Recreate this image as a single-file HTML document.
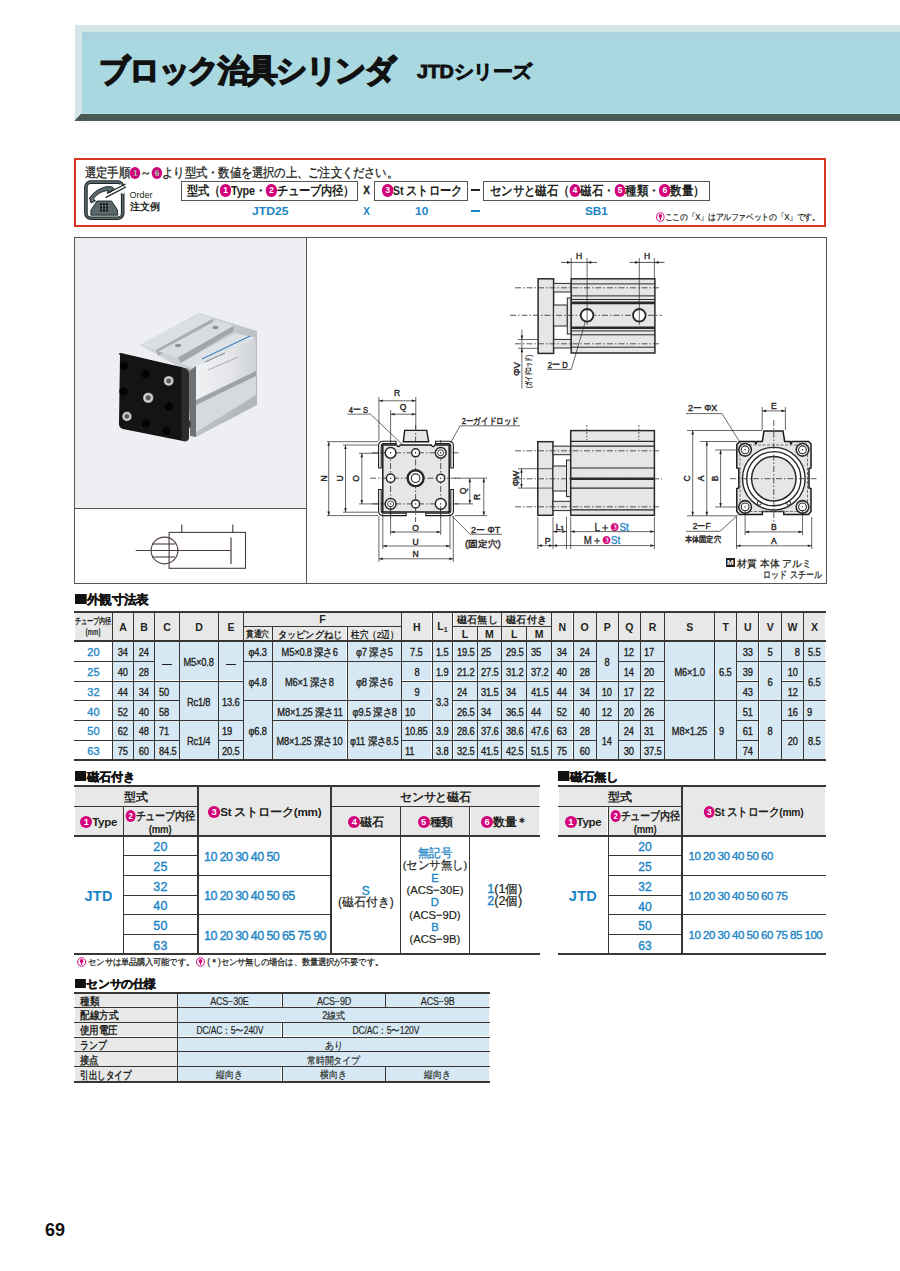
<!DOCTYPE html><html><head><meta charset="utf-8"><style>
*{margin:0;padding:0;box-sizing:border-box}
html,body{width:900px;height:1271px;overflow:hidden;background:#fff}
body{position:relative;font-family:"Liberation Sans",sans-serif;color:#231f20}
.t{position:absolute;white-space:nowrap}
.r{position:absolute}
.cn{display:inline-block;border-radius:50%;background:#d2007a;color:#fff;text-align:center;font-weight:bold;vertical-align:middle;position:relative;top:-1px}
svg{position:absolute;left:0;top:0}
</style></head><body>
<div class="r" style="left:74.5px;top:25.0px;width:825.5px;height:96.0px;background:#485a55;"></div>
<div class="r" style="left:74.5px;top:25.0px;width:825.5px;height:88.5px;background:#d3e6e8;"></div>
<div class="r" style="left:81.5px;top:32.0px;width:818.5px;height:81.5px;background:#a9d8e0;"></div>
<div class="r" style="left:81.5px;top:32.0px;width:818.5px;height:7.5px;background:#a8d3df;"></div>
<div class="r" style="left:81.5px;top:112.5px;width:818.5px;height:1.0px;background:#b4dde8;"></div>
<svg width="900" height="130" style="left:0;top:0"><polygon points="74.5,113.5 81.5,113.5 74.5,121" fill="#d3e6e8"/><polygon points="74.5,121 81.5,113.5 81.5,121" fill="#46574f"/></svg>
<div class="t" style="left:99.0px;top:54.7px;font-size:30.5px;line-height:30.5px;font-weight:bold;color:#111;letter-spacing:-1.9px;-webkit-text-stroke:1.7px #111;transform:scaleX(0.9900);transform-origin:0 0;">ブロック治具シリンダ</div>
<div class="t" style="left:417.0px;top:61.9px;font-size:19px;line-height:19px;font-weight:bold;color:#111;letter-spacing:-0.3px;-webkit-text-stroke:0.8px #111;transform:scaleX(1.0455);transform-origin:0 0;">JTDシリーズ</div>
<div class="r" style="left:74px;top:157.8px;width:751.5px;height:69.2px;border:2px solid #d9361f"></div>
<div class="t" style="left:85.0px;top:166.9px;font-size:12.5px;line-height:12.5px;letter-spacing:-0.2px;-webkit-text-stroke:0.3px #231f20;transform:scaleX(0.8768);transform-origin:0 0;">選定手順<span class="cn" style="width:12px;height:12px;font-size:9.4px;line-height:12px">1</span>～<span class="cn" style="width:12px;height:12px;font-size:9.4px;line-height:12px">6</span>より型式・数値を選択の上、ご注文ください。</div>
<svg width="50" height="48" style="left:80px;top:176px" viewBox="0 0 50 48">
<rect x="5.9" y="6.1" width="36.8" height="36.1" rx="5" ry="5" fill="#fff" stroke="#1c2426" stroke-width="3.6"/>
<rect x="5.9" y="6.1" width="36.8" height="36.1" rx="5" ry="5" fill="none" stroke="#5a686c" stroke-width="1.6"/>
<path d="M40 8 L46 12 L44 18 L38 16 Z" fill="#fff"/>
<path d="M9.5 22 C14 15 22 11 28.5 10.5 C31 10.3 33 11 34 12.5 L31 16 L27.5 16.5 L28 14.5 C22 15 16 18.5 13.5 23 L15.5 25 L11 27 Z" fill="#5a686c" stroke="#1c2426" stroke-width="0.9"/>
<path d="M25.5 21.7 L46 11 M27 17.5 L45.5 8" stroke="#1c2426" stroke-width="1.3"/>
<path d="M10.8 39.2 L37.8 39.2 L37.5 34 L31.5 25 L17 25 L11 34 Z" fill="#5a686c" stroke="#1c2426" stroke-width="0.9"/>
<path d="M20 27.2 h2 v2 h-2z M23 27.2 h2 v2 h-2z M26 27.2 h2 v2 h-2z M20 30.4 h2 v2 h-2z M23 30.4 h2 v2 h-2z M26 30.4 h2 v2 h-2z M20 33.6 h2 v2 h-2z M23 33.6 h2 v2 h-2z M26 33.6 h2 v2 h-2z" fill="#111"/>
</svg>
<div class="t" style="left:129.5px;top:190.7px;font-size:9px;line-height:9px;">Order</div>
<div class="t" style="left:129.5px;top:201.5px;font-size:10px;line-height:10px;font-weight:bold;">注文例</div>
<div class="r" style="left:180.7px;top:180.7px;width:177.6px;height:20px;border:1.5px solid #555"></div>
<div class="r" style="left:373.8px;top:180.7px;width:94.4px;height:20px;border:1.5px solid #555"></div>
<div class="r" style="left:482.9px;top:180.7px;width:227.3px;height:20px;border:1.5px solid #555"></div>
<div class="t" style="left:186.5px;top:184.9px;font-size:12.5px;line-height:12.5px;font-weight:bold;letter-spacing:-0.2px;transform:scaleX(0.8653);transform-origin:0 0;">型式（<span class="cn" style="width:12.5px;height:12.5px;font-size:9.8px;line-height:12.5px">1</span>Type・<span class="cn" style="width:12.5px;height:12.5px;font-size:9.8px;line-height:12.5px">2</span>チューブ内径）</div>
<div class="t" style="left:363.3px;top:186.1px;font-size:10px;line-height:10px;font-weight:bold;-webkit-text-stroke:0.3px #231f20;">X</div>
<div class="t" style="left:381.5px;top:184.9px;font-size:12.5px;line-height:12.5px;font-weight:bold;letter-spacing:-0.2px;transform:scaleX(0.8696);transform-origin:0 0;"><span class="cn" style="width:12.5px;height:12.5px;font-size:9.8px;line-height:12.5px">3</span>St ストローク</div>
<div class="r" style="left:471.0px;top:189.2px;width:9.0px;height:2.0px;background:#231f20;"></div>
<div class="t" style="left:489.5px;top:184.9px;font-size:12.5px;line-height:12.5px;font-weight:bold;letter-spacing:-0.2px;transform:scaleX(0.8843);transform-origin:0 0;">センサと磁石（<span class="cn" style="width:12.5px;height:12.5px;font-size:9.8px;line-height:12.5px">4</span>磁石・<span class="cn" style="width:12.5px;height:12.5px;font-size:9.8px;line-height:12.5px">5</span>種類・<span class="cn" style="width:12.5px;height:12.5px;font-size:9.8px;line-height:12.5px">6</span>数量）</div>
<div class="t" style="left:251.7px;top:205.5px;font-size:11.5px;line-height:11.5px;font-weight:bold;color:#1a84c6;transform:scaleX(1.0571);transform-origin:0 0;">JTD25</div>
<div class="t" style="left:363.3px;top:207.0px;font-size:10px;line-height:10px;font-weight:bold;color:#1a84c6;">X</div>
<div class="t" style="left:415.0px;top:206.2px;font-size:11px;line-height:11px;font-weight:bold;color:#1a84c6;transform:scaleX(1.0833);transform-origin:0 0;">10</div>
<div class="r" style="left:471.0px;top:210.2px;width:9.0px;height:1.8px;background:#1a84c6;"></div>
<div class="t" style="left:585.4px;top:206.2px;font-size:11px;line-height:11px;font-weight:bold;color:#1a84c6;transform:scaleX(1.0714);transform-origin:0 0;">SB1</div>
<div class="t" style="left:656.0px;top:212.9px;font-size:9px;line-height:9px;letter-spacing:-0.3px;-webkit-text-stroke:0.2px #231f20;transform:scaleX(0.8770);transform-origin:0 0;"><svg width="10" height="10" viewBox="0 0 10 10" style="position:relative;display:inline-block;vertical-align:middle;top:-1px;left:0"><circle cx="5" cy="5" r="4.3" fill="#fff" stroke="#d2007a" stroke-width="1"/><circle cx="5" cy="4" r="2" fill="#d2007a"/><rect x="4.4" y="5" width="1.2" height="3" fill="#d2007a"/></svg>ここの「X」はアルファベットの「X」です。</div>
<div class="r" style="left:74px;top:237px;width:752.5px;height:346.5px;border:1px solid #555"></div>
<div class="r" style="left:75.0px;top:238.0px;width:231.2px;height:270.5px;background:#eeeff3;"></div>
<div class="r" style="left:306.0px;top:237.0px;width:1.0px;height:347.0px;background:#555;"></div>
<div class="r" style="left:74.0px;top:508.0px;width:233.0px;height:1.0px;background:#555;"></div>
<svg width="900" height="600" style="font-family:&quot;Liberation Sans&quot;,sans-serif"><circle cx="164.5" cy="550.5" r="13.4" fill="none" stroke="#4a3f3c" stroke-width="1.1"/><rect x="169.1" y="532.4" width="76.4" height="35.89999999999998" fill="none" stroke="#4a3f3c" stroke-width="1.1" rx="0"/><line x1="135.7" y1="550.5" x2="231" y2="550.5" stroke="#4a3f3c" stroke-width="1.1"/><line x1="231" y1="537.5" x2="231" y2="564" stroke="#4a3f3c" stroke-width="1.2"/><line x1="181.8" y1="524.4" x2="181.8" y2="532.4" stroke="#4a3f3c" stroke-width="1.1"/><line x1="232.8" y1="524.4" x2="232.8" y2="532.4" stroke="#4a3f3c" stroke-width="1.1"/><line x1="152" y1="544" x2="175" y2="544" stroke="#4a3f3c" stroke-width="1.1"/><line x1="152" y1="557" x2="175" y2="557" stroke="#4a3f3c" stroke-width="1.1"/><defs>
<linearGradient id="al" x1="0" y1="0" x2="1" y2="0.6"><stop offset="0" stop-color="#d5d8dc"/><stop offset="0.55" stop-color="#c9cdd1"/><stop offset="1" stop-color="#b3b7bb"/></linearGradient>
<linearGradient id="fr" x1="0" y1="0" x2="1" y2="0"><stop offset="0" stop-color="#f2f3f5"/><stop offset="0.6" stop-color="#e3e5e8"/><stop offset="1" stop-color="#cfd2d6"/></linearGradient>
<radialGradient id="scr"><stop offset="0" stop-color="#6b6b6b"/><stop offset="0.45" stop-color="#9a9a9a"/><stop offset="0.7" stop-color="#e0e0e0"/><stop offset="1" stop-color="#8a8a8a"/></radialGradient>
</defs><polygon points="140,345 199,313 257,331 257,405 196,437 188,372" fill="url(#al)"/><polygon points="140.5,344.7 199,314 213,318.5 156,350" fill="#dcdfe2"/><polygon points="156,350 213,318.5 213,324 158,356" fill="#a9adb1"/><polygon points="158.5,351.5 217,320 233.5,326 178,357.5" fill="#d9dce0"/><polygon points="178,357.5 233.5,326 233.5,331 181,363" fill="#a2a6aa"/><ellipse cx="178" cy="345.5" rx="3" ry="1.7" fill="#8d9195"/><ellipse cx="215.5" cy="327.5" rx="3" ry="1.7" fill="#8d9195"/><polygon points="193,366 235,336 256,340 256,376 196,405" fill="url(#fr)"/><polygon points="181,363 235,333 256,338 193,368" fill="#dfe2e5"/><line x1="202" y1="359" x2="250" y2="336" stroke="#3f7fc6" stroke-width="1.1"/><line x1="205" y1="362" x2="225" y2="353" stroke="#7a8088" stroke-width="1"/><line x1="208" y1="370" x2="238" y2="357" stroke="#9aa0a6" stroke-width="0.8"/><polygon points="196,404 256,375 256,395 196,432" fill="#d7dadd"/><polygon points="196,400 256,371 256,376 196,405" fill="#9ea3a8"/><polygon points="188,372 196,366 196,437 190,436" fill="#6e7276"/><ellipse cx="186" cy="372" rx="4" ry="3.5" fill="#c9cbcd" stroke="#555" stroke-width="0.6"/><ellipse cx="188" cy="424" rx="3" ry="4" fill="#3a3a3a"/><path d="M120 355 Q117 353.5 121 353 L181 367 Q189 369 189 373 L189 437 Q189 442 183 441 L123 429 Q119 428 119 424 Z" fill="#141414"/><path d="M181 367 Q189 369 189 373 L189 437 Q189 442 183 441 L181.5 440.5 L181.5 370 Z" fill="#2c2c2c"/><circle cx="124.2" cy="366" r="4.2" fill="#040404"/><circle cx="145.6" cy="374" r="4.3" fill="#040404"/><circle cx="123.5" cy="391.5" r="4.2" fill="#040404"/><circle cx="168.7" cy="406.7" r="4.2" fill="#040404"/><circle cx="145.6" cy="423.6" r="4.2" fill="#040404"/><circle cx="166.9" cy="431" r="4" fill="#040404"/><circle cx="168.7" cy="380.9" r="5.0" fill="url(#scr)"/><circle cx="168.7" cy="380.9" r="2.25" fill="#5a5a5a"/><circle cx="148.2" cy="397.8" r="5.3" fill="url(#scr)"/><circle cx="148.2" cy="397.8" r="2.385" fill="#5a5a5a"/><circle cx="126.9" cy="416.4" r="4.8" fill="url(#scr)"/><circle cx="126.9" cy="416.4" r="2.16" fill="#5a5a5a"/><rect x="538.1" y="278.8" width="15.5" height="74.59999999999997" fill="#e6e6e6" stroke="#2b2726" stroke-width="1.5" rx="0"/><rect x="553.6" y="283.4" width="17.600000000000023" height="8.600000000000023" fill="#e6e6e6" stroke="#2b2726" stroke-width="1" rx="0"/><rect x="553.6" y="305" width="13.699999999999932" height="21" fill="#e6e6e6" stroke="#2b2726" stroke-width="1" rx="0"/><rect x="553.6" y="339.4" width="17.600000000000023" height="8.600000000000023" fill="#e6e6e6" stroke="#2b2726" stroke-width="1" rx="0"/><rect x="567.3" y="298" width="3.900000000000091" height="36" fill="#e6e6e6" stroke="#2b2726" stroke-width="1" rx="0"/><rect x="571.2" y="278.8" width="83.69999999999993" height="74.19999999999999" fill="#e6e6e6" stroke="#2b2726" stroke-width="1.5" rx="0"/><line x1="571.2" y1="283.9" x2="654.9" y2="283.9" stroke="#2b2726" stroke-width="1.0"/><line x1="571.2" y1="295.9" x2="654.9" y2="295.9" stroke="#2b2726" stroke-width="1.0"/><line x1="571.2" y1="299.5" x2="654.9" y2="299.5" stroke="#2b2726" stroke-width="1.0"/><line x1="571.2" y1="347.2" x2="654.9" y2="347.2" stroke="#2b2726" stroke-width="1.0"/><line x1="571.2" y1="330.9" x2="654.9" y2="330.9" stroke="#2b2726" stroke-width="1.0"/><line x1="571.2" y1="334.8" x2="654.9" y2="334.8" stroke="#2b2726" stroke-width="1.0"/><line x1="571.2" y1="302.9" x2="654.9" y2="302.9" stroke="#2b2726" stroke-width="2.6"/><line x1="571.2" y1="327.8" x2="654.9" y2="327.8" stroke="#2b2726" stroke-width="2.6"/><line x1="515" y1="287.8" x2="661" y2="287.8" stroke="#3a3a3a" stroke-width="0.85" stroke-dasharray="6 2 1.5 2"/><line x1="510" y1="315.3" x2="662" y2="315.3" stroke="#3a3a3a" stroke-width="0.85" stroke-dasharray="6 2 1.5 2"/><line x1="515" y1="343.8" x2="661" y2="343.8" stroke="#3a3a3a" stroke-width="0.85" stroke-dasharray="6 2 1.5 2"/><circle cx="587.1" cy="315.3" r="6.3" fill="#fff" stroke="#2b2726" stroke-width="1.8"/><circle cx="639.3" cy="315.3" r="6.3" fill="#fff" stroke="#2b2726" stroke-width="1.8"/><line x1="587.1" y1="258" x2="587.1" y2="325" stroke="#2b2726" stroke-width="0.7"/><line x1="639.3" y1="258" x2="639.3" y2="325" stroke="#2b2726" stroke-width="0.7"/><line x1="571.2" y1="258" x2="571.2" y2="278" stroke="#2b2726" stroke-width="0.7"/><line x1="654.4" y1="258" x2="654.4" y2="278" stroke="#2b2726" stroke-width="0.7"/><line x1="561" y1="262.4" x2="597" y2="262.4" stroke="#2b2726" stroke-width="0.8"/><line x1="629.5" y1="262.4" x2="664.5" y2="262.4" stroke="#2b2726" stroke-width="0.8"/><polygon points="571.2,262.4 567,261 567,263.8" fill="#2b2726"/><polygon points="587.1,262.4 591.3,261 591.3,263.8" fill="#2b2726"/><polygon points="639.3,262.4 635.1,261 635.1,263.8" fill="#2b2726"/><polygon points="654.4,262.4 658.6,261 658.6,263.8" fill="#2b2726"/><text x="579" y="259" font-size="8.5" text-anchor="middle" fill="#2b2726" font-weight="normal" stroke="#2b2726" stroke-width="0.4">H</text><text x="647" y="259" font-size="8.5" text-anchor="middle" fill="#2b2726" font-weight="normal" stroke="#2b2726" stroke-width="0.4">H</text><line x1="521.9" y1="329.5" x2="521.9" y2="388.6" stroke="#2b2726" stroke-width="0.7"/><polygon points="521.9,339.5 520.6,335.5 523.2,335.5" fill="#2b2726"/><polygon points="521.9,348.3 520.6,352.3 523.2,352.3" fill="#2b2726"/><line x1="518" y1="339.5" x2="538" y2="339.5" stroke="#2b2726" stroke-width="0.7"/><line x1="518" y1="348.3" x2="538" y2="348.3" stroke="#2b2726" stroke-width="0.7"/><text x="519.5" y="369" font-size="9.5" text-anchor="middle" fill="#2b2726" font-weight="normal" transform="rotate(-90 519.5 369)" textLength="14" lengthAdjust="spacingAndGlyphs" stroke="#2b2726" stroke-width="0.4">ΦV</text><text x="531" y="371.5" font-size="7.5" text-anchor="middle" fill="#2b2726" font-weight="normal" transform="rotate(-90 531 371.5)" textLength="33" lengthAdjust="spacingAndGlyphs" stroke="#2b2726" stroke-width="0.4">(ガイドロッド)</text><text x="547.8" y="367.5" font-size="9.5" text-anchor="start" fill="#2b2726" font-weight="normal" textLength="20" lengthAdjust="spacingAndGlyphs" stroke="#2b2726" stroke-width="0.4">2ー D</text><line x1="547" y1="369.4" x2="571.3" y2="369.4" stroke="#2b2726" stroke-width="0.7"/><line x1="571.3" y1="369.4" x2="585.5" y2="321" stroke="#2b2726" stroke-width="0.7"/><line x1="327" y1="441.7" x2="378" y2="441.7" stroke="#2b2726" stroke-width="0.7"/><line x1="343" y1="445" x2="382" y2="445" stroke="#2b2726" stroke-width="0.7"/><line x1="359" y1="453.3" x2="388" y2="453.3" stroke="#2b2726" stroke-width="0.7"/><line x1="327" y1="515.6" x2="378" y2="515.6" stroke="#2b2726" stroke-width="0.7"/><line x1="343" y1="512.2" x2="382" y2="512.2" stroke="#2b2726" stroke-width="0.7"/><line x1="359" y1="503.9" x2="388" y2="503.9" stroke="#2b2726" stroke-width="0.7"/><line x1="328.7" y1="441.7" x2="328.7" y2="515.6" stroke="#2b2726" stroke-width="0.7"/><polygon points="328.7,441.7 327.4,445.7 330.0,445.7" fill="#2b2726"/><polygon points="328.7,515.6 327.4,511.6 330.0,511.6" fill="#2b2726"/><line x1="345.5" y1="445" x2="345.5" y2="512.2" stroke="#2b2726" stroke-width="0.7"/><polygon points="345.5,445 344.2,449 346.8,449" fill="#2b2726"/><polygon points="345.5,512.2 344.2,508.20000000000005 346.8,508.20000000000005" fill="#2b2726"/><line x1="361.8" y1="453.3" x2="361.8" y2="503.9" stroke="#2b2726" stroke-width="0.7"/><polygon points="361.8,453.3 360.5,457.3 363.1,457.3" fill="#2b2726"/><polygon points="361.8,503.9 360.5,499.9 363.1,499.9" fill="#2b2726"/><text x="327" y="478.5" font-size="8.5" text-anchor="middle" fill="#2b2726" font-weight="normal" transform="rotate(-90 327 478.5)" stroke="#2b2726" stroke-width="0.4">N</text><text x="342.5" y="478.5" font-size="8.5" text-anchor="middle" fill="#2b2726" font-weight="normal" transform="rotate(-90 342.5 478.5)" stroke="#2b2726" stroke-width="0.4">U</text><text x="358.5" y="478.5" font-size="8.5" text-anchor="middle" fill="#2b2726" font-weight="normal" transform="rotate(-90 358.5 478.5)" stroke="#2b2726" stroke-width="0.4">O</text><line x1="378.9" y1="397" x2="378.9" y2="441" stroke="#2b2726" stroke-width="0.7"/><line x1="390.6" y1="410" x2="390.6" y2="452" stroke="#2b2726" stroke-width="0.7"/><line x1="415.8" y1="397" x2="415.8" y2="430" stroke="#2b2726" stroke-width="0.7"/><line x1="378.9" y1="400.8" x2="415.8" y2="400.8" stroke="#2b2726" stroke-width="0.7"/><polygon points="378.9,400.8 382.9,399.5 382.9,402.1" fill="#2b2726"/><polygon points="415.8,400.8 411.8,399.5 411.8,402.1" fill="#2b2726"/><line x1="390.6" y1="414.2" x2="415.8" y2="414.2" stroke="#2b2726" stroke-width="0.7"/><polygon points="390.6,414.2 394.6,412.9 394.6,415.5" fill="#2b2726"/><polygon points="415.8,414.2 411.8,412.9 411.8,415.5" fill="#2b2726"/><text x="397" y="396" font-size="8.5" text-anchor="middle" fill="#2b2726" font-weight="normal" stroke="#2b2726" stroke-width="0.4">R</text><text x="403" y="409.5" font-size="8.5" text-anchor="middle" fill="#2b2726" font-weight="normal" stroke="#2b2726" stroke-width="0.4">Q</text><text x="348.7" y="412.8" font-size="9.5" text-anchor="start" fill="#2b2726" font-weight="normal" textLength="19.3" lengthAdjust="spacingAndGlyphs" stroke="#2b2726" stroke-width="0.4">4ー S</text><line x1="347.5" y1="414.2" x2="370.5" y2="414.2" stroke="#2b2726" stroke-width="0.7"/><line x1="370.5" y1="414.2" x2="405" y2="447" stroke="#2b2726" stroke-width="0.7"/><polygon points="404.7,430.4 426.7,430.4 428.7,441.7 403.3,441.7" fill="#e6e6e6" stroke="#1e1a19" stroke-width="1.4"/><path d="M382.8 445 H396.6 Q398.4 448.5 400.2 445 H431.3 Q433.1 448.5 434.9 445 H449.2 V512 H382.8 Z" fill="#e6e6e6" stroke="#1e1a19" stroke-width="1.5"/><path d="M396 441.2 H383 Q378.6 441.2 378.6 445.6 V468 H381.2 V446.5 Q381.2 443.6 384 443.6 H396 Z" fill="#fff" stroke="#1e1a19" stroke-width="1.1"/><path d="M435.5 441.2 H449 Q453.4 441.2 453.4 445.6 V468 H450.8 V446.5 Q450.8 443.6 448 443.6 H435.5 Z" fill="#fff" stroke="#1e1a19" stroke-width="1.1"/><path d="M378.6 489.5 V511 Q378.6 515.6 383 515.6 H406.2 V513.2 H384 Q381.2 513.2 381.2 510.4 V489.5 Z" fill="#fff" stroke="#1e1a19" stroke-width="1.1"/><path d="M453.4 489.5 V511 Q453.4 515.6 449 515.6 H425.8 V513.2 H448 Q450.8 513.2 450.8 510.4 V489.5 Z" fill="#fff" stroke="#1e1a19" stroke-width="1.1"/><line x1="372" y1="452.8" x2="460" y2="452.8" stroke="#3a3a3a" stroke-width="0.85" stroke-dasharray="6 2 1.5 2"/><line x1="370" y1="478.2" x2="462" y2="478.2" stroke="#3a3a3a" stroke-width="0.85" stroke-dasharray="6 2 1.5 2"/><line x1="372" y1="503.9" x2="460" y2="503.9" stroke="#3a3a3a" stroke-width="0.85" stroke-dasharray="6 2 1.5 2"/><line x1="390.6" y1="440" x2="390.6" y2="518" stroke="#3a3a3a" stroke-width="0.85" stroke-dasharray="6 2 1.5 2"/><line x1="415.6" y1="425" x2="415.6" y2="522" stroke="#3a3a3a" stroke-width="0.85" stroke-dasharray="6 2 1.5 2"/><line x1="440.7" y1="440" x2="440.7" y2="518" stroke="#3a3a3a" stroke-width="0.85" stroke-dasharray="6 2 1.5 2"/><circle cx="390.6" cy="452.8" r="5.4" fill="#fff" stroke="#2b2726" stroke-width="1.5"/><circle cx="390.6" cy="452.8" r="0.7" fill="#1e1a19"/><circle cx="415.6" cy="452.8" r="4" fill="#fff" stroke="#2b2726" stroke-width="1.5"/><circle cx="415.6" cy="452.8" r="0.7" fill="#1e1a19"/><circle cx="440.7" cy="452.8" r="5.4" fill="#fff" stroke="#2b2726" stroke-width="1.5"/><circle cx="440.7" cy="452.8" r="3" fill="none" stroke="#2b2726" stroke-width="0.9"/><circle cx="440.7" cy="452.8" r="0.7" fill="#1e1a19"/><circle cx="390.6" cy="478.2" r="4.2" fill="#fff" stroke="#2b2726" stroke-width="1.5"/><circle cx="390.6" cy="478.2" r="0.7" fill="#1e1a19"/><circle cx="440.7" cy="478.2" r="4" fill="#fff" stroke="#2b2726" stroke-width="1.5"/><circle cx="440.7" cy="478.2" r="0.7" fill="#1e1a19"/><circle cx="390.6" cy="503.9" r="5.4" fill="#fff" stroke="#2b2726" stroke-width="1.5"/><circle cx="390.6" cy="503.9" r="3" fill="none" stroke="#2b2726" stroke-width="0.9"/><circle cx="390.6" cy="503.9" r="0.7" fill="#1e1a19"/><circle cx="415.6" cy="503.9" r="4" fill="#fff" stroke="#2b2726" stroke-width="1.5"/><circle cx="415.6" cy="503.9" r="0.7" fill="#1e1a19"/><circle cx="440.7" cy="503.9" r="5.4" fill="#fff" stroke="#2b2726" stroke-width="1.5"/><circle cx="440.7" cy="503.9" r="0.7" fill="#1e1a19"/><circle cx="415.6" cy="478.2" r="7.9" fill="#fff" stroke="#2b2726" stroke-width="2.4"/><circle cx="415.6" cy="478.2" r="4.3" fill="none" stroke="#2b2726" stroke-width="1.1"/><line x1="455" y1="478.2" x2="487" y2="478.2" stroke="#2b2726" stroke-width="0.7"/><line x1="455" y1="503.9" x2="473" y2="503.9" stroke="#2b2726" stroke-width="0.7"/><line x1="455" y1="515.6" x2="487" y2="515.6" stroke="#2b2726" stroke-width="0.7"/><line x1="469.8" y1="478.2" x2="469.8" y2="503.9" stroke="#2b2726" stroke-width="0.7"/><polygon points="469.8,478.2 468.5,482.2 471.1,482.2" fill="#2b2726"/><polygon points="469.8,503.9 468.5,499.9 471.1,499.9" fill="#2b2726"/><line x1="483.8" y1="478.2" x2="483.8" y2="515.6" stroke="#2b2726" stroke-width="0.7"/><polygon points="483.8,478.2 482.5,482.2 485.1,482.2" fill="#2b2726"/><polygon points="483.8,515.6 482.5,511.6 485.1,511.6" fill="#2b2726"/><text x="466" y="491" font-size="8.5" text-anchor="middle" fill="#2b2726" font-weight="normal" transform="rotate(-90 466 491)" stroke="#2b2726" stroke-width="0.4">Q</text><text x="480" y="497" font-size="8.5" text-anchor="middle" fill="#2b2726" font-weight="normal" transform="rotate(-90 480 497)" stroke="#2b2726" stroke-width="0.4">R</text><line x1="390.6" y1="506" x2="390.6" y2="535" stroke="#2b2726" stroke-width="0.7"/><line x1="440.7" y1="506" x2="440.7" y2="535" stroke="#2b2726" stroke-width="0.7"/><line x1="382.8" y1="514" x2="382.8" y2="549" stroke="#2b2726" stroke-width="0.7"/><line x1="450" y1="514" x2="450" y2="549" stroke="#2b2726" stroke-width="0.7"/><line x1="378.9" y1="516" x2="378.9" y2="562" stroke="#2b2726" stroke-width="0.7"/><line x1="453.3" y1="516" x2="453.3" y2="562" stroke="#2b2726" stroke-width="0.7"/><line x1="390.6" y1="532" x2="440.7" y2="532" stroke="#2b2726" stroke-width="0.7"/><polygon points="390.6,532 394.6,530.7 394.6,533.3" fill="#2b2726"/><polygon points="440.7,532 436.7,530.7 436.7,533.3" fill="#2b2726"/><line x1="382.8" y1="546" x2="450" y2="546" stroke="#2b2726" stroke-width="0.7"/><polygon points="382.8,546 386.8,544.7 386.8,547.3" fill="#2b2726"/><polygon points="450,546 446,544.7 446,547.3" fill="#2b2726"/><line x1="378.9" y1="558.8" x2="453.3" y2="558.8" stroke="#2b2726" stroke-width="0.7"/><polygon points="378.9,558.8 382.9,557.5 382.9,560.0999999999999" fill="#2b2726"/><polygon points="453.3,558.8 449.3,557.5 449.3,560.0999999999999" fill="#2b2726"/><text x="415.6" y="530.5" font-size="8.5" text-anchor="middle" fill="#2b2726" font-weight="normal" stroke="#2b2726" stroke-width="0.4">O</text><text x="415.6" y="544.5" font-size="8.5" text-anchor="middle" fill="#2b2726" font-weight="normal" stroke="#2b2726" stroke-width="0.4">U</text><text x="415.6" y="557" font-size="8.5" text-anchor="middle" fill="#2b2726" font-weight="normal" stroke="#2b2726" stroke-width="0.4">N</text><text x="461.7" y="423.5" font-size="9" text-anchor="start" fill="#2b2726" font-weight="normal" textLength="57" lengthAdjust="spacingAndGlyphs" stroke="#2b2726" stroke-width="0.4">2ーガイドロッド</text><line x1="460" y1="425.8" x2="520" y2="425.8" stroke="#2b2726" stroke-width="0.7"/><line x1="460" y1="425.8" x2="450.5" y2="443" stroke="#2b2726" stroke-width="0.7"/><text x="471" y="532.5" font-size="9" text-anchor="start" fill="#2b2726" font-weight="normal" textLength="29.2" lengthAdjust="spacingAndGlyphs" stroke="#2b2726" stroke-width="0.4">2ー ΦT</text><line x1="470" y1="534.3" x2="502" y2="534.3" stroke="#2b2726" stroke-width="0.7"/><line x1="470" y1="534.3" x2="452" y2="516" stroke="#2b2726" stroke-width="0.7"/><text x="465" y="547.2" font-size="9" text-anchor="start" fill="#2b2726" font-weight="normal" textLength="35.7" lengthAdjust="spacingAndGlyphs" stroke="#2b2726" stroke-width="0.4">(固定穴)</text><rect x="537.8" y="441.7" width="15.200000000000045" height="73.59999999999997" fill="#e6e6e6" stroke="#2b2726" stroke-width="1.5" rx="0"/><rect x="553" y="446.1" width="17.700000000000045" height="8.599999999999966" fill="#e6e6e6" stroke="#2b2726" stroke-width="1" rx="0"/><rect x="553" y="501.3" width="17.700000000000045" height="9.300000000000011" fill="#e6e6e6" stroke="#2b2726" stroke-width="1" rx="0"/><rect x="553" y="466" width="13.5" height="25" fill="#e6e6e6" stroke="#2b2726" stroke-width="1" rx="0"/><rect x="566.5" y="460.1" width="4.2000000000000455" height="36.5" fill="#e6e6e6" stroke="#2b2726" stroke-width="1" rx="0"/><rect x="570.7" y="430.6" width="83.69999999999993" height="84.69999999999993" fill="#e6e6e6" stroke="#2b2726" stroke-width="1.5" rx="0"/><line x1="570.7" y1="441.4" x2="654.4" y2="441.4" stroke="#2b2726" stroke-width="1.1"/><line x1="570.7" y1="446.1" x2="654.4" y2="446.1" stroke="#2b2726" stroke-width="1.1"/><line x1="570.7" y1="468.0" x2="654.4" y2="468.0" stroke="#2b2726" stroke-width="1.1"/><line x1="570.7" y1="488.1" x2="654.4" y2="488.1" stroke="#2b2726" stroke-width="1.1"/><line x1="570.7" y1="509.9" x2="654.4" y2="509.9" stroke="#2b2726" stroke-width="1.1"/><line x1="570.7" y1="478.8" x2="654.4" y2="478.8" stroke="#2b2726" stroke-width="2.6"/><line x1="515" y1="450.8" x2="660" y2="450.8" stroke="#3a3a3a" stroke-width="0.85" stroke-dasharray="6 2 1.5 2"/><line x1="515" y1="478.8" x2="662" y2="478.8" stroke="#3a3a3a" stroke-width="0.85" stroke-dasharray="6 2 1.5 2"/><line x1="515" y1="506.8" x2="660" y2="506.8" stroke="#3a3a3a" stroke-width="0.85" stroke-dasharray="6 2 1.5 2"/><line x1="586.8" y1="425" x2="586.8" y2="440" stroke="#2b2726" stroke-width="0.7" stroke-dasharray="2 1.5"/><line x1="638.9" y1="425" x2="638.9" y2="440" stroke="#2b2726" stroke-width="0.7" stroke-dasharray="2 1.5"/><line x1="518" y1="468.7" x2="553" y2="468.7" stroke="#2b2726" stroke-width="0.7"/><line x1="518" y1="488.1" x2="553" y2="488.1" stroke="#2b2726" stroke-width="0.7"/><line x1="521.5" y1="468.7" x2="521.5" y2="488.1" stroke="#2b2726" stroke-width="0.7"/><polygon points="521.5,468.7 520.2,472.7 522.8,472.7" fill="#2b2726"/><polygon points="521.5,488.1 520.2,484.1 522.8,484.1" fill="#2b2726"/><text x="518.5" y="478.5" font-size="9" text-anchor="middle" fill="#2b2726" font-weight="normal" transform="rotate(-90 518.5 478.5)" stroke="#2b2726" stroke-width="0.4">ΦW</text><line x1="537.8" y1="517" x2="537.8" y2="549" stroke="#2b2726" stroke-width="0.7"/><line x1="553" y1="517" x2="553" y2="549" stroke="#2b2726" stroke-width="0.7"/><line x1="566.5" y1="517" x2="566.5" y2="549" stroke="#2b2726" stroke-width="0.7"/><line x1="570.7" y1="517" x2="570.7" y2="549" stroke="#2b2726" stroke-width="0.7"/><line x1="654.4" y1="517" x2="654.4" y2="549" stroke="#2b2726" stroke-width="0.7"/><line x1="553" y1="531.6" x2="566.5" y2="531.6" stroke="#2b2726" stroke-width="0.7"/><polygon points="553,531.6 557,530.3000000000001 557,532.9" fill="#2b2726"/><polygon points="566.5,531.6 562.5,530.3000000000001 562.5,532.9" fill="#2b2726"/><line x1="570.7" y1="531.6" x2="654.4" y2="531.6" stroke="#2b2726" stroke-width="0.7"/><polygon points="570.7,531.6 574.7,530.3000000000001 574.7,532.9" fill="#2b2726"/><polygon points="654.4,531.6 650.4,530.3000000000001 650.4,532.9" fill="#2b2726"/><line x1="537.8" y1="545.6" x2="553" y2="545.6" stroke="#2b2726" stroke-width="0.7"/><polygon points="537.8,545.6 541.8,544.3000000000001 541.8,546.9" fill="#2b2726"/><polygon points="553,545.6 549,544.3000000000001 549,546.9" fill="#2b2726"/><line x1="553" y1="545.6" x2="654.4" y2="545.6" stroke="#2b2726" stroke-width="0.7"/><polygon points="553,545.6 557,544.3000000000001 557,546.9" fill="#2b2726"/><polygon points="654.4,545.6 650.4,544.3000000000001 650.4,546.9" fill="#2b2726"/><text x="555.7" y="530" font-size="8.5" text-anchor="start" fill="#2b2726" font-weight="normal" stroke="#2b2726" stroke-width="0.4">L<tspan font-size="6">1</tspan></text><text x="544.8" y="543.5" font-size="8.5" text-anchor="start" fill="#2b2726" font-weight="normal" stroke="#2b2726" stroke-width="0.4">P</text><text x="594.5" y="530.5" font-size="10.5" fill="#2b2726" stroke="#2b2726" stroke-width="0.3" textLength="34.3" lengthAdjust="spacingAndGlyphs">L＋<tspan fill="#d2007a" stroke="none">❸</tspan><tspan fill="#1a84c6" stroke="#1a84c6">St</tspan></text><text x="583.7" y="544" font-size="10.5" fill="#2b2726" stroke="#2b2726" stroke-width="0.3" textLength="36.5" lengthAdjust="spacingAndGlyphs">M＋<tspan fill="#d2007a" stroke="none">❸</tspan><tspan fill="#1a84c6" stroke="#1a84c6">St</tspan></text><line x1="687" y1="430.5" x2="762" y2="430.5" stroke="#2b2726" stroke-width="0.7"/><line x1="700" y1="441.5" x2="737" y2="441.5" stroke="#2b2726" stroke-width="0.7"/><line x1="715" y1="450" x2="745" y2="450" stroke="#2b2726" stroke-width="0.7"/><line x1="687" y1="515.8" x2="737" y2="515.8" stroke="#2b2726" stroke-width="0.7"/><line x1="715" y1="507" x2="745" y2="507" stroke="#2b2726" stroke-width="0.7"/><line x1="692.7" y1="430.5" x2="692.7" y2="515.8" stroke="#2b2726" stroke-width="0.7"/><polygon points="692.7,430.5 691.4000000000001,434.5 694.0,434.5" fill="#2b2726"/><polygon points="692.7,515.8 691.4000000000001,511.79999999999995 694.0,511.79999999999995" fill="#2b2726"/><line x1="706.8" y1="441.5" x2="706.8" y2="515.8" stroke="#2b2726" stroke-width="0.7"/><polygon points="706.8,441.5 705.5,445.5 708.0999999999999,445.5" fill="#2b2726"/><polygon points="706.8,515.8 705.5,511.79999999999995 708.0999999999999,511.79999999999995" fill="#2b2726"/><line x1="720.6" y1="450" x2="720.6" y2="507" stroke="#2b2726" stroke-width="0.7"/><polygon points="720.6,450 719.3000000000001,454 721.9,454" fill="#2b2726"/><polygon points="720.6,507 719.3000000000001,503 721.9,503" fill="#2b2726"/><text x="690" y="478.5" font-size="8.5" text-anchor="middle" fill="#2b2726" font-weight="normal" transform="rotate(-90 690 478.5)" stroke="#2b2726" stroke-width="0.4">C</text><text x="704" y="478.5" font-size="8.5" text-anchor="middle" fill="#2b2726" font-weight="normal" transform="rotate(-90 704 478.5)" stroke="#2b2726" stroke-width="0.4">A</text><text x="718" y="478.5" font-size="8.5" text-anchor="middle" fill="#2b2726" font-weight="normal" transform="rotate(-90 718 478.5)" stroke="#2b2726" stroke-width="0.4">B</text><path d="M739.5 441.6 H755 Q755.9 446.5 756.8 441.6 H762.3 L764 430.9 H783 L784.7 441.6 H790.2 Q791.1 446.5 792 441.6 H808.7 L811 444 V468 L809 468.5 V488 L811 488.5 V511.5 L808.5 514.4 H783.8 V511.5 H762.3 V514.4 H739.5 L736.8 511.5 V488.5 L738.8 488 V468.5 L736.8 468 V444.5 Z" fill="#e6e6e6" stroke="#1e1a19" stroke-width="1.5"/><rect x="740" y="445" width="67.5" height="66.5" fill="none" stroke="#555" stroke-width="0.8" stroke-dasharray="3 1.5"/><circle cx="773.8" cy="478.7" r="31.3" fill="#fff" stroke="#2b2726" stroke-width="1.4"/><circle cx="773.8" cy="478.7" r="27.1" fill="none" stroke="#2b2726" stroke-width="1.4"/><circle cx="773.8" cy="478.7" r="22.2" fill="#e6e6e6" stroke="#2b2726" stroke-width="1.5"/><circle cx="759.3" cy="503.2" r="2" fill="none" stroke="#2b2726" stroke-width="1"/><circle cx="788.7" cy="503.2" r="2" fill="none" stroke="#2b2726" stroke-width="1"/><line x1="773.8" y1="420" x2="773.8" y2="523" stroke="#3a3a3a" stroke-width="0.85" stroke-dasharray="6 2 1.5 2"/><line x1="730" y1="478.7" x2="818" y2="478.7" stroke="#3a3a3a" stroke-width="0.85" stroke-dasharray="6 2 1.5 2"/><circle cx="745.1" cy="449.8" r="6.3" fill="#fff" stroke="#2b2726" stroke-width="1.6"/><circle cx="745.1" cy="449.8" r="3.9" fill="none" stroke="#2b2726" stroke-width="1.1"/><circle cx="745.1" cy="449.8" r="0.7" fill="#1e1a19"/><circle cx="802.5" cy="449.8" r="6.3" fill="#fff" stroke="#2b2726" stroke-width="1.6"/><circle cx="802.5" cy="449.8" r="3.9" fill="none" stroke="#2b2726" stroke-width="1.1"/><circle cx="802.5" cy="449.8" r="0.7" fill="#1e1a19"/><circle cx="745.1" cy="506.9" r="6.3" fill="#fff" stroke="#2b2726" stroke-width="1.6"/><circle cx="745.1" cy="506.9" r="3.9" fill="none" stroke="#2b2726" stroke-width="1.1"/><circle cx="745.1" cy="506.9" r="0.7" fill="#1e1a19"/><circle cx="802.5" cy="506.9" r="6.3" fill="#fff" stroke="#2b2726" stroke-width="1.6"/><circle cx="802.5" cy="506.9" r="3.9" fill="none" stroke="#2b2726" stroke-width="1.1"/><circle cx="802.5" cy="506.9" r="0.7" fill="#1e1a19"/><line x1="762.2" y1="407" x2="762.2" y2="430" stroke="#2b2726" stroke-width="0.7"/><line x1="785.4" y1="407" x2="785.4" y2="430" stroke="#2b2726" stroke-width="0.7"/><line x1="762.2" y1="410.9" x2="785.4" y2="410.9" stroke="#2b2726" stroke-width="0.7"/><polygon points="762.2,410.9 766.2,409.59999999999997 766.2,412.2" fill="#2b2726"/><polygon points="785.4,410.9 781.4,409.59999999999997 781.4,412.2" fill="#2b2726"/><text x="773.8" y="409" font-size="8.5" text-anchor="middle" fill="#2b2726" font-weight="normal" stroke="#2b2726" stroke-width="0.4">E</text><line x1="745.1" y1="510" x2="745.1" y2="535" stroke="#2b2726" stroke-width="0.7"/><line x1="802.5" y1="510" x2="802.5" y2="535" stroke="#2b2726" stroke-width="0.7"/><line x1="736.5" y1="517" x2="736.5" y2="549" stroke="#2b2726" stroke-width="0.7"/><line x1="811.7" y1="517" x2="811.7" y2="549" stroke="#2b2726" stroke-width="0.7"/><line x1="745.1" y1="531.9" x2="802.5" y2="531.9" stroke="#2b2726" stroke-width="0.7"/><polygon points="745.1,531.9 749.1,530.6 749.1,533.1999999999999" fill="#2b2726"/><polygon points="802.5,531.9 798.5,530.6 798.5,533.1999999999999" fill="#2b2726"/><line x1="736.5" y1="545.8" x2="811.7" y2="545.8" stroke="#2b2726" stroke-width="0.7"/><polygon points="736.5,545.8 740.5,544.5 740.5,547.0999999999999" fill="#2b2726"/><polygon points="811.7,545.8 807.7,544.5 807.7,547.0999999999999" fill="#2b2726"/><text x="773.8" y="530" font-size="8.5" text-anchor="middle" fill="#2b2726" font-weight="normal" stroke="#2b2726" stroke-width="0.4">B</text><text x="773.8" y="544" font-size="8.5" text-anchor="middle" fill="#2b2726" font-weight="normal" stroke="#2b2726" stroke-width="0.4">A</text><text x="688" y="410.8" font-size="9" text-anchor="start" fill="#2b2726" font-weight="normal" textLength="29.2" lengthAdjust="spacingAndGlyphs" stroke="#2b2726" stroke-width="0.4">2ー ΦX</text><line x1="686" y1="413.6" x2="722" y2="413.6" stroke="#2b2726" stroke-width="0.7"/><line x1="722" y1="413.6" x2="741" y2="444" stroke="#2b2726" stroke-width="0.7"/><text x="692.7" y="528.8" font-size="9" text-anchor="start" fill="#2b2726" font-weight="normal" textLength="18" lengthAdjust="spacingAndGlyphs" stroke="#2b2726" stroke-width="0.4">2ーF</text><line x1="686" y1="531.3" x2="720" y2="531.3" stroke="#2b2726" stroke-width="0.7"/><line x1="720" y1="531.3" x2="738" y2="515" stroke="#2b2726" stroke-width="0.7"/><text x="684.7" y="542" font-size="8" text-anchor="start" fill="#2b2726" font-weight="normal" textLength="36.3" lengthAdjust="spacingAndGlyphs" stroke="#2b2726" stroke-width="0.4">本体固定穴</text></svg>
<div class="r" style="left:725.7px;top:558px;width:9.5px;height:9px;background:#231f20;color:#fff;font-size:8px;line-height:9px;text-align:center;font-weight:bold">M</div>
<div class="t" style="left:737.0px;top:558.5px;font-size:9.5px;line-height:9.5px;letter-spacing:0.2px;-webkit-text-stroke:0.25px #231f20;transform:scaleX(0.9740);transform-origin:0 0;">材質 本体 アルミ</div>
<div class="t" style="left:762.6px;top:570.0px;font-size:9.5px;line-height:9.5px;letter-spacing:0.2px;-webkit-text-stroke:0.25px #231f20;transform:scaleX(0.7973);transform-origin:0 0;">ロッド スチール</div>
<div class="t" style="left:74.5px;top:594.2px;font-size:12.5px;line-height:12.5px;font-weight:bold;letter-spacing:-0.3px;-webkit-text-stroke:0.35px #111;transform:scaleX(0.9737);transform-origin:0 0;"><span style="display:inline-block;width:0.92em;height:0.8em;background:#111;vertical-align:-0.02em;margin-right:0.05em"></span>外観寸法表</div>
<div class="r" style="left:74.0px;top:611.6px;width:38.8px;height:29.7px;background:#fff;"></div>
<div class="r" style="left:74.6px;top:612.2px;width:37.6px;height:28.5px;background:#e8e8e8;"></div>
<div class="r" style="left:74.0px;top:611.6px;width:38.8px;height:29.7px;display:flex;align-items:center;justify-content:center;text-align:center;font-size:10px;line-height:10.0px;color:#231f20;font-weight:bold;letter-spacing:-0.3px;white-space:nowrap;"><span style="display:inline-block;position:relative;top:0.5px;transform:scaleX(0.68);transform-origin:50% 50%"><div style="font-size:9px;line-height:11px;letter-spacing:0px">チューブ内径<br>(mm)</div></span></div>
<div class="r" style="left:112.8px;top:611.6px;width:20.5px;height:29.7px;background:#fff;"></div>
<div class="r" style="left:113.4px;top:612.2px;width:19.3px;height:28.5px;background:#e8e8e8;"></div>
<div class="r" style="left:112.8px;top:611.6px;width:20.5px;height:29.7px;display:flex;align-items:center;justify-content:center;text-align:center;font-size:10.5px;line-height:10.5px;color:#231f20;font-weight:bold;letter-spacing:0px;white-space:nowrap;"><span style="display:inline-block;position:relative;top:0.5px;transform:scaleX(1.0);transform-origin:50% 50%">A</span></div>
<div class="r" style="left:133.3px;top:611.6px;width:21.3px;height:29.7px;background:#fff;"></div>
<div class="r" style="left:133.9px;top:612.2px;width:20.1px;height:28.5px;background:#e8e8e8;"></div>
<div class="r" style="left:133.3px;top:611.6px;width:21.3px;height:29.7px;display:flex;align-items:center;justify-content:center;text-align:center;font-size:10.5px;line-height:10.5px;color:#231f20;font-weight:bold;letter-spacing:0px;white-space:nowrap;"><span style="display:inline-block;position:relative;top:0.5px;transform:scaleX(1.0);transform-origin:50% 50%">B</span></div>
<div class="r" style="left:154.6px;top:611.6px;width:24.9px;height:29.7px;background:#fff;"></div>
<div class="r" style="left:155.2px;top:612.2px;width:23.7px;height:28.5px;background:#e8e8e8;"></div>
<div class="r" style="left:154.6px;top:611.6px;width:24.9px;height:29.7px;display:flex;align-items:center;justify-content:center;text-align:center;font-size:10.5px;line-height:10.5px;color:#231f20;font-weight:bold;letter-spacing:0px;white-space:nowrap;"><span style="display:inline-block;position:relative;top:0.5px;transform:scaleX(1.0);transform-origin:50% 50%">C</span></div>
<div class="r" style="left:179.5px;top:611.6px;width:38.9px;height:29.7px;background:#fff;"></div>
<div class="r" style="left:180.1px;top:612.2px;width:37.7px;height:28.5px;background:#e8e8e8;"></div>
<div class="r" style="left:179.5px;top:611.6px;width:38.9px;height:29.7px;display:flex;align-items:center;justify-content:center;text-align:center;font-size:10.5px;line-height:10.5px;color:#231f20;font-weight:bold;letter-spacing:0px;white-space:nowrap;"><span style="display:inline-block;position:relative;top:0.5px;transform:scaleX(1.0);transform-origin:50% 50%">D</span></div>
<div class="r" style="left:218.4px;top:611.6px;width:25.0px;height:29.7px;background:#fff;"></div>
<div class="r" style="left:219.0px;top:612.2px;width:23.8px;height:28.5px;background:#e8e8e8;"></div>
<div class="r" style="left:218.4px;top:611.6px;width:25.0px;height:29.7px;display:flex;align-items:center;justify-content:center;text-align:center;font-size:10.5px;line-height:10.5px;color:#231f20;font-weight:bold;letter-spacing:0px;white-space:nowrap;"><span style="display:inline-block;position:relative;top:0.5px;transform:scaleX(1.0);transform-origin:50% 50%">E</span></div>
<div class="r" style="left:243.4px;top:611.6px;width:158.0px;height:14.9px;background:#fff;"></div>
<div class="r" style="left:244.0px;top:612.2px;width:156.8px;height:13.7px;background:#e8e8e8;"></div>
<div class="r" style="left:243.4px;top:611.6px;width:158.0px;height:14.9px;display:flex;align-items:center;justify-content:center;text-align:center;font-size:10.5px;line-height:10.5px;color:#231f20;font-weight:bold;letter-spacing:0px;white-space:nowrap;"><span style="display:inline-block;position:relative;top:0.5px;transform:scaleX(1.0);transform-origin:50% 50%">F</span></div>
<div class="r" style="left:243.4px;top:626.5px;width:29.1px;height:14.8px;background:#fff;"></div>
<div class="r" style="left:244.0px;top:627.1px;width:27.9px;height:13.6px;background:#e8e8e8;"></div>
<div class="r" style="left:243.4px;top:626.5px;width:29.1px;height:14.8px;display:flex;align-items:center;justify-content:center;text-align:center;font-size:9px;line-height:9.0px;color:#231f20;font-weight:bold;letter-spacing:0px;white-space:nowrap;"><span style="display:inline-block;position:relative;top:0.5px;transform:scaleX(0.85);transform-origin:50% 50%">貫通穴</span></div>
<div class="r" style="left:272.5px;top:626.5px;width:74.6px;height:14.8px;background:#fff;"></div>
<div class="r" style="left:273.1px;top:627.1px;width:73.4px;height:13.6px;background:#e8e8e8;"></div>
<div class="r" style="left:272.5px;top:626.5px;width:74.6px;height:14.8px;display:flex;align-items:center;justify-content:center;text-align:center;font-size:9.5px;line-height:9.5px;color:#231f20;font-weight:bold;letter-spacing:0px;white-space:nowrap;"><span style="display:inline-block;position:relative;top:0.5px;transform:scaleX(0.92);transform-origin:50% 50%">タッピングねじ</span></div>
<div class="r" style="left:347.1px;top:626.5px;width:54.3px;height:14.8px;background:#fff;"></div>
<div class="r" style="left:347.7px;top:627.1px;width:53.1px;height:13.6px;background:#e8e8e8;"></div>
<div class="r" style="left:347.1px;top:626.5px;width:54.3px;height:14.8px;display:flex;align-items:center;justify-content:center;text-align:center;font-size:9.5px;line-height:9.5px;color:#231f20;font-weight:bold;letter-spacing:0px;white-space:nowrap;"><span style="display:inline-block;position:relative;top:0.5px;transform:scaleX(0.85);transform-origin:50% 50%">柱穴（2辺）</span></div>
<div class="r" style="left:401.4px;top:611.6px;width:30.6px;height:29.7px;background:#fff;"></div>
<div class="r" style="left:402.0px;top:612.2px;width:29.4px;height:28.5px;background:#e8e8e8;"></div>
<div class="r" style="left:401.4px;top:611.6px;width:30.6px;height:29.7px;display:flex;align-items:center;justify-content:center;text-align:center;font-size:10.5px;line-height:10.5px;color:#231f20;font-weight:bold;letter-spacing:0px;white-space:nowrap;"><span style="display:inline-block;position:relative;top:0.5px;transform:scaleX(1.0);transform-origin:50% 50%">H</span></div>
<div class="r" style="left:432.0px;top:611.6px;width:20.9px;height:29.7px;background:#fff;"></div>
<div class="r" style="left:432.6px;top:612.2px;width:19.7px;height:28.5px;background:#e8e8e8;"></div>
<div class="r" style="left:432.0px;top:611.6px;width:20.9px;height:29.7px;display:flex;align-items:center;justify-content:center;text-align:center;font-size:10.5px;line-height:10.5px;color:#231f20;font-weight:bold;letter-spacing:0px;white-space:nowrap;"><span style="display:inline-block;position:relative;top:0.5px;transform:scaleX(1.0);transform-origin:50% 50%">L<span style="font-size:7px;position:relative;top:2px">1</span></span></div>
<div class="r" style="left:452.9px;top:611.6px;width:48.7px;height:14.9px;background:#fff;"></div>
<div class="r" style="left:453.5px;top:612.2px;width:47.5px;height:13.7px;background:#e8e8e8;"></div>
<div class="r" style="left:452.9px;top:611.6px;width:48.7px;height:14.9px;display:flex;align-items:center;justify-content:center;text-align:center;font-size:9.5px;line-height:9.5px;color:#231f20;font-weight:bold;letter-spacing:0.3px;white-space:nowrap;"><span style="display:inline-block;position:relative;top:0.5px;transform:scaleX(1.0);transform-origin:50% 50%">磁石無し</span></div>
<div class="r" style="left:501.6px;top:611.6px;width:49.9px;height:14.9px;background:#fff;"></div>
<div class="r" style="left:502.2px;top:612.2px;width:48.7px;height:13.7px;background:#e8e8e8;"></div>
<div class="r" style="left:501.6px;top:611.6px;width:49.9px;height:14.9px;display:flex;align-items:center;justify-content:center;text-align:center;font-size:9.5px;line-height:9.5px;color:#231f20;font-weight:bold;letter-spacing:0.3px;white-space:nowrap;"><span style="display:inline-block;position:relative;top:0.5px;transform:scaleX(1.0);transform-origin:50% 50%">磁石付き</span></div>
<div class="r" style="left:452.9px;top:626.5px;width:24.3px;height:14.8px;background:#fff;"></div>
<div class="r" style="left:453.5px;top:627.1px;width:23.1px;height:13.6px;background:#e8e8e8;"></div>
<div class="r" style="left:452.9px;top:626.5px;width:24.3px;height:14.8px;display:flex;align-items:center;justify-content:center;text-align:center;font-size:10.5px;line-height:10.5px;color:#231f20;font-weight:bold;letter-spacing:0px;white-space:nowrap;"><span style="display:inline-block;position:relative;top:0.5px;transform:scaleX(1.0);transform-origin:50% 50%">L</span></div>
<div class="r" style="left:477.2px;top:626.5px;width:24.4px;height:14.8px;background:#fff;"></div>
<div class="r" style="left:477.8px;top:627.1px;width:23.2px;height:13.6px;background:#e8e8e8;"></div>
<div class="r" style="left:477.2px;top:626.5px;width:24.4px;height:14.8px;display:flex;align-items:center;justify-content:center;text-align:center;font-size:10.5px;line-height:10.5px;color:#231f20;font-weight:bold;letter-spacing:0px;white-space:nowrap;"><span style="display:inline-block;position:relative;top:0.5px;transform:scaleX(1.0);transform-origin:50% 50%">M</span></div>
<div class="r" style="left:501.6px;top:626.5px;width:25.0px;height:14.8px;background:#fff;"></div>
<div class="r" style="left:502.2px;top:627.1px;width:23.8px;height:13.6px;background:#e8e8e8;"></div>
<div class="r" style="left:501.6px;top:626.5px;width:25.0px;height:14.8px;display:flex;align-items:center;justify-content:center;text-align:center;font-size:10.5px;line-height:10.5px;color:#231f20;font-weight:bold;letter-spacing:0px;white-space:nowrap;"><span style="display:inline-block;position:relative;top:0.5px;transform:scaleX(1.0);transform-origin:50% 50%">L</span></div>
<div class="r" style="left:526.6px;top:626.5px;width:24.9px;height:14.8px;background:#fff;"></div>
<div class="r" style="left:527.2px;top:627.1px;width:23.7px;height:13.6px;background:#e8e8e8;"></div>
<div class="r" style="left:526.6px;top:626.5px;width:24.9px;height:14.8px;display:flex;align-items:center;justify-content:center;text-align:center;font-size:10.5px;line-height:10.5px;color:#231f20;font-weight:bold;letter-spacing:0px;white-space:nowrap;"><span style="display:inline-block;position:relative;top:0.5px;transform:scaleX(1.0);transform-origin:50% 50%">M</span></div>
<div class="r" style="left:551.5px;top:611.6px;width:21.5px;height:29.7px;background:#fff;"></div>
<div class="r" style="left:552.1px;top:612.2px;width:20.3px;height:28.5px;background:#e8e8e8;"></div>
<div class="r" style="left:551.5px;top:611.6px;width:21.5px;height:29.7px;display:flex;align-items:center;justify-content:center;text-align:center;font-size:10.5px;line-height:10.5px;color:#231f20;font-weight:bold;letter-spacing:0px;white-space:nowrap;"><span style="display:inline-block;position:relative;top:0.5px;transform:scaleX(1.0);transform-origin:50% 50%">N</span></div>
<div class="r" style="left:573.0px;top:611.6px;width:23.2px;height:29.7px;background:#fff;"></div>
<div class="r" style="left:573.6px;top:612.2px;width:22.0px;height:28.5px;background:#e8e8e8;"></div>
<div class="r" style="left:573.0px;top:611.6px;width:23.2px;height:29.7px;display:flex;align-items:center;justify-content:center;text-align:center;font-size:10.5px;line-height:10.5px;color:#231f20;font-weight:bold;letter-spacing:0px;white-space:nowrap;"><span style="display:inline-block;position:relative;top:0.5px;transform:scaleX(1.0);transform-origin:50% 50%">O</span></div>
<div class="r" style="left:596.2px;top:611.6px;width:22.1px;height:29.7px;background:#fff;"></div>
<div class="r" style="left:596.8px;top:612.2px;width:20.9px;height:28.5px;background:#e8e8e8;"></div>
<div class="r" style="left:596.2px;top:611.6px;width:22.1px;height:29.7px;display:flex;align-items:center;justify-content:center;text-align:center;font-size:10.5px;line-height:10.5px;color:#231f20;font-weight:bold;letter-spacing:0px;white-space:nowrap;"><span style="display:inline-block;position:relative;top:0.5px;transform:scaleX(1.0);transform-origin:50% 50%">P</span></div>
<div class="r" style="left:618.3px;top:611.6px;width:22.0px;height:29.7px;background:#fff;"></div>
<div class="r" style="left:618.9px;top:612.2px;width:20.8px;height:28.5px;background:#e8e8e8;"></div>
<div class="r" style="left:618.3px;top:611.6px;width:22.0px;height:29.7px;display:flex;align-items:center;justify-content:center;text-align:center;font-size:10.5px;line-height:10.5px;color:#231f20;font-weight:bold;letter-spacing:0px;white-space:nowrap;"><span style="display:inline-block;position:relative;top:0.5px;transform:scaleX(1.0);transform-origin:50% 50%">Q</span></div>
<div class="r" style="left:640.3px;top:611.6px;width:24.4px;height:29.7px;background:#fff;"></div>
<div class="r" style="left:640.9px;top:612.2px;width:23.2px;height:28.5px;background:#e8e8e8;"></div>
<div class="r" style="left:640.3px;top:611.6px;width:24.4px;height:29.7px;display:flex;align-items:center;justify-content:center;text-align:center;font-size:10.5px;line-height:10.5px;color:#231f20;font-weight:bold;letter-spacing:0px;white-space:nowrap;"><span style="display:inline-block;position:relative;top:0.5px;transform:scaleX(1.0);transform-origin:50% 50%">R</span></div>
<div class="r" style="left:664.7px;top:611.6px;width:49.9px;height:29.7px;background:#fff;"></div>
<div class="r" style="left:665.3px;top:612.2px;width:48.7px;height:28.5px;background:#e8e8e8;"></div>
<div class="r" style="left:664.7px;top:611.6px;width:49.9px;height:29.7px;display:flex;align-items:center;justify-content:center;text-align:center;font-size:10.5px;line-height:10.5px;color:#231f20;font-weight:bold;letter-spacing:0px;white-space:nowrap;"><span style="display:inline-block;position:relative;top:0.5px;transform:scaleX(1.0);transform-origin:50% 50%">S</span></div>
<div class="r" style="left:714.6px;top:611.6px;width:22.0px;height:29.7px;background:#fff;"></div>
<div class="r" style="left:715.2px;top:612.2px;width:20.8px;height:28.5px;background:#e8e8e8;"></div>
<div class="r" style="left:714.6px;top:611.6px;width:22.0px;height:29.7px;display:flex;align-items:center;justify-content:center;text-align:center;font-size:10.5px;line-height:10.5px;color:#231f20;font-weight:bold;letter-spacing:0px;white-space:nowrap;"><span style="display:inline-block;position:relative;top:0.5px;transform:scaleX(1.0);transform-origin:50% 50%">T</span></div>
<div class="r" style="left:736.6px;top:611.6px;width:22.3px;height:29.7px;background:#fff;"></div>
<div class="r" style="left:737.2px;top:612.2px;width:21.1px;height:28.5px;background:#e8e8e8;"></div>
<div class="r" style="left:736.6px;top:611.6px;width:22.3px;height:29.7px;display:flex;align-items:center;justify-content:center;text-align:center;font-size:10.5px;line-height:10.5px;color:#231f20;font-weight:bold;letter-spacing:0px;white-space:nowrap;"><span style="display:inline-block;position:relative;top:0.5px;transform:scaleX(1.0);transform-origin:50% 50%">U</span></div>
<div class="r" style="left:758.9px;top:611.6px;width:22.5px;height:29.7px;background:#fff;"></div>
<div class="r" style="left:759.5px;top:612.2px;width:21.3px;height:28.5px;background:#e8e8e8;"></div>
<div class="r" style="left:758.9px;top:611.6px;width:22.5px;height:29.7px;display:flex;align-items:center;justify-content:center;text-align:center;font-size:10.5px;line-height:10.5px;color:#231f20;font-weight:bold;letter-spacing:0px;white-space:nowrap;"><span style="display:inline-block;position:relative;top:0.5px;transform:scaleX(1.0);transform-origin:50% 50%">V</span></div>
<div class="r" style="left:781.4px;top:611.6px;width:22.0px;height:29.7px;background:#fff;"></div>
<div class="r" style="left:782.0px;top:612.2px;width:20.8px;height:28.5px;background:#e8e8e8;"></div>
<div class="r" style="left:781.4px;top:611.6px;width:22.0px;height:29.7px;display:flex;align-items:center;justify-content:center;text-align:center;font-size:10.5px;line-height:10.5px;color:#231f20;font-weight:bold;letter-spacing:0px;white-space:nowrap;"><span style="display:inline-block;position:relative;top:0.5px;transform:scaleX(1.0);transform-origin:50% 50%">W</span></div>
<div class="r" style="left:803.4px;top:611.6px;width:22.1px;height:29.7px;background:#fff;"></div>
<div class="r" style="left:804.0px;top:612.2px;width:20.9px;height:28.5px;background:#e8e8e8;"></div>
<div class="r" style="left:803.4px;top:611.6px;width:22.1px;height:29.7px;display:flex;align-items:center;justify-content:center;text-align:center;font-size:10.5px;line-height:10.5px;color:#231f20;font-weight:bold;letter-spacing:0px;white-space:nowrap;"><span style="display:inline-block;position:relative;top:0.5px;transform:scaleX(1.0);transform-origin:50% 50%">X</span></div>
<div class="r" style="left:74.0px;top:641.3px;width:38.8px;height:20.0px;background:#fff;"></div>
<div class="r" style="left:74.6px;top:641.9px;width:37.6px;height:18.8px;background:#fff;"></div>
<div class="r" style="left:74.0px;top:641.3px;width:38.8px;height:20.0px;display:flex;align-items:center;justify-content:center;text-align:center;font-size:11px;line-height:11.0px;color:#1a84c6;font-weight:normal;letter-spacing:0px;white-space:nowrap;-webkit-text-stroke:0.3px #1a84c6;"><span style="display:inline-block;position:relative;top:1.3px;transform:scaleX(1.0);transform-origin:50% 50%">20</span></div>
<div class="r" style="left:74.0px;top:661.3px;width:38.8px;height:19.7px;background:#fff;"></div>
<div class="r" style="left:74.6px;top:661.9px;width:37.6px;height:18.5px;background:#fff;"></div>
<div class="r" style="left:74.0px;top:661.3px;width:38.8px;height:19.7px;display:flex;align-items:center;justify-content:center;text-align:center;font-size:11px;line-height:11.0px;color:#1a84c6;font-weight:normal;letter-spacing:0px;white-space:nowrap;-webkit-text-stroke:0.3px #1a84c6;"><span style="display:inline-block;position:relative;top:1.3px;transform:scaleX(1.0);transform-origin:50% 50%">25</span></div>
<div class="r" style="left:74.0px;top:681.0px;width:38.8px;height:19.8px;background:#fff;"></div>
<div class="r" style="left:74.6px;top:681.6px;width:37.6px;height:18.6px;background:#fff;"></div>
<div class="r" style="left:74.0px;top:681.0px;width:38.8px;height:19.8px;display:flex;align-items:center;justify-content:center;text-align:center;font-size:11px;line-height:11.0px;color:#1a84c6;font-weight:normal;letter-spacing:0px;white-space:nowrap;-webkit-text-stroke:0.3px #1a84c6;"><span style="display:inline-block;position:relative;top:1.3px;transform:scaleX(1.0);transform-origin:50% 50%">32</span></div>
<div class="r" style="left:74.0px;top:700.8px;width:38.8px;height:19.9px;background:#fff;"></div>
<div class="r" style="left:74.6px;top:701.4px;width:37.6px;height:18.7px;background:#fff;"></div>
<div class="r" style="left:74.0px;top:700.8px;width:38.8px;height:19.9px;display:flex;align-items:center;justify-content:center;text-align:center;font-size:11px;line-height:11.0px;color:#1a84c6;font-weight:normal;letter-spacing:0px;white-space:nowrap;-webkit-text-stroke:0.3px #1a84c6;"><span style="display:inline-block;position:relative;top:1.3px;transform:scaleX(1.0);transform-origin:50% 50%">40</span></div>
<div class="r" style="left:74.0px;top:720.7px;width:38.8px;height:19.7px;background:#fff;"></div>
<div class="r" style="left:74.6px;top:721.3px;width:37.6px;height:18.5px;background:#fff;"></div>
<div class="r" style="left:74.0px;top:720.7px;width:38.8px;height:19.7px;display:flex;align-items:center;justify-content:center;text-align:center;font-size:11px;line-height:11.0px;color:#1a84c6;font-weight:normal;letter-spacing:0px;white-space:nowrap;-webkit-text-stroke:0.3px #1a84c6;"><span style="display:inline-block;position:relative;top:1.3px;transform:scaleX(1.0);transform-origin:50% 50%">50</span></div>
<div class="r" style="left:74.0px;top:740.4px;width:38.8px;height:19.6px;background:#fff;"></div>
<div class="r" style="left:74.6px;top:741.0px;width:37.6px;height:18.4px;background:#fff;"></div>
<div class="r" style="left:74.0px;top:740.4px;width:38.8px;height:19.6px;display:flex;align-items:center;justify-content:center;text-align:center;font-size:11px;line-height:11.0px;color:#1a84c6;font-weight:normal;letter-spacing:0px;white-space:nowrap;-webkit-text-stroke:0.3px #1a84c6;"><span style="display:inline-block;position:relative;top:1.3px;transform:scaleX(1.0);transform-origin:50% 50%">63</span></div>
<div class="r" style="left:112.8px;top:641.3px;width:20.5px;height:20.0px;background:#fff;"></div>
<div class="r" style="left:113.4px;top:641.9px;width:19.3px;height:18.8px;background:#d6e8f4;"></div>
<div class="r" style="left:112.8px;top:641.3px;width:20.5px;height:20.0px;display:flex;align-items:center;justify-content:center;text-align:center;font-size:10.8px;line-height:10.8px;color:#231f20;font-weight:normal;letter-spacing:-0.2px;white-space:nowrap;-webkit-text-stroke:0.35px #231f20;"><span style="display:inline-block;position:relative;top:1.3px;transform:scaleX(0.86);transform-origin:50% 50%">34</span></div>
<div class="r" style="left:112.8px;top:661.3px;width:20.5px;height:19.7px;background:#fff;"></div>
<div class="r" style="left:113.4px;top:661.9px;width:19.3px;height:18.5px;background:#d6e8f4;"></div>
<div class="r" style="left:112.8px;top:661.3px;width:20.5px;height:19.7px;display:flex;align-items:center;justify-content:center;text-align:center;font-size:10.8px;line-height:10.8px;color:#231f20;font-weight:normal;letter-spacing:-0.2px;white-space:nowrap;-webkit-text-stroke:0.35px #231f20;"><span style="display:inline-block;position:relative;top:1.3px;transform:scaleX(0.86);transform-origin:50% 50%">40</span></div>
<div class="r" style="left:112.8px;top:681.0px;width:20.5px;height:19.8px;background:#fff;"></div>
<div class="r" style="left:113.4px;top:681.6px;width:19.3px;height:18.6px;background:#d6e8f4;"></div>
<div class="r" style="left:112.8px;top:681.0px;width:20.5px;height:19.8px;display:flex;align-items:center;justify-content:center;text-align:center;font-size:10.8px;line-height:10.8px;color:#231f20;font-weight:normal;letter-spacing:-0.2px;white-space:nowrap;-webkit-text-stroke:0.35px #231f20;"><span style="display:inline-block;position:relative;top:1.3px;transform:scaleX(0.86);transform-origin:50% 50%">44</span></div>
<div class="r" style="left:112.8px;top:700.8px;width:20.5px;height:19.9px;background:#fff;"></div>
<div class="r" style="left:113.4px;top:701.4px;width:19.3px;height:18.7px;background:#d6e8f4;"></div>
<div class="r" style="left:112.8px;top:700.8px;width:20.5px;height:19.9px;display:flex;align-items:center;justify-content:center;text-align:center;font-size:10.8px;line-height:10.8px;color:#231f20;font-weight:normal;letter-spacing:-0.2px;white-space:nowrap;-webkit-text-stroke:0.35px #231f20;"><span style="display:inline-block;position:relative;top:1.3px;transform:scaleX(0.86);transform-origin:50% 50%">52</span></div>
<div class="r" style="left:112.8px;top:720.7px;width:20.5px;height:19.7px;background:#fff;"></div>
<div class="r" style="left:113.4px;top:721.3px;width:19.3px;height:18.5px;background:#d6e8f4;"></div>
<div class="r" style="left:112.8px;top:720.7px;width:20.5px;height:19.7px;display:flex;align-items:center;justify-content:center;text-align:center;font-size:10.8px;line-height:10.8px;color:#231f20;font-weight:normal;letter-spacing:-0.2px;white-space:nowrap;-webkit-text-stroke:0.35px #231f20;"><span style="display:inline-block;position:relative;top:1.3px;transform:scaleX(0.86);transform-origin:50% 50%">62</span></div>
<div class="r" style="left:112.8px;top:740.4px;width:20.5px;height:19.6px;background:#fff;"></div>
<div class="r" style="left:113.4px;top:741.0px;width:19.3px;height:18.4px;background:#d6e8f4;"></div>
<div class="r" style="left:112.8px;top:740.4px;width:20.5px;height:19.6px;display:flex;align-items:center;justify-content:center;text-align:center;font-size:10.8px;line-height:10.8px;color:#231f20;font-weight:normal;letter-spacing:-0.2px;white-space:nowrap;-webkit-text-stroke:0.35px #231f20;"><span style="display:inline-block;position:relative;top:1.3px;transform:scaleX(0.86);transform-origin:50% 50%">75</span></div>
<div class="r" style="left:133.3px;top:641.3px;width:21.3px;height:20.0px;background:#fff;"></div>
<div class="r" style="left:133.9px;top:641.9px;width:20.1px;height:18.8px;background:#d6e8f4;"></div>
<div class="r" style="left:133.3px;top:641.3px;width:21.3px;height:20.0px;display:flex;align-items:center;justify-content:center;text-align:center;font-size:10.8px;line-height:10.8px;color:#231f20;font-weight:normal;letter-spacing:-0.2px;white-space:nowrap;-webkit-text-stroke:0.35px #231f20;"><span style="display:inline-block;position:relative;top:1.3px;transform:scaleX(0.86);transform-origin:50% 50%">24</span></div>
<div class="r" style="left:133.3px;top:661.3px;width:21.3px;height:19.7px;background:#fff;"></div>
<div class="r" style="left:133.9px;top:661.9px;width:20.1px;height:18.5px;background:#d6e8f4;"></div>
<div class="r" style="left:133.3px;top:661.3px;width:21.3px;height:19.7px;display:flex;align-items:center;justify-content:center;text-align:center;font-size:10.8px;line-height:10.8px;color:#231f20;font-weight:normal;letter-spacing:-0.2px;white-space:nowrap;-webkit-text-stroke:0.35px #231f20;"><span style="display:inline-block;position:relative;top:1.3px;transform:scaleX(0.86);transform-origin:50% 50%">28</span></div>
<div class="r" style="left:133.3px;top:681.0px;width:21.3px;height:19.8px;background:#fff;"></div>
<div class="r" style="left:133.9px;top:681.6px;width:20.1px;height:18.6px;background:#d6e8f4;"></div>
<div class="r" style="left:133.3px;top:681.0px;width:21.3px;height:19.8px;display:flex;align-items:center;justify-content:center;text-align:center;font-size:10.8px;line-height:10.8px;color:#231f20;font-weight:normal;letter-spacing:-0.2px;white-space:nowrap;-webkit-text-stroke:0.35px #231f20;"><span style="display:inline-block;position:relative;top:1.3px;transform:scaleX(0.86);transform-origin:50% 50%">34</span></div>
<div class="r" style="left:133.3px;top:700.8px;width:21.3px;height:19.9px;background:#fff;"></div>
<div class="r" style="left:133.9px;top:701.4px;width:20.1px;height:18.7px;background:#d6e8f4;"></div>
<div class="r" style="left:133.3px;top:700.8px;width:21.3px;height:19.9px;display:flex;align-items:center;justify-content:center;text-align:center;font-size:10.8px;line-height:10.8px;color:#231f20;font-weight:normal;letter-spacing:-0.2px;white-space:nowrap;-webkit-text-stroke:0.35px #231f20;"><span style="display:inline-block;position:relative;top:1.3px;transform:scaleX(0.86);transform-origin:50% 50%">40</span></div>
<div class="r" style="left:133.3px;top:720.7px;width:21.3px;height:19.7px;background:#fff;"></div>
<div class="r" style="left:133.9px;top:721.3px;width:20.1px;height:18.5px;background:#d6e8f4;"></div>
<div class="r" style="left:133.3px;top:720.7px;width:21.3px;height:19.7px;display:flex;align-items:center;justify-content:center;text-align:center;font-size:10.8px;line-height:10.8px;color:#231f20;font-weight:normal;letter-spacing:-0.2px;white-space:nowrap;-webkit-text-stroke:0.35px #231f20;"><span style="display:inline-block;position:relative;top:1.3px;transform:scaleX(0.86);transform-origin:50% 50%">48</span></div>
<div class="r" style="left:133.3px;top:740.4px;width:21.3px;height:19.6px;background:#fff;"></div>
<div class="r" style="left:133.9px;top:741.0px;width:20.1px;height:18.4px;background:#d6e8f4;"></div>
<div class="r" style="left:133.3px;top:740.4px;width:21.3px;height:19.6px;display:flex;align-items:center;justify-content:center;text-align:center;font-size:10.8px;line-height:10.8px;color:#231f20;font-weight:normal;letter-spacing:-0.2px;white-space:nowrap;-webkit-text-stroke:0.35px #231f20;"><span style="display:inline-block;position:relative;top:1.3px;transform:scaleX(0.86);transform-origin:50% 50%">60</span></div>
<div class="r" style="left:154.6px;top:641.3px;width:24.9px;height:39.7px;background:#fff;"></div>
<div class="r" style="left:155.2px;top:641.9px;width:23.7px;height:38.5px;background:#d6e8f4;"></div>
<div class="r" style="left:154.6px;top:641.3px;width:24.9px;height:39.7px;display:flex;align-items:center;justify-content:center;text-align:center;font-size:10.8px;line-height:10.8px;color:#231f20;font-weight:normal;letter-spacing:-0.3px;white-space:nowrap;"><span style="display:inline-block;position:relative;top:0px;transform:scaleX(1.0);transform-origin:50% 50%"><span style="display:inline-block;width:10px;height:1.2px;background:#231f20"></span></span></div>
<div class="r" style="left:154.6px;top:681.0px;width:24.9px;height:19.8px;background:#fff;"></div>
<div class="r" style="left:155.2px;top:681.6px;width:23.7px;height:18.6px;background:#d6e8f4;"></div>
<div class="r" style="left:154.6px;top:681.0px;width:24.9px;height:19.8px;display:flex;align-items:center;justify-content:flex-start;text-align:center;padding-left:4px;font-size:10.8px;line-height:10.8px;color:#231f20;font-weight:normal;letter-spacing:-0.2px;white-space:nowrap;-webkit-text-stroke:0.35px #231f20;"><span style="display:inline-block;position:relative;top:1.3px;transform:scaleX(0.86);transform-origin:0 50%">50</span></div>
<div class="r" style="left:154.6px;top:700.8px;width:24.9px;height:19.9px;background:#fff;"></div>
<div class="r" style="left:155.2px;top:701.4px;width:23.7px;height:18.7px;background:#d6e8f4;"></div>
<div class="r" style="left:154.6px;top:700.8px;width:24.9px;height:19.9px;display:flex;align-items:center;justify-content:flex-start;text-align:center;padding-left:4px;font-size:10.8px;line-height:10.8px;color:#231f20;font-weight:normal;letter-spacing:-0.2px;white-space:nowrap;-webkit-text-stroke:0.35px #231f20;"><span style="display:inline-block;position:relative;top:1.3px;transform:scaleX(0.86);transform-origin:0 50%">58</span></div>
<div class="r" style="left:154.6px;top:720.7px;width:24.9px;height:19.7px;background:#fff;"></div>
<div class="r" style="left:155.2px;top:721.3px;width:23.7px;height:18.5px;background:#d6e8f4;"></div>
<div class="r" style="left:154.6px;top:720.7px;width:24.9px;height:19.7px;display:flex;align-items:center;justify-content:flex-start;text-align:center;padding-left:4px;font-size:10.8px;line-height:10.8px;color:#231f20;font-weight:normal;letter-spacing:-0.2px;white-space:nowrap;-webkit-text-stroke:0.35px #231f20;"><span style="display:inline-block;position:relative;top:1.3px;transform:scaleX(0.86);transform-origin:0 50%">71</span></div>
<div class="r" style="left:154.6px;top:740.4px;width:24.9px;height:19.6px;background:#fff;"></div>
<div class="r" style="left:155.2px;top:741.0px;width:23.7px;height:18.4px;background:#d6e8f4;"></div>
<div class="r" style="left:154.6px;top:740.4px;width:24.9px;height:19.6px;display:flex;align-items:center;justify-content:flex-start;text-align:center;padding-left:4px;font-size:10.8px;line-height:10.8px;color:#231f20;font-weight:normal;letter-spacing:-0.2px;white-space:nowrap;-webkit-text-stroke:0.35px #231f20;"><span style="display:inline-block;position:relative;top:1.3px;transform:scaleX(0.86);transform-origin:0 50%">84.5</span></div>
<div class="r" style="left:179.5px;top:641.3px;width:38.9px;height:39.7px;background:#fff;"></div>
<div class="r" style="left:180.1px;top:641.9px;width:37.7px;height:38.5px;background:#d6e8f4;"></div>
<div class="r" style="left:179.5px;top:641.3px;width:38.9px;height:39.7px;display:flex;align-items:center;justify-content:center;text-align:center;font-size:10.8px;line-height:10.8px;color:#231f20;font-weight:normal;letter-spacing:-0.2px;white-space:nowrap;-webkit-text-stroke:0.35px #231f20;"><span style="display:inline-block;position:relative;top:1.3px;transform:scaleX(0.86);transform-origin:50% 50%">M5×0.8</span></div>
<div class="r" style="left:179.5px;top:681.0px;width:38.9px;height:39.7px;background:#fff;"></div>
<div class="r" style="left:180.1px;top:681.6px;width:37.7px;height:38.5px;background:#d6e8f4;"></div>
<div class="r" style="left:179.5px;top:681.0px;width:38.9px;height:39.7px;display:flex;align-items:center;justify-content:center;text-align:center;font-size:10.8px;line-height:10.8px;color:#231f20;font-weight:normal;letter-spacing:-0.2px;white-space:nowrap;-webkit-text-stroke:0.35px #231f20;"><span style="display:inline-block;position:relative;top:1.3px;transform:scaleX(0.86);transform-origin:50% 50%">Rc1/8</span></div>
<div class="r" style="left:179.5px;top:720.7px;width:38.9px;height:39.3px;background:#fff;"></div>
<div class="r" style="left:180.1px;top:721.3px;width:37.7px;height:38.1px;background:#d6e8f4;"></div>
<div class="r" style="left:179.5px;top:720.7px;width:38.9px;height:39.3px;display:flex;align-items:center;justify-content:center;text-align:center;font-size:10.8px;line-height:10.8px;color:#231f20;font-weight:normal;letter-spacing:-0.2px;white-space:nowrap;-webkit-text-stroke:0.35px #231f20;"><span style="display:inline-block;position:relative;top:1.3px;transform:scaleX(0.86);transform-origin:50% 50%">Rc1/4</span></div>
<div class="r" style="left:218.4px;top:641.3px;width:25.0px;height:39.7px;background:#fff;"></div>
<div class="r" style="left:219.0px;top:641.9px;width:23.8px;height:38.5px;background:#d6e8f4;"></div>
<div class="r" style="left:218.4px;top:641.3px;width:25.0px;height:39.7px;display:flex;align-items:center;justify-content:center;text-align:center;font-size:10.8px;line-height:10.8px;color:#231f20;font-weight:normal;letter-spacing:-0.3px;white-space:nowrap;"><span style="display:inline-block;position:relative;top:0px;transform:scaleX(1.0);transform-origin:50% 50%"><span style="display:inline-block;width:10px;height:1.2px;background:#231f20"></span></span></div>
<div class="r" style="left:218.4px;top:681.0px;width:25.0px;height:39.7px;background:#fff;"></div>
<div class="r" style="left:219.0px;top:681.6px;width:23.8px;height:38.5px;background:#d6e8f4;"></div>
<div class="r" style="left:218.4px;top:681.0px;width:25.0px;height:39.7px;display:flex;align-items:center;justify-content:flex-start;text-align:center;padding-left:4px;font-size:10.8px;line-height:10.8px;color:#231f20;font-weight:normal;letter-spacing:-0.2px;white-space:nowrap;-webkit-text-stroke:0.35px #231f20;"><span style="display:inline-block;position:relative;top:1.3px;transform:scaleX(0.86);transform-origin:0 50%">13.6</span></div>
<div class="r" style="left:218.4px;top:720.7px;width:25.0px;height:19.7px;background:#fff;"></div>
<div class="r" style="left:219.0px;top:721.3px;width:23.8px;height:18.5px;background:#d6e8f4;"></div>
<div class="r" style="left:218.4px;top:720.7px;width:25.0px;height:19.7px;display:flex;align-items:center;justify-content:flex-start;text-align:center;padding-left:4px;font-size:10.8px;line-height:10.8px;color:#231f20;font-weight:normal;letter-spacing:-0.2px;white-space:nowrap;-webkit-text-stroke:0.35px #231f20;"><span style="display:inline-block;position:relative;top:1.3px;transform:scaleX(0.86);transform-origin:0 50%">19</span></div>
<div class="r" style="left:218.4px;top:740.4px;width:25.0px;height:19.6px;background:#fff;"></div>
<div class="r" style="left:219.0px;top:741.0px;width:23.8px;height:18.4px;background:#d6e8f4;"></div>
<div class="r" style="left:218.4px;top:740.4px;width:25.0px;height:19.6px;display:flex;align-items:center;justify-content:flex-start;text-align:center;padding-left:4px;font-size:10.8px;line-height:10.8px;color:#231f20;font-weight:normal;letter-spacing:-0.2px;white-space:nowrap;-webkit-text-stroke:0.35px #231f20;"><span style="display:inline-block;position:relative;top:1.3px;transform:scaleX(0.86);transform-origin:0 50%">20.5</span></div>
<div class="r" style="left:243.4px;top:641.3px;width:29.1px;height:20.0px;background:#fff;"></div>
<div class="r" style="left:244.0px;top:641.9px;width:27.9px;height:18.8px;background:#d6e8f4;"></div>
<div class="r" style="left:243.4px;top:641.3px;width:29.1px;height:20.0px;display:flex;align-items:center;justify-content:center;text-align:center;font-size:10.8px;line-height:10.8px;color:#231f20;font-weight:normal;letter-spacing:-0.2px;white-space:nowrap;-webkit-text-stroke:0.35px #231f20;"><span style="display:inline-block;position:relative;top:1.3px;transform:scaleX(0.86);transform-origin:50% 50%">φ4.3</span></div>
<div class="r" style="left:243.4px;top:661.3px;width:29.1px;height:39.5px;background:#fff;"></div>
<div class="r" style="left:244.0px;top:661.9px;width:27.9px;height:38.3px;background:#d6e8f4;"></div>
<div class="r" style="left:243.4px;top:661.3px;width:29.1px;height:39.5px;display:flex;align-items:center;justify-content:center;text-align:center;font-size:10.8px;line-height:10.8px;color:#231f20;font-weight:normal;letter-spacing:-0.2px;white-space:nowrap;-webkit-text-stroke:0.35px #231f20;"><span style="display:inline-block;position:relative;top:1.3px;transform:scaleX(0.86);transform-origin:50% 50%">φ4.8</span></div>
<div class="r" style="left:243.4px;top:700.8px;width:29.1px;height:59.2px;background:#fff;"></div>
<div class="r" style="left:244.0px;top:701.4px;width:27.9px;height:58.0px;background:#d6e8f4;"></div>
<div class="r" style="left:243.4px;top:700.8px;width:29.1px;height:59.2px;display:flex;align-items:center;justify-content:center;text-align:center;font-size:10.8px;line-height:10.8px;color:#231f20;font-weight:normal;letter-spacing:-0.2px;white-space:nowrap;-webkit-text-stroke:0.35px #231f20;"><span style="display:inline-block;position:relative;top:1.3px;transform:scaleX(0.86);transform-origin:50% 50%">φ6.8</span></div>
<div class="r" style="left:272.5px;top:641.3px;width:74.6px;height:20.0px;background:#fff;"></div>
<div class="r" style="left:273.1px;top:641.9px;width:73.4px;height:18.8px;background:#d6e8f4;"></div>
<div class="r" style="left:272.5px;top:641.3px;width:74.6px;height:20.0px;display:flex;align-items:center;justify-content:center;text-align:center;font-size:10.8px;line-height:10.8px;color:#231f20;font-weight:normal;letter-spacing:-0.2px;white-space:nowrap;-webkit-text-stroke:0.35px #231f20;"><span style="display:inline-block;position:relative;top:1.3px;transform:scaleX(0.86);transform-origin:50% 50%">M5×0.8 深さ6</span></div>
<div class="r" style="left:272.5px;top:661.3px;width:74.6px;height:39.5px;background:#fff;"></div>
<div class="r" style="left:273.1px;top:661.9px;width:73.4px;height:38.3px;background:#d6e8f4;"></div>
<div class="r" style="left:272.5px;top:661.3px;width:74.6px;height:39.5px;display:flex;align-items:center;justify-content:center;text-align:center;font-size:10.8px;line-height:10.8px;color:#231f20;font-weight:normal;letter-spacing:-0.2px;white-space:nowrap;-webkit-text-stroke:0.35px #231f20;"><span style="display:inline-block;position:relative;top:1.3px;transform:scaleX(0.86);transform-origin:50% 50%">M6×1 深さ8</span></div>
<div class="r" style="left:272.5px;top:700.8px;width:74.6px;height:19.9px;background:#fff;"></div>
<div class="r" style="left:273.1px;top:701.4px;width:73.4px;height:18.7px;background:#d6e8f4;"></div>
<div class="r" style="left:272.5px;top:700.8px;width:74.6px;height:19.9px;display:flex;align-items:center;justify-content:center;text-align:center;font-size:10.8px;line-height:10.8px;color:#231f20;font-weight:normal;letter-spacing:-0.2px;white-space:nowrap;-webkit-text-stroke:0.35px #231f20;"><span style="display:inline-block;position:relative;top:1.3px;transform:scaleX(0.86);transform-origin:50% 50%">M8×1.25 深さ11</span></div>
<div class="r" style="left:272.5px;top:720.7px;width:74.6px;height:39.3px;background:#fff;"></div>
<div class="r" style="left:273.1px;top:721.3px;width:73.4px;height:38.1px;background:#d6e8f4;"></div>
<div class="r" style="left:272.5px;top:720.7px;width:74.6px;height:39.3px;display:flex;align-items:center;justify-content:center;text-align:center;font-size:10.8px;line-height:10.8px;color:#231f20;font-weight:normal;letter-spacing:-0.2px;white-space:nowrap;-webkit-text-stroke:0.35px #231f20;"><span style="display:inline-block;position:relative;top:1.3px;transform:scaleX(0.86);transform-origin:50% 50%">M8×1.25 深さ10</span></div>
<div class="r" style="left:347.1px;top:641.3px;width:54.3px;height:20.0px;background:#fff;"></div>
<div class="r" style="left:347.7px;top:641.9px;width:53.1px;height:18.8px;background:#d6e8f4;"></div>
<div class="r" style="left:347.1px;top:641.3px;width:54.3px;height:20.0px;display:flex;align-items:center;justify-content:center;text-align:center;font-size:10.8px;line-height:10.8px;color:#231f20;font-weight:normal;letter-spacing:-0.2px;white-space:nowrap;-webkit-text-stroke:0.35px #231f20;"><span style="display:inline-block;position:relative;top:1.3px;transform:scaleX(0.86);transform-origin:50% 50%">φ7 深さ5</span></div>
<div class="r" style="left:347.1px;top:661.3px;width:54.3px;height:39.5px;background:#fff;"></div>
<div class="r" style="left:347.7px;top:661.9px;width:53.1px;height:38.3px;background:#d6e8f4;"></div>
<div class="r" style="left:347.1px;top:661.3px;width:54.3px;height:39.5px;display:flex;align-items:center;justify-content:center;text-align:center;font-size:10.8px;line-height:10.8px;color:#231f20;font-weight:normal;letter-spacing:-0.2px;white-space:nowrap;-webkit-text-stroke:0.35px #231f20;"><span style="display:inline-block;position:relative;top:1.3px;transform:scaleX(0.86);transform-origin:50% 50%">φ8 深さ6</span></div>
<div class="r" style="left:347.1px;top:700.8px;width:54.3px;height:19.9px;background:#fff;"></div>
<div class="r" style="left:347.7px;top:701.4px;width:53.1px;height:18.7px;background:#d6e8f4;"></div>
<div class="r" style="left:347.1px;top:700.8px;width:54.3px;height:19.9px;display:flex;align-items:center;justify-content:center;text-align:center;font-size:10.8px;line-height:10.8px;color:#231f20;font-weight:normal;letter-spacing:-0.2px;white-space:nowrap;-webkit-text-stroke:0.35px #231f20;"><span style="display:inline-block;position:relative;top:1.3px;transform:scaleX(0.86);transform-origin:50% 50%">φ9.5 深さ8</span></div>
<div class="r" style="left:347.1px;top:720.7px;width:54.3px;height:39.3px;background:#fff;"></div>
<div class="r" style="left:347.7px;top:721.3px;width:53.1px;height:38.1px;background:#d6e8f4;"></div>
<div class="r" style="left:347.1px;top:720.7px;width:54.3px;height:39.3px;display:flex;align-items:center;justify-content:center;text-align:center;font-size:10.8px;line-height:10.8px;color:#231f20;font-weight:normal;letter-spacing:-0.2px;white-space:nowrap;-webkit-text-stroke:0.35px #231f20;"><span style="display:inline-block;position:relative;top:1.3px;transform:scaleX(0.86);transform-origin:50% 50%">φ11 深さ8.5</span></div>
<div class="r" style="left:401.4px;top:641.3px;width:30.6px;height:20.0px;background:#fff;"></div>
<div class="r" style="left:402.0px;top:641.9px;width:29.4px;height:18.8px;background:#d6e8f4;"></div>
<div class="r" style="left:401.4px;top:641.3px;width:30.6px;height:20.0px;display:flex;align-items:center;justify-content:center;text-align:center;font-size:10.8px;line-height:10.8px;color:#231f20;font-weight:normal;letter-spacing:-0.2px;white-space:nowrap;-webkit-text-stroke:0.35px #231f20;"><span style="display:inline-block;position:relative;top:1.3px;transform:scaleX(0.86);transform-origin:50% 50%">7.5</span></div>
<div class="r" style="left:401.4px;top:661.3px;width:30.6px;height:19.7px;background:#fff;"></div>
<div class="r" style="left:402.0px;top:661.9px;width:29.4px;height:18.5px;background:#d6e8f4;"></div>
<div class="r" style="left:401.4px;top:661.3px;width:30.6px;height:19.7px;display:flex;align-items:center;justify-content:center;text-align:center;font-size:10.8px;line-height:10.8px;color:#231f20;font-weight:normal;letter-spacing:-0.2px;white-space:nowrap;-webkit-text-stroke:0.35px #231f20;"><span style="display:inline-block;position:relative;top:1.3px;transform:scaleX(0.86);transform-origin:50% 50%">8</span></div>
<div class="r" style="left:401.4px;top:681.0px;width:30.6px;height:19.8px;background:#fff;"></div>
<div class="r" style="left:402.0px;top:681.6px;width:29.4px;height:18.6px;background:#d6e8f4;"></div>
<div class="r" style="left:401.4px;top:681.0px;width:30.6px;height:19.8px;display:flex;align-items:center;justify-content:center;text-align:center;font-size:10.8px;line-height:10.8px;color:#231f20;font-weight:normal;letter-spacing:-0.2px;white-space:nowrap;-webkit-text-stroke:0.35px #231f20;"><span style="display:inline-block;position:relative;top:1.3px;transform:scaleX(0.86);transform-origin:50% 50%">9</span></div>
<div class="r" style="left:401.4px;top:700.8px;width:30.6px;height:19.9px;background:#fff;"></div>
<div class="r" style="left:402.0px;top:701.4px;width:29.4px;height:18.7px;background:#d6e8f4;"></div>
<div class="r" style="left:401.4px;top:700.8px;width:30.6px;height:19.9px;display:flex;align-items:center;justify-content:flex-start;text-align:center;padding-left:4px;font-size:10.8px;line-height:10.8px;color:#231f20;font-weight:normal;letter-spacing:-0.2px;white-space:nowrap;-webkit-text-stroke:0.35px #231f20;"><span style="display:inline-block;position:relative;top:1.3px;transform:scaleX(0.86);transform-origin:0 50%">10</span></div>
<div class="r" style="left:401.4px;top:720.7px;width:30.6px;height:19.7px;background:#fff;"></div>
<div class="r" style="left:402.0px;top:721.3px;width:29.4px;height:18.5px;background:#d6e8f4;"></div>
<div class="r" style="left:401.4px;top:720.7px;width:30.6px;height:19.7px;display:flex;align-items:center;justify-content:flex-start;text-align:center;padding-left:4px;font-size:10.8px;line-height:10.8px;color:#231f20;font-weight:normal;letter-spacing:-0.2px;white-space:nowrap;-webkit-text-stroke:0.35px #231f20;"><span style="display:inline-block;position:relative;top:1.3px;transform:scaleX(0.86);transform-origin:0 50%">10.85</span></div>
<div class="r" style="left:401.4px;top:740.4px;width:30.6px;height:19.6px;background:#fff;"></div>
<div class="r" style="left:402.0px;top:741.0px;width:29.4px;height:18.4px;background:#d6e8f4;"></div>
<div class="r" style="left:401.4px;top:740.4px;width:30.6px;height:19.6px;display:flex;align-items:center;justify-content:flex-start;text-align:center;padding-left:4px;font-size:10.8px;line-height:10.8px;color:#231f20;font-weight:normal;letter-spacing:-0.2px;white-space:nowrap;-webkit-text-stroke:0.35px #231f20;"><span style="display:inline-block;position:relative;top:1.3px;transform:scaleX(0.86);transform-origin:0 50%">11</span></div>
<div class="r" style="left:432.0px;top:641.3px;width:20.9px;height:20.0px;background:#fff;"></div>
<div class="r" style="left:432.6px;top:641.9px;width:19.7px;height:18.8px;background:#d6e8f4;"></div>
<div class="r" style="left:432.0px;top:641.3px;width:20.9px;height:20.0px;display:flex;align-items:center;justify-content:center;text-align:center;font-size:10.8px;line-height:10.8px;color:#231f20;font-weight:normal;letter-spacing:-0.2px;white-space:nowrap;-webkit-text-stroke:0.35px #231f20;"><span style="display:inline-block;position:relative;top:1.3px;transform:scaleX(0.86);transform-origin:50% 50%">1.5</span></div>
<div class="r" style="left:432.0px;top:661.3px;width:20.9px;height:19.7px;background:#fff;"></div>
<div class="r" style="left:432.6px;top:661.9px;width:19.7px;height:18.5px;background:#d6e8f4;"></div>
<div class="r" style="left:432.0px;top:661.3px;width:20.9px;height:19.7px;display:flex;align-items:center;justify-content:center;text-align:center;font-size:10.8px;line-height:10.8px;color:#231f20;font-weight:normal;letter-spacing:-0.2px;white-space:nowrap;-webkit-text-stroke:0.35px #231f20;"><span style="display:inline-block;position:relative;top:1.3px;transform:scaleX(0.86);transform-origin:50% 50%">1.9</span></div>
<div class="r" style="left:432.0px;top:681.0px;width:20.9px;height:39.7px;background:#fff;"></div>
<div class="r" style="left:432.6px;top:681.6px;width:19.7px;height:38.5px;background:#d6e8f4;"></div>
<div class="r" style="left:432.0px;top:681.0px;width:20.9px;height:39.7px;display:flex;align-items:center;justify-content:center;text-align:center;font-size:10.8px;line-height:10.8px;color:#231f20;font-weight:normal;letter-spacing:-0.2px;white-space:nowrap;-webkit-text-stroke:0.35px #231f20;"><span style="display:inline-block;position:relative;top:1.3px;transform:scaleX(0.86);transform-origin:50% 50%">3.3</span></div>
<div class="r" style="left:432.0px;top:720.7px;width:20.9px;height:19.7px;background:#fff;"></div>
<div class="r" style="left:432.6px;top:721.3px;width:19.7px;height:18.5px;background:#d6e8f4;"></div>
<div class="r" style="left:432.0px;top:720.7px;width:20.9px;height:19.7px;display:flex;align-items:center;justify-content:center;text-align:center;font-size:10.8px;line-height:10.8px;color:#231f20;font-weight:normal;letter-spacing:-0.2px;white-space:nowrap;-webkit-text-stroke:0.35px #231f20;"><span style="display:inline-block;position:relative;top:1.3px;transform:scaleX(0.86);transform-origin:50% 50%">3.9</span></div>
<div class="r" style="left:432.0px;top:740.4px;width:20.9px;height:19.6px;background:#fff;"></div>
<div class="r" style="left:432.6px;top:741.0px;width:19.7px;height:18.4px;background:#d6e8f4;"></div>
<div class="r" style="left:432.0px;top:740.4px;width:20.9px;height:19.6px;display:flex;align-items:center;justify-content:center;text-align:center;font-size:10.8px;line-height:10.8px;color:#231f20;font-weight:normal;letter-spacing:-0.2px;white-space:nowrap;-webkit-text-stroke:0.35px #231f20;"><span style="display:inline-block;position:relative;top:1.3px;transform:scaleX(0.86);transform-origin:50% 50%">3.8</span></div>
<div class="r" style="left:452.9px;top:641.3px;width:24.3px;height:20.0px;background:#fff;"></div>
<div class="r" style="left:453.5px;top:641.9px;width:23.1px;height:18.8px;background:#d6e8f4;"></div>
<div class="r" style="left:452.9px;top:641.3px;width:24.3px;height:20.0px;display:flex;align-items:center;justify-content:flex-start;text-align:center;padding-left:4px;font-size:10.8px;line-height:10.8px;color:#231f20;font-weight:normal;letter-spacing:-0.2px;white-space:nowrap;-webkit-text-stroke:0.35px #231f20;"><span style="display:inline-block;position:relative;top:1.3px;transform:scaleX(0.86);transform-origin:0 50%">19.5</span></div>
<div class="r" style="left:452.9px;top:661.3px;width:24.3px;height:19.7px;background:#fff;"></div>
<div class="r" style="left:453.5px;top:661.9px;width:23.1px;height:18.5px;background:#d6e8f4;"></div>
<div class="r" style="left:452.9px;top:661.3px;width:24.3px;height:19.7px;display:flex;align-items:center;justify-content:flex-start;text-align:center;padding-left:4px;font-size:10.8px;line-height:10.8px;color:#231f20;font-weight:normal;letter-spacing:-0.2px;white-space:nowrap;-webkit-text-stroke:0.35px #231f20;"><span style="display:inline-block;position:relative;top:1.3px;transform:scaleX(0.86);transform-origin:0 50%">21.2</span></div>
<div class="r" style="left:452.9px;top:681.0px;width:24.3px;height:19.8px;background:#fff;"></div>
<div class="r" style="left:453.5px;top:681.6px;width:23.1px;height:18.6px;background:#d6e8f4;"></div>
<div class="r" style="left:452.9px;top:681.0px;width:24.3px;height:19.8px;display:flex;align-items:center;justify-content:flex-start;text-align:center;padding-left:4px;font-size:10.8px;line-height:10.8px;color:#231f20;font-weight:normal;letter-spacing:-0.2px;white-space:nowrap;-webkit-text-stroke:0.35px #231f20;"><span style="display:inline-block;position:relative;top:1.3px;transform:scaleX(0.86);transform-origin:0 50%">24</span></div>
<div class="r" style="left:452.9px;top:700.8px;width:24.3px;height:19.9px;background:#fff;"></div>
<div class="r" style="left:453.5px;top:701.4px;width:23.1px;height:18.7px;background:#d6e8f4;"></div>
<div class="r" style="left:452.9px;top:700.8px;width:24.3px;height:19.9px;display:flex;align-items:center;justify-content:flex-start;text-align:center;padding-left:4px;font-size:10.8px;line-height:10.8px;color:#231f20;font-weight:normal;letter-spacing:-0.2px;white-space:nowrap;-webkit-text-stroke:0.35px #231f20;"><span style="display:inline-block;position:relative;top:1.3px;transform:scaleX(0.86);transform-origin:0 50%">26.5</span></div>
<div class="r" style="left:452.9px;top:720.7px;width:24.3px;height:19.7px;background:#fff;"></div>
<div class="r" style="left:453.5px;top:721.3px;width:23.1px;height:18.5px;background:#d6e8f4;"></div>
<div class="r" style="left:452.9px;top:720.7px;width:24.3px;height:19.7px;display:flex;align-items:center;justify-content:flex-start;text-align:center;padding-left:4px;font-size:10.8px;line-height:10.8px;color:#231f20;font-weight:normal;letter-spacing:-0.2px;white-space:nowrap;-webkit-text-stroke:0.35px #231f20;"><span style="display:inline-block;position:relative;top:1.3px;transform:scaleX(0.86);transform-origin:0 50%">28.6</span></div>
<div class="r" style="left:452.9px;top:740.4px;width:24.3px;height:19.6px;background:#fff;"></div>
<div class="r" style="left:453.5px;top:741.0px;width:23.1px;height:18.4px;background:#d6e8f4;"></div>
<div class="r" style="left:452.9px;top:740.4px;width:24.3px;height:19.6px;display:flex;align-items:center;justify-content:flex-start;text-align:center;padding-left:4px;font-size:10.8px;line-height:10.8px;color:#231f20;font-weight:normal;letter-spacing:-0.2px;white-space:nowrap;-webkit-text-stroke:0.35px #231f20;"><span style="display:inline-block;position:relative;top:1.3px;transform:scaleX(0.86);transform-origin:0 50%">32.5</span></div>
<div class="r" style="left:477.2px;top:641.3px;width:24.4px;height:20.0px;background:#fff;"></div>
<div class="r" style="left:477.8px;top:641.9px;width:23.2px;height:18.8px;background:#d6e8f4;"></div>
<div class="r" style="left:477.2px;top:641.3px;width:24.4px;height:20.0px;display:flex;align-items:center;justify-content:flex-start;text-align:center;padding-left:4px;font-size:10.8px;line-height:10.8px;color:#231f20;font-weight:normal;letter-spacing:-0.2px;white-space:nowrap;-webkit-text-stroke:0.35px #231f20;"><span style="display:inline-block;position:relative;top:1.3px;transform:scaleX(0.86);transform-origin:0 50%">25</span></div>
<div class="r" style="left:477.2px;top:661.3px;width:24.4px;height:19.7px;background:#fff;"></div>
<div class="r" style="left:477.8px;top:661.9px;width:23.2px;height:18.5px;background:#d6e8f4;"></div>
<div class="r" style="left:477.2px;top:661.3px;width:24.4px;height:19.7px;display:flex;align-items:center;justify-content:flex-start;text-align:center;padding-left:4px;font-size:10.8px;line-height:10.8px;color:#231f20;font-weight:normal;letter-spacing:-0.2px;white-space:nowrap;-webkit-text-stroke:0.35px #231f20;"><span style="display:inline-block;position:relative;top:1.3px;transform:scaleX(0.86);transform-origin:0 50%">27.5</span></div>
<div class="r" style="left:477.2px;top:681.0px;width:24.4px;height:19.8px;background:#fff;"></div>
<div class="r" style="left:477.8px;top:681.6px;width:23.2px;height:18.6px;background:#d6e8f4;"></div>
<div class="r" style="left:477.2px;top:681.0px;width:24.4px;height:19.8px;display:flex;align-items:center;justify-content:flex-start;text-align:center;padding-left:4px;font-size:10.8px;line-height:10.8px;color:#231f20;font-weight:normal;letter-spacing:-0.2px;white-space:nowrap;-webkit-text-stroke:0.35px #231f20;"><span style="display:inline-block;position:relative;top:1.3px;transform:scaleX(0.86);transform-origin:0 50%">31.5</span></div>
<div class="r" style="left:477.2px;top:700.8px;width:24.4px;height:19.9px;background:#fff;"></div>
<div class="r" style="left:477.8px;top:701.4px;width:23.2px;height:18.7px;background:#d6e8f4;"></div>
<div class="r" style="left:477.2px;top:700.8px;width:24.4px;height:19.9px;display:flex;align-items:center;justify-content:flex-start;text-align:center;padding-left:4px;font-size:10.8px;line-height:10.8px;color:#231f20;font-weight:normal;letter-spacing:-0.2px;white-space:nowrap;-webkit-text-stroke:0.35px #231f20;"><span style="display:inline-block;position:relative;top:1.3px;transform:scaleX(0.86);transform-origin:0 50%">34</span></div>
<div class="r" style="left:477.2px;top:720.7px;width:24.4px;height:19.7px;background:#fff;"></div>
<div class="r" style="left:477.8px;top:721.3px;width:23.2px;height:18.5px;background:#d6e8f4;"></div>
<div class="r" style="left:477.2px;top:720.7px;width:24.4px;height:19.7px;display:flex;align-items:center;justify-content:flex-start;text-align:center;padding-left:4px;font-size:10.8px;line-height:10.8px;color:#231f20;font-weight:normal;letter-spacing:-0.2px;white-space:nowrap;-webkit-text-stroke:0.35px #231f20;"><span style="display:inline-block;position:relative;top:1.3px;transform:scaleX(0.86);transform-origin:0 50%">37.6</span></div>
<div class="r" style="left:477.2px;top:740.4px;width:24.4px;height:19.6px;background:#fff;"></div>
<div class="r" style="left:477.8px;top:741.0px;width:23.2px;height:18.4px;background:#d6e8f4;"></div>
<div class="r" style="left:477.2px;top:740.4px;width:24.4px;height:19.6px;display:flex;align-items:center;justify-content:flex-start;text-align:center;padding-left:4px;font-size:10.8px;line-height:10.8px;color:#231f20;font-weight:normal;letter-spacing:-0.2px;white-space:nowrap;-webkit-text-stroke:0.35px #231f20;"><span style="display:inline-block;position:relative;top:1.3px;transform:scaleX(0.86);transform-origin:0 50%">41.5</span></div>
<div class="r" style="left:501.6px;top:641.3px;width:25.0px;height:20.0px;background:#fff;"></div>
<div class="r" style="left:502.2px;top:641.9px;width:23.8px;height:18.8px;background:#d6e8f4;"></div>
<div class="r" style="left:501.6px;top:641.3px;width:25.0px;height:20.0px;display:flex;align-items:center;justify-content:flex-start;text-align:center;padding-left:4px;font-size:10.8px;line-height:10.8px;color:#231f20;font-weight:normal;letter-spacing:-0.2px;white-space:nowrap;-webkit-text-stroke:0.35px #231f20;"><span style="display:inline-block;position:relative;top:1.3px;transform:scaleX(0.86);transform-origin:0 50%">29.5</span></div>
<div class="r" style="left:501.6px;top:661.3px;width:25.0px;height:19.7px;background:#fff;"></div>
<div class="r" style="left:502.2px;top:661.9px;width:23.8px;height:18.5px;background:#d6e8f4;"></div>
<div class="r" style="left:501.6px;top:661.3px;width:25.0px;height:19.7px;display:flex;align-items:center;justify-content:flex-start;text-align:center;padding-left:4px;font-size:10.8px;line-height:10.8px;color:#231f20;font-weight:normal;letter-spacing:-0.2px;white-space:nowrap;-webkit-text-stroke:0.35px #231f20;"><span style="display:inline-block;position:relative;top:1.3px;transform:scaleX(0.86);transform-origin:0 50%">31.2</span></div>
<div class="r" style="left:501.6px;top:681.0px;width:25.0px;height:19.8px;background:#fff;"></div>
<div class="r" style="left:502.2px;top:681.6px;width:23.8px;height:18.6px;background:#d6e8f4;"></div>
<div class="r" style="left:501.6px;top:681.0px;width:25.0px;height:19.8px;display:flex;align-items:center;justify-content:flex-start;text-align:center;padding-left:4px;font-size:10.8px;line-height:10.8px;color:#231f20;font-weight:normal;letter-spacing:-0.2px;white-space:nowrap;-webkit-text-stroke:0.35px #231f20;"><span style="display:inline-block;position:relative;top:1.3px;transform:scaleX(0.86);transform-origin:0 50%">34</span></div>
<div class="r" style="left:501.6px;top:700.8px;width:25.0px;height:19.9px;background:#fff;"></div>
<div class="r" style="left:502.2px;top:701.4px;width:23.8px;height:18.7px;background:#d6e8f4;"></div>
<div class="r" style="left:501.6px;top:700.8px;width:25.0px;height:19.9px;display:flex;align-items:center;justify-content:flex-start;text-align:center;padding-left:4px;font-size:10.8px;line-height:10.8px;color:#231f20;font-weight:normal;letter-spacing:-0.2px;white-space:nowrap;-webkit-text-stroke:0.35px #231f20;"><span style="display:inline-block;position:relative;top:1.3px;transform:scaleX(0.86);transform-origin:0 50%">36.5</span></div>
<div class="r" style="left:501.6px;top:720.7px;width:25.0px;height:19.7px;background:#fff;"></div>
<div class="r" style="left:502.2px;top:721.3px;width:23.8px;height:18.5px;background:#d6e8f4;"></div>
<div class="r" style="left:501.6px;top:720.7px;width:25.0px;height:19.7px;display:flex;align-items:center;justify-content:flex-start;text-align:center;padding-left:4px;font-size:10.8px;line-height:10.8px;color:#231f20;font-weight:normal;letter-spacing:-0.2px;white-space:nowrap;-webkit-text-stroke:0.35px #231f20;"><span style="display:inline-block;position:relative;top:1.3px;transform:scaleX(0.86);transform-origin:0 50%">38.6</span></div>
<div class="r" style="left:501.6px;top:740.4px;width:25.0px;height:19.6px;background:#fff;"></div>
<div class="r" style="left:502.2px;top:741.0px;width:23.8px;height:18.4px;background:#d6e8f4;"></div>
<div class="r" style="left:501.6px;top:740.4px;width:25.0px;height:19.6px;display:flex;align-items:center;justify-content:flex-start;text-align:center;padding-left:4px;font-size:10.8px;line-height:10.8px;color:#231f20;font-weight:normal;letter-spacing:-0.2px;white-space:nowrap;-webkit-text-stroke:0.35px #231f20;"><span style="display:inline-block;position:relative;top:1.3px;transform:scaleX(0.86);transform-origin:0 50%">42.5</span></div>
<div class="r" style="left:526.6px;top:641.3px;width:24.9px;height:20.0px;background:#fff;"></div>
<div class="r" style="left:527.2px;top:641.9px;width:23.7px;height:18.8px;background:#d6e8f4;"></div>
<div class="r" style="left:526.6px;top:641.3px;width:24.9px;height:20.0px;display:flex;align-items:center;justify-content:flex-start;text-align:center;padding-left:4px;font-size:10.8px;line-height:10.8px;color:#231f20;font-weight:normal;letter-spacing:-0.2px;white-space:nowrap;-webkit-text-stroke:0.35px #231f20;"><span style="display:inline-block;position:relative;top:1.3px;transform:scaleX(0.86);transform-origin:0 50%">35</span></div>
<div class="r" style="left:526.6px;top:661.3px;width:24.9px;height:19.7px;background:#fff;"></div>
<div class="r" style="left:527.2px;top:661.9px;width:23.7px;height:18.5px;background:#d6e8f4;"></div>
<div class="r" style="left:526.6px;top:661.3px;width:24.9px;height:19.7px;display:flex;align-items:center;justify-content:flex-start;text-align:center;padding-left:4px;font-size:10.8px;line-height:10.8px;color:#231f20;font-weight:normal;letter-spacing:-0.2px;white-space:nowrap;-webkit-text-stroke:0.35px #231f20;"><span style="display:inline-block;position:relative;top:1.3px;transform:scaleX(0.86);transform-origin:0 50%">37.2</span></div>
<div class="r" style="left:526.6px;top:681.0px;width:24.9px;height:19.8px;background:#fff;"></div>
<div class="r" style="left:527.2px;top:681.6px;width:23.7px;height:18.6px;background:#d6e8f4;"></div>
<div class="r" style="left:526.6px;top:681.0px;width:24.9px;height:19.8px;display:flex;align-items:center;justify-content:flex-start;text-align:center;padding-left:4px;font-size:10.8px;line-height:10.8px;color:#231f20;font-weight:normal;letter-spacing:-0.2px;white-space:nowrap;-webkit-text-stroke:0.35px #231f20;"><span style="display:inline-block;position:relative;top:1.3px;transform:scaleX(0.86);transform-origin:0 50%">41.5</span></div>
<div class="r" style="left:526.6px;top:700.8px;width:24.9px;height:19.9px;background:#fff;"></div>
<div class="r" style="left:527.2px;top:701.4px;width:23.7px;height:18.7px;background:#d6e8f4;"></div>
<div class="r" style="left:526.6px;top:700.8px;width:24.9px;height:19.9px;display:flex;align-items:center;justify-content:flex-start;text-align:center;padding-left:4px;font-size:10.8px;line-height:10.8px;color:#231f20;font-weight:normal;letter-spacing:-0.2px;white-space:nowrap;-webkit-text-stroke:0.35px #231f20;"><span style="display:inline-block;position:relative;top:1.3px;transform:scaleX(0.86);transform-origin:0 50%">44</span></div>
<div class="r" style="left:526.6px;top:720.7px;width:24.9px;height:19.7px;background:#fff;"></div>
<div class="r" style="left:527.2px;top:721.3px;width:23.7px;height:18.5px;background:#d6e8f4;"></div>
<div class="r" style="left:526.6px;top:720.7px;width:24.9px;height:19.7px;display:flex;align-items:center;justify-content:flex-start;text-align:center;padding-left:4px;font-size:10.8px;line-height:10.8px;color:#231f20;font-weight:normal;letter-spacing:-0.2px;white-space:nowrap;-webkit-text-stroke:0.35px #231f20;"><span style="display:inline-block;position:relative;top:1.3px;transform:scaleX(0.86);transform-origin:0 50%">47.6</span></div>
<div class="r" style="left:526.6px;top:740.4px;width:24.9px;height:19.6px;background:#fff;"></div>
<div class="r" style="left:527.2px;top:741.0px;width:23.7px;height:18.4px;background:#d6e8f4;"></div>
<div class="r" style="left:526.6px;top:740.4px;width:24.9px;height:19.6px;display:flex;align-items:center;justify-content:flex-start;text-align:center;padding-left:4px;font-size:10.8px;line-height:10.8px;color:#231f20;font-weight:normal;letter-spacing:-0.2px;white-space:nowrap;-webkit-text-stroke:0.35px #231f20;"><span style="display:inline-block;position:relative;top:1.3px;transform:scaleX(0.86);transform-origin:0 50%">51.5</span></div>
<div class="r" style="left:551.5px;top:641.3px;width:21.5px;height:20.0px;background:#fff;"></div>
<div class="r" style="left:552.1px;top:641.9px;width:20.3px;height:18.8px;background:#d6e8f4;"></div>
<div class="r" style="left:551.5px;top:641.3px;width:21.5px;height:20.0px;display:flex;align-items:center;justify-content:center;text-align:center;font-size:10.8px;line-height:10.8px;color:#231f20;font-weight:normal;letter-spacing:-0.2px;white-space:nowrap;-webkit-text-stroke:0.35px #231f20;"><span style="display:inline-block;position:relative;top:1.3px;transform:scaleX(0.86);transform-origin:50% 50%">34</span></div>
<div class="r" style="left:551.5px;top:661.3px;width:21.5px;height:19.7px;background:#fff;"></div>
<div class="r" style="left:552.1px;top:661.9px;width:20.3px;height:18.5px;background:#d6e8f4;"></div>
<div class="r" style="left:551.5px;top:661.3px;width:21.5px;height:19.7px;display:flex;align-items:center;justify-content:center;text-align:center;font-size:10.8px;line-height:10.8px;color:#231f20;font-weight:normal;letter-spacing:-0.2px;white-space:nowrap;-webkit-text-stroke:0.35px #231f20;"><span style="display:inline-block;position:relative;top:1.3px;transform:scaleX(0.86);transform-origin:50% 50%">40</span></div>
<div class="r" style="left:551.5px;top:681.0px;width:21.5px;height:19.8px;background:#fff;"></div>
<div class="r" style="left:552.1px;top:681.6px;width:20.3px;height:18.6px;background:#d6e8f4;"></div>
<div class="r" style="left:551.5px;top:681.0px;width:21.5px;height:19.8px;display:flex;align-items:center;justify-content:center;text-align:center;font-size:10.8px;line-height:10.8px;color:#231f20;font-weight:normal;letter-spacing:-0.2px;white-space:nowrap;-webkit-text-stroke:0.35px #231f20;"><span style="display:inline-block;position:relative;top:1.3px;transform:scaleX(0.86);transform-origin:50% 50%">44</span></div>
<div class="r" style="left:551.5px;top:700.8px;width:21.5px;height:19.9px;background:#fff;"></div>
<div class="r" style="left:552.1px;top:701.4px;width:20.3px;height:18.7px;background:#d6e8f4;"></div>
<div class="r" style="left:551.5px;top:700.8px;width:21.5px;height:19.9px;display:flex;align-items:center;justify-content:center;text-align:center;font-size:10.8px;line-height:10.8px;color:#231f20;font-weight:normal;letter-spacing:-0.2px;white-space:nowrap;-webkit-text-stroke:0.35px #231f20;"><span style="display:inline-block;position:relative;top:1.3px;transform:scaleX(0.86);transform-origin:50% 50%">52</span></div>
<div class="r" style="left:551.5px;top:720.7px;width:21.5px;height:19.7px;background:#fff;"></div>
<div class="r" style="left:552.1px;top:721.3px;width:20.3px;height:18.5px;background:#d6e8f4;"></div>
<div class="r" style="left:551.5px;top:720.7px;width:21.5px;height:19.7px;display:flex;align-items:center;justify-content:center;text-align:center;font-size:10.8px;line-height:10.8px;color:#231f20;font-weight:normal;letter-spacing:-0.2px;white-space:nowrap;-webkit-text-stroke:0.35px #231f20;"><span style="display:inline-block;position:relative;top:1.3px;transform:scaleX(0.86);transform-origin:50% 50%">63</span></div>
<div class="r" style="left:551.5px;top:740.4px;width:21.5px;height:19.6px;background:#fff;"></div>
<div class="r" style="left:552.1px;top:741.0px;width:20.3px;height:18.4px;background:#d6e8f4;"></div>
<div class="r" style="left:551.5px;top:740.4px;width:21.5px;height:19.6px;display:flex;align-items:center;justify-content:center;text-align:center;font-size:10.8px;line-height:10.8px;color:#231f20;font-weight:normal;letter-spacing:-0.2px;white-space:nowrap;-webkit-text-stroke:0.35px #231f20;"><span style="display:inline-block;position:relative;top:1.3px;transform:scaleX(0.86);transform-origin:50% 50%">75</span></div>
<div class="r" style="left:573.0px;top:641.3px;width:23.2px;height:20.0px;background:#fff;"></div>
<div class="r" style="left:573.6px;top:641.9px;width:22.0px;height:18.8px;background:#d6e8f4;"></div>
<div class="r" style="left:573.0px;top:641.3px;width:23.2px;height:20.0px;display:flex;align-items:center;justify-content:center;text-align:center;font-size:10.8px;line-height:10.8px;color:#231f20;font-weight:normal;letter-spacing:-0.2px;white-space:nowrap;-webkit-text-stroke:0.35px #231f20;"><span style="display:inline-block;position:relative;top:1.3px;transform:scaleX(0.86);transform-origin:50% 50%">24</span></div>
<div class="r" style="left:573.0px;top:661.3px;width:23.2px;height:19.7px;background:#fff;"></div>
<div class="r" style="left:573.6px;top:661.9px;width:22.0px;height:18.5px;background:#d6e8f4;"></div>
<div class="r" style="left:573.0px;top:661.3px;width:23.2px;height:19.7px;display:flex;align-items:center;justify-content:center;text-align:center;font-size:10.8px;line-height:10.8px;color:#231f20;font-weight:normal;letter-spacing:-0.2px;white-space:nowrap;-webkit-text-stroke:0.35px #231f20;"><span style="display:inline-block;position:relative;top:1.3px;transform:scaleX(0.86);transform-origin:50% 50%">28</span></div>
<div class="r" style="left:573.0px;top:681.0px;width:23.2px;height:19.8px;background:#fff;"></div>
<div class="r" style="left:573.6px;top:681.6px;width:22.0px;height:18.6px;background:#d6e8f4;"></div>
<div class="r" style="left:573.0px;top:681.0px;width:23.2px;height:19.8px;display:flex;align-items:center;justify-content:center;text-align:center;font-size:10.8px;line-height:10.8px;color:#231f20;font-weight:normal;letter-spacing:-0.2px;white-space:nowrap;-webkit-text-stroke:0.35px #231f20;"><span style="display:inline-block;position:relative;top:1.3px;transform:scaleX(0.86);transform-origin:50% 50%">34</span></div>
<div class="r" style="left:573.0px;top:700.8px;width:23.2px;height:19.9px;background:#fff;"></div>
<div class="r" style="left:573.6px;top:701.4px;width:22.0px;height:18.7px;background:#d6e8f4;"></div>
<div class="r" style="left:573.0px;top:700.8px;width:23.2px;height:19.9px;display:flex;align-items:center;justify-content:center;text-align:center;font-size:10.8px;line-height:10.8px;color:#231f20;font-weight:normal;letter-spacing:-0.2px;white-space:nowrap;-webkit-text-stroke:0.35px #231f20;"><span style="display:inline-block;position:relative;top:1.3px;transform:scaleX(0.86);transform-origin:50% 50%">40</span></div>
<div class="r" style="left:573.0px;top:720.7px;width:23.2px;height:19.7px;background:#fff;"></div>
<div class="r" style="left:573.6px;top:721.3px;width:22.0px;height:18.5px;background:#d6e8f4;"></div>
<div class="r" style="left:573.0px;top:720.7px;width:23.2px;height:19.7px;display:flex;align-items:center;justify-content:center;text-align:center;font-size:10.8px;line-height:10.8px;color:#231f20;font-weight:normal;letter-spacing:-0.2px;white-space:nowrap;-webkit-text-stroke:0.35px #231f20;"><span style="display:inline-block;position:relative;top:1.3px;transform:scaleX(0.86);transform-origin:50% 50%">28</span></div>
<div class="r" style="left:573.0px;top:740.4px;width:23.2px;height:19.6px;background:#fff;"></div>
<div class="r" style="left:573.6px;top:741.0px;width:22.0px;height:18.4px;background:#d6e8f4;"></div>
<div class="r" style="left:573.0px;top:740.4px;width:23.2px;height:19.6px;display:flex;align-items:center;justify-content:center;text-align:center;font-size:10.8px;line-height:10.8px;color:#231f20;font-weight:normal;letter-spacing:-0.2px;white-space:nowrap;-webkit-text-stroke:0.35px #231f20;"><span style="display:inline-block;position:relative;top:1.3px;transform:scaleX(0.86);transform-origin:50% 50%">60</span></div>
<div class="r" style="left:596.2px;top:641.3px;width:22.1px;height:39.7px;background:#fff;"></div>
<div class="r" style="left:596.8px;top:641.9px;width:20.9px;height:38.5px;background:#d6e8f4;"></div>
<div class="r" style="left:596.2px;top:641.3px;width:22.1px;height:39.7px;display:flex;align-items:center;justify-content:center;text-align:center;font-size:10.8px;line-height:10.8px;color:#231f20;font-weight:normal;letter-spacing:-0.2px;white-space:nowrap;-webkit-text-stroke:0.35px #231f20;"><span style="display:inline-block;position:relative;top:1.3px;transform:scaleX(0.86);transform-origin:50% 50%">8</span></div>
<div class="r" style="left:596.2px;top:681.0px;width:22.1px;height:19.8px;background:#fff;"></div>
<div class="r" style="left:596.8px;top:681.6px;width:20.9px;height:18.6px;background:#d6e8f4;"></div>
<div class="r" style="left:596.2px;top:681.0px;width:22.1px;height:19.8px;display:flex;align-items:center;justify-content:center;text-align:center;font-size:10.8px;line-height:10.8px;color:#231f20;font-weight:normal;letter-spacing:-0.2px;white-space:nowrap;-webkit-text-stroke:0.35px #231f20;"><span style="display:inline-block;position:relative;top:1.3px;transform:scaleX(0.86);transform-origin:50% 50%">10</span></div>
<div class="r" style="left:596.2px;top:700.8px;width:22.1px;height:19.9px;background:#fff;"></div>
<div class="r" style="left:596.8px;top:701.4px;width:20.9px;height:18.7px;background:#d6e8f4;"></div>
<div class="r" style="left:596.2px;top:700.8px;width:22.1px;height:19.9px;display:flex;align-items:center;justify-content:center;text-align:center;font-size:10.8px;line-height:10.8px;color:#231f20;font-weight:normal;letter-spacing:-0.2px;white-space:nowrap;-webkit-text-stroke:0.35px #231f20;"><span style="display:inline-block;position:relative;top:1.3px;transform:scaleX(0.86);transform-origin:50% 50%">12</span></div>
<div class="r" style="left:596.2px;top:720.7px;width:22.1px;height:39.3px;background:#fff;"></div>
<div class="r" style="left:596.8px;top:721.3px;width:20.9px;height:38.1px;background:#d6e8f4;"></div>
<div class="r" style="left:596.2px;top:720.7px;width:22.1px;height:39.3px;display:flex;align-items:center;justify-content:center;text-align:center;font-size:10.8px;line-height:10.8px;color:#231f20;font-weight:normal;letter-spacing:-0.2px;white-space:nowrap;-webkit-text-stroke:0.35px #231f20;"><span style="display:inline-block;position:relative;top:1.3px;transform:scaleX(0.86);transform-origin:50% 50%">14</span></div>
<div class="r" style="left:618.3px;top:641.3px;width:22.0px;height:20.0px;background:#fff;"></div>
<div class="r" style="left:618.9px;top:641.9px;width:20.8px;height:18.8px;background:#d6e8f4;"></div>
<div class="r" style="left:618.3px;top:641.3px;width:22.0px;height:20.0px;display:flex;align-items:center;justify-content:center;text-align:center;font-size:10.8px;line-height:10.8px;color:#231f20;font-weight:normal;letter-spacing:-0.2px;white-space:nowrap;-webkit-text-stroke:0.35px #231f20;"><span style="display:inline-block;position:relative;top:1.3px;transform:scaleX(0.86);transform-origin:50% 50%">12</span></div>
<div class="r" style="left:618.3px;top:661.3px;width:22.0px;height:19.7px;background:#fff;"></div>
<div class="r" style="left:618.9px;top:661.9px;width:20.8px;height:18.5px;background:#d6e8f4;"></div>
<div class="r" style="left:618.3px;top:661.3px;width:22.0px;height:19.7px;display:flex;align-items:center;justify-content:center;text-align:center;font-size:10.8px;line-height:10.8px;color:#231f20;font-weight:normal;letter-spacing:-0.2px;white-space:nowrap;-webkit-text-stroke:0.35px #231f20;"><span style="display:inline-block;position:relative;top:1.3px;transform:scaleX(0.86);transform-origin:50% 50%">14</span></div>
<div class="r" style="left:618.3px;top:681.0px;width:22.0px;height:19.8px;background:#fff;"></div>
<div class="r" style="left:618.9px;top:681.6px;width:20.8px;height:18.6px;background:#d6e8f4;"></div>
<div class="r" style="left:618.3px;top:681.0px;width:22.0px;height:19.8px;display:flex;align-items:center;justify-content:center;text-align:center;font-size:10.8px;line-height:10.8px;color:#231f20;font-weight:normal;letter-spacing:-0.2px;white-space:nowrap;-webkit-text-stroke:0.35px #231f20;"><span style="display:inline-block;position:relative;top:1.3px;transform:scaleX(0.86);transform-origin:50% 50%">17</span></div>
<div class="r" style="left:618.3px;top:700.8px;width:22.0px;height:19.9px;background:#fff;"></div>
<div class="r" style="left:618.9px;top:701.4px;width:20.8px;height:18.7px;background:#d6e8f4;"></div>
<div class="r" style="left:618.3px;top:700.8px;width:22.0px;height:19.9px;display:flex;align-items:center;justify-content:center;text-align:center;font-size:10.8px;line-height:10.8px;color:#231f20;font-weight:normal;letter-spacing:-0.2px;white-space:nowrap;-webkit-text-stroke:0.35px #231f20;"><span style="display:inline-block;position:relative;top:1.3px;transform:scaleX(0.86);transform-origin:50% 50%">20</span></div>
<div class="r" style="left:618.3px;top:720.7px;width:22.0px;height:19.7px;background:#fff;"></div>
<div class="r" style="left:618.9px;top:721.3px;width:20.8px;height:18.5px;background:#d6e8f4;"></div>
<div class="r" style="left:618.3px;top:720.7px;width:22.0px;height:19.7px;display:flex;align-items:center;justify-content:center;text-align:center;font-size:10.8px;line-height:10.8px;color:#231f20;font-weight:normal;letter-spacing:-0.2px;white-space:nowrap;-webkit-text-stroke:0.35px #231f20;"><span style="display:inline-block;position:relative;top:1.3px;transform:scaleX(0.86);transform-origin:50% 50%">24</span></div>
<div class="r" style="left:618.3px;top:740.4px;width:22.0px;height:19.6px;background:#fff;"></div>
<div class="r" style="left:618.9px;top:741.0px;width:20.8px;height:18.4px;background:#d6e8f4;"></div>
<div class="r" style="left:618.3px;top:740.4px;width:22.0px;height:19.6px;display:flex;align-items:center;justify-content:center;text-align:center;font-size:10.8px;line-height:10.8px;color:#231f20;font-weight:normal;letter-spacing:-0.2px;white-space:nowrap;-webkit-text-stroke:0.35px #231f20;"><span style="display:inline-block;position:relative;top:1.3px;transform:scaleX(0.86);transform-origin:50% 50%">30</span></div>
<div class="r" style="left:640.3px;top:641.3px;width:24.4px;height:20.0px;background:#fff;"></div>
<div class="r" style="left:640.9px;top:641.9px;width:23.2px;height:18.8px;background:#d6e8f4;"></div>
<div class="r" style="left:640.3px;top:641.3px;width:24.4px;height:20.0px;display:flex;align-items:center;justify-content:flex-start;text-align:center;padding-left:4px;font-size:10.8px;line-height:10.8px;color:#231f20;font-weight:normal;letter-spacing:-0.2px;white-space:nowrap;-webkit-text-stroke:0.35px #231f20;"><span style="display:inline-block;position:relative;top:1.3px;transform:scaleX(0.86);transform-origin:0 50%">17</span></div>
<div class="r" style="left:640.3px;top:661.3px;width:24.4px;height:19.7px;background:#fff;"></div>
<div class="r" style="left:640.9px;top:661.9px;width:23.2px;height:18.5px;background:#d6e8f4;"></div>
<div class="r" style="left:640.3px;top:661.3px;width:24.4px;height:19.7px;display:flex;align-items:center;justify-content:flex-start;text-align:center;padding-left:4px;font-size:10.8px;line-height:10.8px;color:#231f20;font-weight:normal;letter-spacing:-0.2px;white-space:nowrap;-webkit-text-stroke:0.35px #231f20;"><span style="display:inline-block;position:relative;top:1.3px;transform:scaleX(0.86);transform-origin:0 50%">20</span></div>
<div class="r" style="left:640.3px;top:681.0px;width:24.4px;height:19.8px;background:#fff;"></div>
<div class="r" style="left:640.9px;top:681.6px;width:23.2px;height:18.6px;background:#d6e8f4;"></div>
<div class="r" style="left:640.3px;top:681.0px;width:24.4px;height:19.8px;display:flex;align-items:center;justify-content:flex-start;text-align:center;padding-left:4px;font-size:10.8px;line-height:10.8px;color:#231f20;font-weight:normal;letter-spacing:-0.2px;white-space:nowrap;-webkit-text-stroke:0.35px #231f20;"><span style="display:inline-block;position:relative;top:1.3px;transform:scaleX(0.86);transform-origin:0 50%">22</span></div>
<div class="r" style="left:640.3px;top:700.8px;width:24.4px;height:19.9px;background:#fff;"></div>
<div class="r" style="left:640.9px;top:701.4px;width:23.2px;height:18.7px;background:#d6e8f4;"></div>
<div class="r" style="left:640.3px;top:700.8px;width:24.4px;height:19.9px;display:flex;align-items:center;justify-content:flex-start;text-align:center;padding-left:4px;font-size:10.8px;line-height:10.8px;color:#231f20;font-weight:normal;letter-spacing:-0.2px;white-space:nowrap;-webkit-text-stroke:0.35px #231f20;"><span style="display:inline-block;position:relative;top:1.3px;transform:scaleX(0.86);transform-origin:0 50%">26</span></div>
<div class="r" style="left:640.3px;top:720.7px;width:24.4px;height:19.7px;background:#fff;"></div>
<div class="r" style="left:640.9px;top:721.3px;width:23.2px;height:18.5px;background:#d6e8f4;"></div>
<div class="r" style="left:640.3px;top:720.7px;width:24.4px;height:19.7px;display:flex;align-items:center;justify-content:flex-start;text-align:center;padding-left:4px;font-size:10.8px;line-height:10.8px;color:#231f20;font-weight:normal;letter-spacing:-0.2px;white-space:nowrap;-webkit-text-stroke:0.35px #231f20;"><span style="display:inline-block;position:relative;top:1.3px;transform:scaleX(0.86);transform-origin:0 50%">31</span></div>
<div class="r" style="left:640.3px;top:740.4px;width:24.4px;height:19.6px;background:#fff;"></div>
<div class="r" style="left:640.9px;top:741.0px;width:23.2px;height:18.4px;background:#d6e8f4;"></div>
<div class="r" style="left:640.3px;top:740.4px;width:24.4px;height:19.6px;display:flex;align-items:center;justify-content:flex-start;text-align:center;padding-left:4px;font-size:10.8px;line-height:10.8px;color:#231f20;font-weight:normal;letter-spacing:-0.2px;white-space:nowrap;-webkit-text-stroke:0.35px #231f20;"><span style="display:inline-block;position:relative;top:1.3px;transform:scaleX(0.86);transform-origin:0 50%">37.5</span></div>
<div class="r" style="left:664.7px;top:641.3px;width:49.9px;height:59.5px;background:#fff;"></div>
<div class="r" style="left:665.3px;top:641.9px;width:48.7px;height:58.3px;background:#d6e8f4;"></div>
<div class="r" style="left:664.7px;top:641.3px;width:49.9px;height:59.5px;display:flex;align-items:center;justify-content:center;text-align:center;font-size:10.8px;line-height:10.8px;color:#231f20;font-weight:normal;letter-spacing:-0.2px;white-space:nowrap;-webkit-text-stroke:0.35px #231f20;"><span style="display:inline-block;position:relative;top:1.3px;transform:scaleX(0.86);transform-origin:50% 50%">M6×1.0</span></div>
<div class="r" style="left:664.7px;top:700.8px;width:49.9px;height:59.2px;background:#fff;"></div>
<div class="r" style="left:665.3px;top:701.4px;width:48.7px;height:58.0px;background:#d6e8f4;"></div>
<div class="r" style="left:664.7px;top:700.8px;width:49.9px;height:59.2px;display:flex;align-items:center;justify-content:center;text-align:center;font-size:10.8px;line-height:10.8px;color:#231f20;font-weight:normal;letter-spacing:-0.2px;white-space:nowrap;-webkit-text-stroke:0.35px #231f20;"><span style="display:inline-block;position:relative;top:1.3px;transform:scaleX(0.86);transform-origin:50% 50%">M8×1.25</span></div>
<div class="r" style="left:714.6px;top:641.3px;width:22.0px;height:59.5px;background:#fff;"></div>
<div class="r" style="left:715.2px;top:641.9px;width:20.8px;height:58.3px;background:#d6e8f4;"></div>
<div class="r" style="left:714.6px;top:641.3px;width:22.0px;height:59.5px;display:flex;align-items:center;justify-content:flex-start;text-align:center;padding-left:4px;font-size:10.8px;line-height:10.8px;color:#231f20;font-weight:normal;letter-spacing:-0.2px;white-space:nowrap;-webkit-text-stroke:0.35px #231f20;"><span style="display:inline-block;position:relative;top:1.3px;transform:scaleX(0.86);transform-origin:0 50%">6.5</span></div>
<div class="r" style="left:714.6px;top:700.8px;width:22.0px;height:59.2px;background:#fff;"></div>
<div class="r" style="left:715.2px;top:701.4px;width:20.8px;height:58.0px;background:#d6e8f4;"></div>
<div class="r" style="left:714.6px;top:700.8px;width:22.0px;height:59.2px;display:flex;align-items:center;justify-content:flex-start;text-align:center;padding-left:4px;font-size:10.8px;line-height:10.8px;color:#231f20;font-weight:normal;letter-spacing:-0.2px;white-space:nowrap;-webkit-text-stroke:0.35px #231f20;"><span style="display:inline-block;position:relative;top:1.3px;transform:scaleX(0.86);transform-origin:0 50%">9</span></div>
<div class="r" style="left:736.6px;top:641.3px;width:22.3px;height:20.0px;background:#fff;"></div>
<div class="r" style="left:737.2px;top:641.9px;width:21.1px;height:18.8px;background:#d6e8f4;"></div>
<div class="r" style="left:736.6px;top:641.3px;width:22.3px;height:20.0px;display:flex;align-items:center;justify-content:center;text-align:center;font-size:10.8px;line-height:10.8px;color:#231f20;font-weight:normal;letter-spacing:-0.2px;white-space:nowrap;-webkit-text-stroke:0.35px #231f20;"><span style="display:inline-block;position:relative;top:1.3px;transform:scaleX(0.86);transform-origin:50% 50%">33</span></div>
<div class="r" style="left:736.6px;top:661.3px;width:22.3px;height:19.7px;background:#fff;"></div>
<div class="r" style="left:737.2px;top:661.9px;width:21.1px;height:18.5px;background:#d6e8f4;"></div>
<div class="r" style="left:736.6px;top:661.3px;width:22.3px;height:19.7px;display:flex;align-items:center;justify-content:center;text-align:center;font-size:10.8px;line-height:10.8px;color:#231f20;font-weight:normal;letter-spacing:-0.2px;white-space:nowrap;-webkit-text-stroke:0.35px #231f20;"><span style="display:inline-block;position:relative;top:1.3px;transform:scaleX(0.86);transform-origin:50% 50%">39</span></div>
<div class="r" style="left:736.6px;top:681.0px;width:22.3px;height:19.8px;background:#fff;"></div>
<div class="r" style="left:737.2px;top:681.6px;width:21.1px;height:18.6px;background:#d6e8f4;"></div>
<div class="r" style="left:736.6px;top:681.0px;width:22.3px;height:19.8px;display:flex;align-items:center;justify-content:center;text-align:center;font-size:10.8px;line-height:10.8px;color:#231f20;font-weight:normal;letter-spacing:-0.2px;white-space:nowrap;-webkit-text-stroke:0.35px #231f20;"><span style="display:inline-block;position:relative;top:1.3px;transform:scaleX(0.86);transform-origin:50% 50%">43</span></div>
<div class="r" style="left:736.6px;top:700.8px;width:22.3px;height:19.9px;background:#fff;"></div>
<div class="r" style="left:737.2px;top:701.4px;width:21.1px;height:18.7px;background:#d6e8f4;"></div>
<div class="r" style="left:736.6px;top:700.8px;width:22.3px;height:19.9px;display:flex;align-items:center;justify-content:center;text-align:center;font-size:10.8px;line-height:10.8px;color:#231f20;font-weight:normal;letter-spacing:-0.2px;white-space:nowrap;-webkit-text-stroke:0.35px #231f20;"><span style="display:inline-block;position:relative;top:1.3px;transform:scaleX(0.86);transform-origin:50% 50%">51</span></div>
<div class="r" style="left:736.6px;top:720.7px;width:22.3px;height:19.7px;background:#fff;"></div>
<div class="r" style="left:737.2px;top:721.3px;width:21.1px;height:18.5px;background:#d6e8f4;"></div>
<div class="r" style="left:736.6px;top:720.7px;width:22.3px;height:19.7px;display:flex;align-items:center;justify-content:center;text-align:center;font-size:10.8px;line-height:10.8px;color:#231f20;font-weight:normal;letter-spacing:-0.2px;white-space:nowrap;-webkit-text-stroke:0.35px #231f20;"><span style="display:inline-block;position:relative;top:1.3px;transform:scaleX(0.86);transform-origin:50% 50%">61</span></div>
<div class="r" style="left:736.6px;top:740.4px;width:22.3px;height:19.6px;background:#fff;"></div>
<div class="r" style="left:737.2px;top:741.0px;width:21.1px;height:18.4px;background:#d6e8f4;"></div>
<div class="r" style="left:736.6px;top:740.4px;width:22.3px;height:19.6px;display:flex;align-items:center;justify-content:center;text-align:center;font-size:10.8px;line-height:10.8px;color:#231f20;font-weight:normal;letter-spacing:-0.2px;white-space:nowrap;-webkit-text-stroke:0.35px #231f20;"><span style="display:inline-block;position:relative;top:1.3px;transform:scaleX(0.86);transform-origin:50% 50%">74</span></div>
<div class="r" style="left:758.9px;top:641.3px;width:22.5px;height:20.0px;background:#fff;"></div>
<div class="r" style="left:759.5px;top:641.9px;width:21.3px;height:18.8px;background:#d6e8f4;"></div>
<div class="r" style="left:758.9px;top:641.3px;width:22.5px;height:20.0px;display:flex;align-items:center;justify-content:center;text-align:center;font-size:10.8px;line-height:10.8px;color:#231f20;font-weight:normal;letter-spacing:-0.2px;white-space:nowrap;-webkit-text-stroke:0.35px #231f20;"><span style="display:inline-block;position:relative;top:1.3px;transform:scaleX(0.86);transform-origin:50% 50%">5</span></div>
<div class="r" style="left:758.9px;top:661.3px;width:22.5px;height:39.5px;background:#fff;"></div>
<div class="r" style="left:759.5px;top:661.9px;width:21.3px;height:38.3px;background:#d6e8f4;"></div>
<div class="r" style="left:758.9px;top:661.3px;width:22.5px;height:39.5px;display:flex;align-items:center;justify-content:center;text-align:center;font-size:10.8px;line-height:10.8px;color:#231f20;font-weight:normal;letter-spacing:-0.2px;white-space:nowrap;-webkit-text-stroke:0.35px #231f20;"><span style="display:inline-block;position:relative;top:1.3px;transform:scaleX(0.86);transform-origin:50% 50%">6</span></div>
<div class="r" style="left:758.9px;top:700.8px;width:22.5px;height:59.2px;background:#fff;"></div>
<div class="r" style="left:759.5px;top:701.4px;width:21.3px;height:58.0px;background:#d6e8f4;"></div>
<div class="r" style="left:758.9px;top:700.8px;width:22.5px;height:59.2px;display:flex;align-items:center;justify-content:center;text-align:center;font-size:10.8px;line-height:10.8px;color:#231f20;font-weight:normal;letter-spacing:-0.2px;white-space:nowrap;-webkit-text-stroke:0.35px #231f20;"><span style="display:inline-block;position:relative;top:1.3px;transform:scaleX(0.86);transform-origin:50% 50%">8</span></div>
<div class="r" style="left:781.4px;top:641.3px;width:22.0px;height:20.0px;background:#fff;"></div>
<div class="r" style="left:782.0px;top:641.9px;width:20.8px;height:18.8px;background:#d6e8f4;"></div>
<div class="r" style="left:781.4px;top:641.3px;width:22.0px;height:20.0px;display:flex;align-items:center;justify-content:flex-end;text-align:center;padding-right:4px;font-size:10.8px;line-height:10.8px;color:#231f20;font-weight:normal;letter-spacing:-0.2px;white-space:nowrap;-webkit-text-stroke:0.35px #231f20;"><span style="display:inline-block;position:relative;top:1.3px;transform:scaleX(0.86);transform-origin:100% 50%">8</span></div>
<div class="r" style="left:781.4px;top:661.3px;width:22.0px;height:19.7px;background:#fff;"></div>
<div class="r" style="left:782.0px;top:661.9px;width:20.8px;height:18.5px;background:#d6e8f4;"></div>
<div class="r" style="left:781.4px;top:661.3px;width:22.0px;height:19.7px;display:flex;align-items:center;justify-content:center;text-align:center;font-size:10.8px;line-height:10.8px;color:#231f20;font-weight:normal;letter-spacing:-0.2px;white-space:nowrap;-webkit-text-stroke:0.35px #231f20;"><span style="display:inline-block;position:relative;top:1.3px;transform:scaleX(0.86);transform-origin:50% 50%">10</span></div>
<div class="r" style="left:781.4px;top:681.0px;width:22.0px;height:19.8px;background:#fff;"></div>
<div class="r" style="left:782.0px;top:681.6px;width:20.8px;height:18.6px;background:#d6e8f4;"></div>
<div class="r" style="left:781.4px;top:681.0px;width:22.0px;height:19.8px;display:flex;align-items:center;justify-content:center;text-align:center;font-size:10.8px;line-height:10.8px;color:#231f20;font-weight:normal;letter-spacing:-0.2px;white-space:nowrap;-webkit-text-stroke:0.35px #231f20;"><span style="display:inline-block;position:relative;top:1.3px;transform:scaleX(0.86);transform-origin:50% 50%">12</span></div>
<div class="r" style="left:781.4px;top:700.8px;width:22.0px;height:19.9px;background:#fff;"></div>
<div class="r" style="left:782.0px;top:701.4px;width:20.8px;height:18.7px;background:#d6e8f4;"></div>
<div class="r" style="left:781.4px;top:700.8px;width:22.0px;height:19.9px;display:flex;align-items:center;justify-content:center;text-align:center;font-size:10.8px;line-height:10.8px;color:#231f20;font-weight:normal;letter-spacing:-0.2px;white-space:nowrap;-webkit-text-stroke:0.35px #231f20;"><span style="display:inline-block;position:relative;top:1.3px;transform:scaleX(0.86);transform-origin:50% 50%">16</span></div>
<div class="r" style="left:781.4px;top:720.7px;width:22.0px;height:39.3px;background:#fff;"></div>
<div class="r" style="left:782.0px;top:721.3px;width:20.8px;height:38.1px;background:#d6e8f4;"></div>
<div class="r" style="left:781.4px;top:720.7px;width:22.0px;height:39.3px;display:flex;align-items:center;justify-content:center;text-align:center;font-size:10.8px;line-height:10.8px;color:#231f20;font-weight:normal;letter-spacing:-0.2px;white-space:nowrap;-webkit-text-stroke:0.35px #231f20;"><span style="display:inline-block;position:relative;top:1.3px;transform:scaleX(0.86);transform-origin:50% 50%">20</span></div>
<div class="r" style="left:803.4px;top:641.3px;width:22.1px;height:20.0px;background:#fff;"></div>
<div class="r" style="left:804.0px;top:641.9px;width:20.9px;height:18.8px;background:#d6e8f4;"></div>
<div class="r" style="left:803.4px;top:641.3px;width:22.1px;height:20.0px;display:flex;align-items:center;justify-content:center;text-align:center;font-size:10.8px;line-height:10.8px;color:#231f20;font-weight:normal;letter-spacing:-0.2px;white-space:nowrap;-webkit-text-stroke:0.35px #231f20;"><span style="display:inline-block;position:relative;top:1.3px;transform:scaleX(0.86);transform-origin:50% 50%">5.5</span></div>
<div class="r" style="left:803.4px;top:661.3px;width:22.1px;height:39.5px;background:#fff;"></div>
<div class="r" style="left:804.0px;top:661.9px;width:20.9px;height:38.3px;background:#d6e8f4;"></div>
<div class="r" style="left:803.4px;top:661.3px;width:22.1px;height:39.5px;display:flex;align-items:center;justify-content:center;text-align:center;font-size:10.8px;line-height:10.8px;color:#231f20;font-weight:normal;letter-spacing:-0.2px;white-space:nowrap;-webkit-text-stroke:0.35px #231f20;"><span style="display:inline-block;position:relative;top:1.3px;transform:scaleX(0.86);transform-origin:50% 50%">6.5</span></div>
<div class="r" style="left:803.4px;top:700.8px;width:22.1px;height:19.9px;background:#fff;"></div>
<div class="r" style="left:804.0px;top:701.4px;width:20.9px;height:18.7px;background:#d6e8f4;"></div>
<div class="r" style="left:803.4px;top:700.8px;width:22.1px;height:19.9px;display:flex;align-items:center;justify-content:flex-start;text-align:center;padding-left:4px;font-size:10.8px;line-height:10.8px;color:#231f20;font-weight:normal;letter-spacing:-0.2px;white-space:nowrap;-webkit-text-stroke:0.35px #231f20;"><span style="display:inline-block;position:relative;top:1.3px;transform:scaleX(0.86);transform-origin:0 50%">9</span></div>
<div class="r" style="left:803.4px;top:720.7px;width:22.1px;height:39.3px;background:#fff;"></div>
<div class="r" style="left:804.0px;top:721.3px;width:20.9px;height:38.1px;background:#d6e8f4;"></div>
<div class="r" style="left:803.4px;top:720.7px;width:22.1px;height:39.3px;display:flex;align-items:center;justify-content:center;text-align:center;font-size:10.8px;line-height:10.8px;color:#231f20;font-weight:normal;letter-spacing:-0.2px;white-space:nowrap;-webkit-text-stroke:0.35px #231f20;"><span style="display:inline-block;position:relative;top:1.3px;transform:scaleX(0.86);transform-origin:50% 50%">8.5</span></div>
<div class="r" style="left:74.0px;top:611.0px;width:39.0px;height:1.0px;background:#3a3634;"></div>
<div class="r" style="left:74.0px;top:641.0px;width:39.0px;height:1.0px;background:#3a3634;"></div>
<div class="r" style="left:112.0px;top:611.0px;width:1.0px;height:31.0px;background:#3a3634;"></div>
<div class="r" style="left:112.0px;top:611.0px;width:22.0px;height:1.0px;background:#3a3634;"></div>
<div class="r" style="left:112.0px;top:641.0px;width:22.0px;height:1.0px;background:#3a3634;"></div>
<div class="r" style="left:112.0px;top:611.0px;width:1.0px;height:31.0px;background:#3a3634;"></div>
<div class="r" style="left:133.0px;top:611.0px;width:1.0px;height:31.0px;background:#3a3634;"></div>
<div class="r" style="left:133.0px;top:611.0px;width:22.0px;height:1.0px;background:#3a3634;"></div>
<div class="r" style="left:133.0px;top:641.0px;width:22.0px;height:1.0px;background:#3a3634;"></div>
<div class="r" style="left:133.0px;top:611.0px;width:1.0px;height:31.0px;background:#3a3634;"></div>
<div class="r" style="left:154.0px;top:611.0px;width:1.0px;height:31.0px;background:#3a3634;"></div>
<div class="r" style="left:154.0px;top:611.0px;width:26.0px;height:1.0px;background:#3a3634;"></div>
<div class="r" style="left:154.0px;top:641.0px;width:26.0px;height:1.0px;background:#3a3634;"></div>
<div class="r" style="left:154.0px;top:611.0px;width:1.0px;height:31.0px;background:#3a3634;"></div>
<div class="r" style="left:179.0px;top:611.0px;width:1.0px;height:31.0px;background:#3a3634;"></div>
<div class="r" style="left:179.0px;top:611.0px;width:40.0px;height:1.0px;background:#3a3634;"></div>
<div class="r" style="left:179.0px;top:641.0px;width:40.0px;height:1.0px;background:#3a3634;"></div>
<div class="r" style="left:179.0px;top:611.0px;width:1.0px;height:31.0px;background:#3a3634;"></div>
<div class="r" style="left:218.0px;top:611.0px;width:1.0px;height:31.0px;background:#3a3634;"></div>
<div class="r" style="left:218.0px;top:611.0px;width:26.0px;height:1.0px;background:#3a3634;"></div>
<div class="r" style="left:218.0px;top:641.0px;width:26.0px;height:1.0px;background:#3a3634;"></div>
<div class="r" style="left:218.0px;top:611.0px;width:1.0px;height:31.0px;background:#3a3634;"></div>
<div class="r" style="left:243.0px;top:611.0px;width:1.0px;height:31.0px;background:#3a3634;"></div>
<div class="r" style="left:243.0px;top:611.0px;width:159.0px;height:1.0px;background:#3a3634;"></div>
<div class="r" style="left:243.0px;top:626.0px;width:159.0px;height:1.0px;background:#3a3634;"></div>
<div class="r" style="left:243.0px;top:611.0px;width:1.0px;height:16.0px;background:#3a3634;"></div>
<div class="r" style="left:401.0px;top:611.0px;width:1.0px;height:16.0px;background:#3a3634;"></div>
<div class="r" style="left:243.0px;top:626.0px;width:30.0px;height:1.0px;background:#3a3634;"></div>
<div class="r" style="left:243.0px;top:641.0px;width:30.0px;height:1.0px;background:#3a3634;"></div>
<div class="r" style="left:243.0px;top:626.0px;width:1.0px;height:16.0px;background:#3a3634;"></div>
<div class="r" style="left:272.0px;top:626.0px;width:1.0px;height:16.0px;background:#3a3634;"></div>
<div class="r" style="left:272.0px;top:626.0px;width:76.0px;height:1.0px;background:#3a3634;"></div>
<div class="r" style="left:272.0px;top:641.0px;width:76.0px;height:1.0px;background:#3a3634;"></div>
<div class="r" style="left:272.0px;top:626.0px;width:1.0px;height:16.0px;background:#3a3634;"></div>
<div class="r" style="left:347.0px;top:626.0px;width:1.0px;height:16.0px;background:#3a3634;"></div>
<div class="r" style="left:347.0px;top:626.0px;width:55.0px;height:1.0px;background:#3a3634;"></div>
<div class="r" style="left:347.0px;top:641.0px;width:55.0px;height:1.0px;background:#3a3634;"></div>
<div class="r" style="left:347.0px;top:626.0px;width:1.0px;height:16.0px;background:#3a3634;"></div>
<div class="r" style="left:401.0px;top:626.0px;width:1.0px;height:16.0px;background:#3a3634;"></div>
<div class="r" style="left:401.0px;top:611.0px;width:31.0px;height:1.0px;background:#3a3634;"></div>
<div class="r" style="left:401.0px;top:641.0px;width:31.0px;height:1.0px;background:#3a3634;"></div>
<div class="r" style="left:401.0px;top:611.0px;width:1.0px;height:31.0px;background:#3a3634;"></div>
<div class="r" style="left:432.0px;top:611.0px;width:1.0px;height:31.0px;background:#3a3634;"></div>
<div class="r" style="left:432.0px;top:611.0px;width:21.0px;height:1.0px;background:#3a3634;"></div>
<div class="r" style="left:432.0px;top:641.0px;width:21.0px;height:1.0px;background:#3a3634;"></div>
<div class="r" style="left:432.0px;top:611.0px;width:1.0px;height:31.0px;background:#3a3634;"></div>
<div class="r" style="left:452.0px;top:611.0px;width:1.0px;height:31.0px;background:#3a3634;"></div>
<div class="r" style="left:452.0px;top:611.0px;width:50.0px;height:1.0px;background:#3a3634;"></div>
<div class="r" style="left:452.0px;top:626.0px;width:50.0px;height:1.0px;background:#3a3634;"></div>
<div class="r" style="left:452.0px;top:611.0px;width:1.0px;height:16.0px;background:#3a3634;"></div>
<div class="r" style="left:501.0px;top:611.0px;width:1.0px;height:16.0px;background:#3a3634;"></div>
<div class="r" style="left:501.0px;top:611.0px;width:51.0px;height:1.0px;background:#3a3634;"></div>
<div class="r" style="left:501.0px;top:626.0px;width:51.0px;height:1.0px;background:#3a3634;"></div>
<div class="r" style="left:501.0px;top:611.0px;width:1.0px;height:16.0px;background:#3a3634;"></div>
<div class="r" style="left:551.0px;top:611.0px;width:1.0px;height:16.0px;background:#3a3634;"></div>
<div class="r" style="left:452.0px;top:626.0px;width:26.0px;height:1.0px;background:#3a3634;"></div>
<div class="r" style="left:452.0px;top:641.0px;width:26.0px;height:1.0px;background:#3a3634;"></div>
<div class="r" style="left:452.0px;top:626.0px;width:1.0px;height:16.0px;background:#3a3634;"></div>
<div class="r" style="left:477.0px;top:626.0px;width:1.0px;height:16.0px;background:#3a3634;"></div>
<div class="r" style="left:477.0px;top:626.0px;width:25.0px;height:1.0px;background:#3a3634;"></div>
<div class="r" style="left:477.0px;top:641.0px;width:25.0px;height:1.0px;background:#3a3634;"></div>
<div class="r" style="left:477.0px;top:626.0px;width:1.0px;height:16.0px;background:#3a3634;"></div>
<div class="r" style="left:501.0px;top:626.0px;width:1.0px;height:16.0px;background:#3a3634;"></div>
<div class="r" style="left:501.0px;top:626.0px;width:26.0px;height:1.0px;background:#3a3634;"></div>
<div class="r" style="left:501.0px;top:641.0px;width:26.0px;height:1.0px;background:#3a3634;"></div>
<div class="r" style="left:501.0px;top:626.0px;width:1.0px;height:16.0px;background:#3a3634;"></div>
<div class="r" style="left:526.0px;top:626.0px;width:1.0px;height:16.0px;background:#3a3634;"></div>
<div class="r" style="left:526.0px;top:626.0px;width:26.0px;height:1.0px;background:#3a3634;"></div>
<div class="r" style="left:526.0px;top:641.0px;width:26.0px;height:1.0px;background:#3a3634;"></div>
<div class="r" style="left:526.0px;top:626.0px;width:1.0px;height:16.0px;background:#3a3634;"></div>
<div class="r" style="left:551.0px;top:626.0px;width:1.0px;height:16.0px;background:#3a3634;"></div>
<div class="r" style="left:551.0px;top:611.0px;width:22.0px;height:1.0px;background:#3a3634;"></div>
<div class="r" style="left:551.0px;top:641.0px;width:22.0px;height:1.0px;background:#3a3634;"></div>
<div class="r" style="left:551.0px;top:611.0px;width:1.0px;height:31.0px;background:#3a3634;"></div>
<div class="r" style="left:573.0px;top:611.0px;width:1.0px;height:31.0px;background:#3a3634;"></div>
<div class="r" style="left:573.0px;top:611.0px;width:24.0px;height:1.0px;background:#3a3634;"></div>
<div class="r" style="left:573.0px;top:641.0px;width:24.0px;height:1.0px;background:#3a3634;"></div>
<div class="r" style="left:573.0px;top:611.0px;width:1.0px;height:31.0px;background:#3a3634;"></div>
<div class="r" style="left:596.0px;top:611.0px;width:1.0px;height:31.0px;background:#3a3634;"></div>
<div class="r" style="left:596.0px;top:611.0px;width:23.0px;height:1.0px;background:#3a3634;"></div>
<div class="r" style="left:596.0px;top:641.0px;width:23.0px;height:1.0px;background:#3a3634;"></div>
<div class="r" style="left:596.0px;top:611.0px;width:1.0px;height:31.0px;background:#3a3634;"></div>
<div class="r" style="left:618.0px;top:611.0px;width:1.0px;height:31.0px;background:#3a3634;"></div>
<div class="r" style="left:618.0px;top:611.0px;width:23.0px;height:1.0px;background:#3a3634;"></div>
<div class="r" style="left:618.0px;top:641.0px;width:23.0px;height:1.0px;background:#3a3634;"></div>
<div class="r" style="left:618.0px;top:611.0px;width:1.0px;height:31.0px;background:#3a3634;"></div>
<div class="r" style="left:640.0px;top:611.0px;width:1.0px;height:31.0px;background:#3a3634;"></div>
<div class="r" style="left:640.0px;top:611.0px;width:25.0px;height:1.0px;background:#3a3634;"></div>
<div class="r" style="left:640.0px;top:641.0px;width:25.0px;height:1.0px;background:#3a3634;"></div>
<div class="r" style="left:640.0px;top:611.0px;width:1.0px;height:31.0px;background:#3a3634;"></div>
<div class="r" style="left:664.0px;top:611.0px;width:1.0px;height:31.0px;background:#3a3634;"></div>
<div class="r" style="left:664.0px;top:611.0px;width:51.0px;height:1.0px;background:#3a3634;"></div>
<div class="r" style="left:664.0px;top:641.0px;width:51.0px;height:1.0px;background:#3a3634;"></div>
<div class="r" style="left:664.0px;top:611.0px;width:1.0px;height:31.0px;background:#3a3634;"></div>
<div class="r" style="left:714.0px;top:611.0px;width:1.0px;height:31.0px;background:#3a3634;"></div>
<div class="r" style="left:714.0px;top:611.0px;width:23.0px;height:1.0px;background:#3a3634;"></div>
<div class="r" style="left:714.0px;top:641.0px;width:23.0px;height:1.0px;background:#3a3634;"></div>
<div class="r" style="left:714.0px;top:611.0px;width:1.0px;height:31.0px;background:#3a3634;"></div>
<div class="r" style="left:736.0px;top:611.0px;width:1.0px;height:31.0px;background:#3a3634;"></div>
<div class="r" style="left:736.0px;top:611.0px;width:23.0px;height:1.0px;background:#3a3634;"></div>
<div class="r" style="left:736.0px;top:641.0px;width:23.0px;height:1.0px;background:#3a3634;"></div>
<div class="r" style="left:736.0px;top:611.0px;width:1.0px;height:31.0px;background:#3a3634;"></div>
<div class="r" style="left:758.0px;top:611.0px;width:1.0px;height:31.0px;background:#3a3634;"></div>
<div class="r" style="left:758.0px;top:611.0px;width:24.0px;height:1.0px;background:#3a3634;"></div>
<div class="r" style="left:758.0px;top:641.0px;width:24.0px;height:1.0px;background:#3a3634;"></div>
<div class="r" style="left:758.0px;top:611.0px;width:1.0px;height:31.0px;background:#3a3634;"></div>
<div class="r" style="left:781.0px;top:611.0px;width:1.0px;height:31.0px;background:#3a3634;"></div>
<div class="r" style="left:781.0px;top:611.0px;width:23.0px;height:1.0px;background:#3a3634;"></div>
<div class="r" style="left:781.0px;top:641.0px;width:23.0px;height:1.0px;background:#3a3634;"></div>
<div class="r" style="left:781.0px;top:611.0px;width:1.0px;height:31.0px;background:#3a3634;"></div>
<div class="r" style="left:803.0px;top:611.0px;width:1.0px;height:31.0px;background:#3a3634;"></div>
<div class="r" style="left:803.0px;top:611.0px;width:23.0px;height:1.0px;background:#3a3634;"></div>
<div class="r" style="left:803.0px;top:641.0px;width:23.0px;height:1.0px;background:#3a3634;"></div>
<div class="r" style="left:803.0px;top:611.0px;width:1.0px;height:31.0px;background:#3a3634;"></div>
<div class="r" style="left:74.0px;top:641.0px;width:39.0px;height:1.0px;background:#3a3634;"></div>
<div class="r" style="left:74.0px;top:661.0px;width:39.0px;height:1.0px;background:#3a3634;"></div>
<div class="r" style="left:112.0px;top:641.0px;width:1.0px;height:21.0px;background:#3a3634;"></div>
<div class="r" style="left:74.0px;top:661.0px;width:39.0px;height:1.0px;background:#3a3634;"></div>
<div class="r" style="left:74.0px;top:681.0px;width:39.0px;height:1.0px;background:#3a3634;"></div>
<div class="r" style="left:112.0px;top:661.0px;width:1.0px;height:20.0px;background:#3a3634;"></div>
<div class="r" style="left:74.0px;top:681.0px;width:39.0px;height:1.0px;background:#3a3634;"></div>
<div class="r" style="left:74.0px;top:700.0px;width:39.0px;height:1.0px;background:#3a3634;"></div>
<div class="r" style="left:112.0px;top:681.0px;width:1.0px;height:20.0px;background:#3a3634;"></div>
<div class="r" style="left:74.0px;top:700.0px;width:39.0px;height:1.0px;background:#3a3634;"></div>
<div class="r" style="left:74.0px;top:720.0px;width:39.0px;height:1.0px;background:#3a3634;"></div>
<div class="r" style="left:112.0px;top:700.0px;width:1.0px;height:21.0px;background:#3a3634;"></div>
<div class="r" style="left:74.0px;top:720.0px;width:39.0px;height:1.0px;background:#3a3634;"></div>
<div class="r" style="left:74.0px;top:740.0px;width:39.0px;height:1.0px;background:#3a3634;"></div>
<div class="r" style="left:112.0px;top:720.0px;width:1.0px;height:21.0px;background:#3a3634;"></div>
<div class="r" style="left:74.0px;top:740.0px;width:39.0px;height:1.0px;background:#3a3634;"></div>
<div class="r" style="left:74.0px;top:760.0px;width:39.0px;height:1.0px;background:#3a3634;"></div>
<div class="r" style="left:112.0px;top:740.0px;width:1.0px;height:20.0px;background:#3a3634;"></div>
<div class="r" style="left:112.0px;top:641.0px;width:22.0px;height:1.0px;background:#3a3634;"></div>
<div class="r" style="left:112.0px;top:661.0px;width:22.0px;height:1.0px;background:#3a3634;"></div>
<div class="r" style="left:112.0px;top:641.0px;width:1.0px;height:21.0px;background:#3a3634;"></div>
<div class="r" style="left:133.0px;top:641.0px;width:1.0px;height:21.0px;background:#3a3634;"></div>
<div class="r" style="left:112.0px;top:661.0px;width:22.0px;height:1.0px;background:#3a3634;"></div>
<div class="r" style="left:112.0px;top:681.0px;width:22.0px;height:1.0px;background:#3a3634;"></div>
<div class="r" style="left:112.0px;top:661.0px;width:1.0px;height:20.0px;background:#3a3634;"></div>
<div class="r" style="left:133.0px;top:661.0px;width:1.0px;height:20.0px;background:#3a3634;"></div>
<div class="r" style="left:112.0px;top:681.0px;width:22.0px;height:1.0px;background:#3a3634;"></div>
<div class="r" style="left:112.0px;top:700.0px;width:22.0px;height:1.0px;background:#3a3634;"></div>
<div class="r" style="left:112.0px;top:681.0px;width:1.0px;height:20.0px;background:#3a3634;"></div>
<div class="r" style="left:133.0px;top:681.0px;width:1.0px;height:20.0px;background:#3a3634;"></div>
<div class="r" style="left:112.0px;top:700.0px;width:22.0px;height:1.0px;background:#3a3634;"></div>
<div class="r" style="left:112.0px;top:720.0px;width:22.0px;height:1.0px;background:#3a3634;"></div>
<div class="r" style="left:112.0px;top:700.0px;width:1.0px;height:21.0px;background:#3a3634;"></div>
<div class="r" style="left:133.0px;top:700.0px;width:1.0px;height:21.0px;background:#3a3634;"></div>
<div class="r" style="left:112.0px;top:720.0px;width:22.0px;height:1.0px;background:#3a3634;"></div>
<div class="r" style="left:112.0px;top:740.0px;width:22.0px;height:1.0px;background:#3a3634;"></div>
<div class="r" style="left:112.0px;top:720.0px;width:1.0px;height:21.0px;background:#3a3634;"></div>
<div class="r" style="left:133.0px;top:720.0px;width:1.0px;height:21.0px;background:#3a3634;"></div>
<div class="r" style="left:112.0px;top:740.0px;width:22.0px;height:1.0px;background:#3a3634;"></div>
<div class="r" style="left:112.0px;top:760.0px;width:22.0px;height:1.0px;background:#3a3634;"></div>
<div class="r" style="left:112.0px;top:740.0px;width:1.0px;height:20.0px;background:#3a3634;"></div>
<div class="r" style="left:133.0px;top:740.0px;width:1.0px;height:20.0px;background:#3a3634;"></div>
<div class="r" style="left:133.0px;top:641.0px;width:22.0px;height:1.0px;background:#3a3634;"></div>
<div class="r" style="left:133.0px;top:661.0px;width:22.0px;height:1.0px;background:#3a3634;"></div>
<div class="r" style="left:133.0px;top:641.0px;width:1.0px;height:21.0px;background:#3a3634;"></div>
<div class="r" style="left:154.0px;top:641.0px;width:1.0px;height:21.0px;background:#3a3634;"></div>
<div class="r" style="left:133.0px;top:661.0px;width:22.0px;height:1.0px;background:#3a3634;"></div>
<div class="r" style="left:133.0px;top:681.0px;width:22.0px;height:1.0px;background:#3a3634;"></div>
<div class="r" style="left:133.0px;top:661.0px;width:1.0px;height:20.0px;background:#3a3634;"></div>
<div class="r" style="left:154.0px;top:661.0px;width:1.0px;height:20.0px;background:#3a3634;"></div>
<div class="r" style="left:133.0px;top:681.0px;width:22.0px;height:1.0px;background:#3a3634;"></div>
<div class="r" style="left:133.0px;top:700.0px;width:22.0px;height:1.0px;background:#3a3634;"></div>
<div class="r" style="left:133.0px;top:681.0px;width:1.0px;height:20.0px;background:#3a3634;"></div>
<div class="r" style="left:154.0px;top:681.0px;width:1.0px;height:20.0px;background:#3a3634;"></div>
<div class="r" style="left:133.0px;top:700.0px;width:22.0px;height:1.0px;background:#3a3634;"></div>
<div class="r" style="left:133.0px;top:720.0px;width:22.0px;height:1.0px;background:#3a3634;"></div>
<div class="r" style="left:133.0px;top:700.0px;width:1.0px;height:21.0px;background:#3a3634;"></div>
<div class="r" style="left:154.0px;top:700.0px;width:1.0px;height:21.0px;background:#3a3634;"></div>
<div class="r" style="left:133.0px;top:720.0px;width:22.0px;height:1.0px;background:#3a3634;"></div>
<div class="r" style="left:133.0px;top:740.0px;width:22.0px;height:1.0px;background:#3a3634;"></div>
<div class="r" style="left:133.0px;top:720.0px;width:1.0px;height:21.0px;background:#3a3634;"></div>
<div class="r" style="left:154.0px;top:720.0px;width:1.0px;height:21.0px;background:#3a3634;"></div>
<div class="r" style="left:133.0px;top:740.0px;width:22.0px;height:1.0px;background:#3a3634;"></div>
<div class="r" style="left:133.0px;top:760.0px;width:22.0px;height:1.0px;background:#3a3634;"></div>
<div class="r" style="left:133.0px;top:740.0px;width:1.0px;height:20.0px;background:#3a3634;"></div>
<div class="r" style="left:154.0px;top:740.0px;width:1.0px;height:20.0px;background:#3a3634;"></div>
<div class="r" style="left:154.0px;top:641.0px;width:26.0px;height:1.0px;background:#3a3634;"></div>
<div class="r" style="left:154.0px;top:681.0px;width:26.0px;height:1.0px;background:#3a3634;"></div>
<div class="r" style="left:154.0px;top:641.0px;width:1.0px;height:40.0px;background:#3a3634;"></div>
<div class="r" style="left:179.0px;top:641.0px;width:1.0px;height:40.0px;background:#3a3634;"></div>
<div class="r" style="left:154.0px;top:681.0px;width:26.0px;height:1.0px;background:#3a3634;"></div>
<div class="r" style="left:154.0px;top:700.0px;width:26.0px;height:1.0px;background:#3a3634;"></div>
<div class="r" style="left:154.0px;top:681.0px;width:1.0px;height:20.0px;background:#3a3634;"></div>
<div class="r" style="left:179.0px;top:681.0px;width:1.0px;height:20.0px;background:#3a3634;"></div>
<div class="r" style="left:154.0px;top:700.0px;width:26.0px;height:1.0px;background:#3a3634;"></div>
<div class="r" style="left:154.0px;top:720.0px;width:26.0px;height:1.0px;background:#3a3634;"></div>
<div class="r" style="left:154.0px;top:700.0px;width:1.0px;height:21.0px;background:#3a3634;"></div>
<div class="r" style="left:179.0px;top:700.0px;width:1.0px;height:21.0px;background:#3a3634;"></div>
<div class="r" style="left:154.0px;top:720.0px;width:26.0px;height:1.0px;background:#3a3634;"></div>
<div class="r" style="left:154.0px;top:740.0px;width:26.0px;height:1.0px;background:#3a3634;"></div>
<div class="r" style="left:154.0px;top:720.0px;width:1.0px;height:21.0px;background:#3a3634;"></div>
<div class="r" style="left:179.0px;top:720.0px;width:1.0px;height:21.0px;background:#3a3634;"></div>
<div class="r" style="left:154.0px;top:740.0px;width:26.0px;height:1.0px;background:#3a3634;"></div>
<div class="r" style="left:154.0px;top:760.0px;width:26.0px;height:1.0px;background:#3a3634;"></div>
<div class="r" style="left:154.0px;top:740.0px;width:1.0px;height:20.0px;background:#3a3634;"></div>
<div class="r" style="left:179.0px;top:740.0px;width:1.0px;height:20.0px;background:#3a3634;"></div>
<div class="r" style="left:179.0px;top:641.0px;width:40.0px;height:1.0px;background:#3a3634;"></div>
<div class="r" style="left:179.0px;top:681.0px;width:40.0px;height:1.0px;background:#3a3634;"></div>
<div class="r" style="left:179.0px;top:641.0px;width:1.0px;height:40.0px;background:#3a3634;"></div>
<div class="r" style="left:218.0px;top:641.0px;width:1.0px;height:40.0px;background:#3a3634;"></div>
<div class="r" style="left:179.0px;top:681.0px;width:40.0px;height:1.0px;background:#3a3634;"></div>
<div class="r" style="left:179.0px;top:720.0px;width:40.0px;height:1.0px;background:#3a3634;"></div>
<div class="r" style="left:179.0px;top:681.0px;width:1.0px;height:40.0px;background:#3a3634;"></div>
<div class="r" style="left:218.0px;top:681.0px;width:1.0px;height:40.0px;background:#3a3634;"></div>
<div class="r" style="left:179.0px;top:720.0px;width:40.0px;height:1.0px;background:#3a3634;"></div>
<div class="r" style="left:179.0px;top:760.0px;width:40.0px;height:1.0px;background:#3a3634;"></div>
<div class="r" style="left:179.0px;top:720.0px;width:1.0px;height:40.0px;background:#3a3634;"></div>
<div class="r" style="left:218.0px;top:720.0px;width:1.0px;height:40.0px;background:#3a3634;"></div>
<div class="r" style="left:218.0px;top:641.0px;width:26.0px;height:1.0px;background:#3a3634;"></div>
<div class="r" style="left:218.0px;top:681.0px;width:26.0px;height:1.0px;background:#3a3634;"></div>
<div class="r" style="left:218.0px;top:641.0px;width:1.0px;height:40.0px;background:#3a3634;"></div>
<div class="r" style="left:243.0px;top:641.0px;width:1.0px;height:40.0px;background:#3a3634;"></div>
<div class="r" style="left:218.0px;top:681.0px;width:26.0px;height:1.0px;background:#3a3634;"></div>
<div class="r" style="left:218.0px;top:720.0px;width:26.0px;height:1.0px;background:#3a3634;"></div>
<div class="r" style="left:218.0px;top:681.0px;width:1.0px;height:40.0px;background:#3a3634;"></div>
<div class="r" style="left:243.0px;top:681.0px;width:1.0px;height:40.0px;background:#3a3634;"></div>
<div class="r" style="left:218.0px;top:720.0px;width:26.0px;height:1.0px;background:#3a3634;"></div>
<div class="r" style="left:218.0px;top:740.0px;width:26.0px;height:1.0px;background:#3a3634;"></div>
<div class="r" style="left:218.0px;top:720.0px;width:1.0px;height:21.0px;background:#3a3634;"></div>
<div class="r" style="left:243.0px;top:720.0px;width:1.0px;height:21.0px;background:#3a3634;"></div>
<div class="r" style="left:218.0px;top:740.0px;width:26.0px;height:1.0px;background:#3a3634;"></div>
<div class="r" style="left:218.0px;top:760.0px;width:26.0px;height:1.0px;background:#3a3634;"></div>
<div class="r" style="left:218.0px;top:740.0px;width:1.0px;height:20.0px;background:#3a3634;"></div>
<div class="r" style="left:243.0px;top:740.0px;width:1.0px;height:20.0px;background:#3a3634;"></div>
<div class="r" style="left:243.0px;top:641.0px;width:30.0px;height:1.0px;background:#3a3634;"></div>
<div class="r" style="left:243.0px;top:661.0px;width:30.0px;height:1.0px;background:#3a3634;"></div>
<div class="r" style="left:243.0px;top:641.0px;width:1.0px;height:21.0px;background:#3a3634;"></div>
<div class="r" style="left:272.0px;top:641.0px;width:1.0px;height:21.0px;background:#3a3634;"></div>
<div class="r" style="left:243.0px;top:661.0px;width:30.0px;height:1.0px;background:#3a3634;"></div>
<div class="r" style="left:243.0px;top:700.0px;width:30.0px;height:1.0px;background:#3a3634;"></div>
<div class="r" style="left:243.0px;top:661.0px;width:1.0px;height:40.0px;background:#3a3634;"></div>
<div class="r" style="left:272.0px;top:661.0px;width:1.0px;height:40.0px;background:#3a3634;"></div>
<div class="r" style="left:243.0px;top:700.0px;width:30.0px;height:1.0px;background:#3a3634;"></div>
<div class="r" style="left:243.0px;top:760.0px;width:30.0px;height:1.0px;background:#3a3634;"></div>
<div class="r" style="left:243.0px;top:700.0px;width:1.0px;height:60.0px;background:#3a3634;"></div>
<div class="r" style="left:272.0px;top:700.0px;width:1.0px;height:60.0px;background:#3a3634;"></div>
<div class="r" style="left:272.0px;top:641.0px;width:76.0px;height:1.0px;background:#3a3634;"></div>
<div class="r" style="left:272.0px;top:661.0px;width:76.0px;height:1.0px;background:#3a3634;"></div>
<div class="r" style="left:272.0px;top:641.0px;width:1.0px;height:21.0px;background:#3a3634;"></div>
<div class="r" style="left:347.0px;top:641.0px;width:1.0px;height:21.0px;background:#3a3634;"></div>
<div class="r" style="left:272.0px;top:661.0px;width:76.0px;height:1.0px;background:#3a3634;"></div>
<div class="r" style="left:272.0px;top:700.0px;width:76.0px;height:1.0px;background:#3a3634;"></div>
<div class="r" style="left:272.0px;top:661.0px;width:1.0px;height:40.0px;background:#3a3634;"></div>
<div class="r" style="left:347.0px;top:661.0px;width:1.0px;height:40.0px;background:#3a3634;"></div>
<div class="r" style="left:272.0px;top:700.0px;width:76.0px;height:1.0px;background:#3a3634;"></div>
<div class="r" style="left:272.0px;top:720.0px;width:76.0px;height:1.0px;background:#3a3634;"></div>
<div class="r" style="left:272.0px;top:700.0px;width:1.0px;height:21.0px;background:#3a3634;"></div>
<div class="r" style="left:347.0px;top:700.0px;width:1.0px;height:21.0px;background:#3a3634;"></div>
<div class="r" style="left:272.0px;top:720.0px;width:76.0px;height:1.0px;background:#3a3634;"></div>
<div class="r" style="left:272.0px;top:760.0px;width:76.0px;height:1.0px;background:#3a3634;"></div>
<div class="r" style="left:272.0px;top:720.0px;width:1.0px;height:40.0px;background:#3a3634;"></div>
<div class="r" style="left:347.0px;top:720.0px;width:1.0px;height:40.0px;background:#3a3634;"></div>
<div class="r" style="left:347.0px;top:641.0px;width:55.0px;height:1.0px;background:#3a3634;"></div>
<div class="r" style="left:347.0px;top:661.0px;width:55.0px;height:1.0px;background:#3a3634;"></div>
<div class="r" style="left:347.0px;top:641.0px;width:1.0px;height:21.0px;background:#3a3634;"></div>
<div class="r" style="left:401.0px;top:641.0px;width:1.0px;height:21.0px;background:#3a3634;"></div>
<div class="r" style="left:347.0px;top:661.0px;width:55.0px;height:1.0px;background:#3a3634;"></div>
<div class="r" style="left:347.0px;top:700.0px;width:55.0px;height:1.0px;background:#3a3634;"></div>
<div class="r" style="left:347.0px;top:661.0px;width:1.0px;height:40.0px;background:#3a3634;"></div>
<div class="r" style="left:401.0px;top:661.0px;width:1.0px;height:40.0px;background:#3a3634;"></div>
<div class="r" style="left:347.0px;top:700.0px;width:55.0px;height:1.0px;background:#3a3634;"></div>
<div class="r" style="left:347.0px;top:720.0px;width:55.0px;height:1.0px;background:#3a3634;"></div>
<div class="r" style="left:347.0px;top:700.0px;width:1.0px;height:21.0px;background:#3a3634;"></div>
<div class="r" style="left:401.0px;top:700.0px;width:1.0px;height:21.0px;background:#3a3634;"></div>
<div class="r" style="left:347.0px;top:720.0px;width:55.0px;height:1.0px;background:#3a3634;"></div>
<div class="r" style="left:347.0px;top:760.0px;width:55.0px;height:1.0px;background:#3a3634;"></div>
<div class="r" style="left:347.0px;top:720.0px;width:1.0px;height:40.0px;background:#3a3634;"></div>
<div class="r" style="left:401.0px;top:720.0px;width:1.0px;height:40.0px;background:#3a3634;"></div>
<div class="r" style="left:401.0px;top:641.0px;width:31.0px;height:1.0px;background:#3a3634;"></div>
<div class="r" style="left:401.0px;top:661.0px;width:31.0px;height:1.0px;background:#3a3634;"></div>
<div class="r" style="left:401.0px;top:641.0px;width:1.0px;height:21.0px;background:#3a3634;"></div>
<div class="r" style="left:432.0px;top:641.0px;width:1.0px;height:21.0px;background:#3a3634;"></div>
<div class="r" style="left:401.0px;top:661.0px;width:31.0px;height:1.0px;background:#3a3634;"></div>
<div class="r" style="left:401.0px;top:681.0px;width:31.0px;height:1.0px;background:#3a3634;"></div>
<div class="r" style="left:401.0px;top:661.0px;width:1.0px;height:20.0px;background:#3a3634;"></div>
<div class="r" style="left:432.0px;top:661.0px;width:1.0px;height:20.0px;background:#3a3634;"></div>
<div class="r" style="left:401.0px;top:681.0px;width:31.0px;height:1.0px;background:#3a3634;"></div>
<div class="r" style="left:401.0px;top:700.0px;width:31.0px;height:1.0px;background:#3a3634;"></div>
<div class="r" style="left:401.0px;top:681.0px;width:1.0px;height:20.0px;background:#3a3634;"></div>
<div class="r" style="left:432.0px;top:681.0px;width:1.0px;height:20.0px;background:#3a3634;"></div>
<div class="r" style="left:401.0px;top:700.0px;width:31.0px;height:1.0px;background:#3a3634;"></div>
<div class="r" style="left:401.0px;top:720.0px;width:31.0px;height:1.0px;background:#3a3634;"></div>
<div class="r" style="left:401.0px;top:700.0px;width:1.0px;height:21.0px;background:#3a3634;"></div>
<div class="r" style="left:432.0px;top:700.0px;width:1.0px;height:21.0px;background:#3a3634;"></div>
<div class="r" style="left:401.0px;top:720.0px;width:31.0px;height:1.0px;background:#3a3634;"></div>
<div class="r" style="left:401.0px;top:740.0px;width:31.0px;height:1.0px;background:#3a3634;"></div>
<div class="r" style="left:401.0px;top:720.0px;width:1.0px;height:21.0px;background:#3a3634;"></div>
<div class="r" style="left:432.0px;top:720.0px;width:1.0px;height:21.0px;background:#3a3634;"></div>
<div class="r" style="left:401.0px;top:740.0px;width:31.0px;height:1.0px;background:#3a3634;"></div>
<div class="r" style="left:401.0px;top:760.0px;width:31.0px;height:1.0px;background:#3a3634;"></div>
<div class="r" style="left:401.0px;top:740.0px;width:1.0px;height:20.0px;background:#3a3634;"></div>
<div class="r" style="left:432.0px;top:740.0px;width:1.0px;height:20.0px;background:#3a3634;"></div>
<div class="r" style="left:432.0px;top:641.0px;width:21.0px;height:1.0px;background:#3a3634;"></div>
<div class="r" style="left:432.0px;top:661.0px;width:21.0px;height:1.0px;background:#3a3634;"></div>
<div class="r" style="left:432.0px;top:641.0px;width:1.0px;height:21.0px;background:#3a3634;"></div>
<div class="r" style="left:452.0px;top:641.0px;width:1.0px;height:21.0px;background:#3a3634;"></div>
<div class="r" style="left:432.0px;top:661.0px;width:21.0px;height:1.0px;background:#3a3634;"></div>
<div class="r" style="left:432.0px;top:681.0px;width:21.0px;height:1.0px;background:#3a3634;"></div>
<div class="r" style="left:432.0px;top:661.0px;width:1.0px;height:20.0px;background:#3a3634;"></div>
<div class="r" style="left:452.0px;top:661.0px;width:1.0px;height:20.0px;background:#3a3634;"></div>
<div class="r" style="left:432.0px;top:681.0px;width:21.0px;height:1.0px;background:#3a3634;"></div>
<div class="r" style="left:432.0px;top:720.0px;width:21.0px;height:1.0px;background:#3a3634;"></div>
<div class="r" style="left:432.0px;top:681.0px;width:1.0px;height:40.0px;background:#3a3634;"></div>
<div class="r" style="left:452.0px;top:681.0px;width:1.0px;height:40.0px;background:#3a3634;"></div>
<div class="r" style="left:432.0px;top:720.0px;width:21.0px;height:1.0px;background:#3a3634;"></div>
<div class="r" style="left:432.0px;top:740.0px;width:21.0px;height:1.0px;background:#3a3634;"></div>
<div class="r" style="left:432.0px;top:720.0px;width:1.0px;height:21.0px;background:#3a3634;"></div>
<div class="r" style="left:452.0px;top:720.0px;width:1.0px;height:21.0px;background:#3a3634;"></div>
<div class="r" style="left:432.0px;top:740.0px;width:21.0px;height:1.0px;background:#3a3634;"></div>
<div class="r" style="left:432.0px;top:760.0px;width:21.0px;height:1.0px;background:#3a3634;"></div>
<div class="r" style="left:432.0px;top:740.0px;width:1.0px;height:20.0px;background:#3a3634;"></div>
<div class="r" style="left:452.0px;top:740.0px;width:1.0px;height:20.0px;background:#3a3634;"></div>
<div class="r" style="left:452.0px;top:641.0px;width:26.0px;height:1.0px;background:#3a3634;"></div>
<div class="r" style="left:452.0px;top:661.0px;width:26.0px;height:1.0px;background:#3a3634;"></div>
<div class="r" style="left:452.0px;top:641.0px;width:1.0px;height:21.0px;background:#3a3634;"></div>
<div class="r" style="left:477.0px;top:641.0px;width:1.0px;height:21.0px;background:#3a3634;"></div>
<div class="r" style="left:452.0px;top:661.0px;width:26.0px;height:1.0px;background:#3a3634;"></div>
<div class="r" style="left:452.0px;top:681.0px;width:26.0px;height:1.0px;background:#3a3634;"></div>
<div class="r" style="left:452.0px;top:661.0px;width:1.0px;height:20.0px;background:#3a3634;"></div>
<div class="r" style="left:477.0px;top:661.0px;width:1.0px;height:20.0px;background:#3a3634;"></div>
<div class="r" style="left:452.0px;top:681.0px;width:26.0px;height:1.0px;background:#3a3634;"></div>
<div class="r" style="left:452.0px;top:700.0px;width:26.0px;height:1.0px;background:#3a3634;"></div>
<div class="r" style="left:452.0px;top:681.0px;width:1.0px;height:20.0px;background:#3a3634;"></div>
<div class="r" style="left:477.0px;top:681.0px;width:1.0px;height:20.0px;background:#3a3634;"></div>
<div class="r" style="left:452.0px;top:700.0px;width:26.0px;height:1.0px;background:#3a3634;"></div>
<div class="r" style="left:452.0px;top:720.0px;width:26.0px;height:1.0px;background:#3a3634;"></div>
<div class="r" style="left:452.0px;top:700.0px;width:1.0px;height:21.0px;background:#3a3634;"></div>
<div class="r" style="left:477.0px;top:700.0px;width:1.0px;height:21.0px;background:#3a3634;"></div>
<div class="r" style="left:452.0px;top:720.0px;width:26.0px;height:1.0px;background:#3a3634;"></div>
<div class="r" style="left:452.0px;top:740.0px;width:26.0px;height:1.0px;background:#3a3634;"></div>
<div class="r" style="left:452.0px;top:720.0px;width:1.0px;height:21.0px;background:#3a3634;"></div>
<div class="r" style="left:477.0px;top:720.0px;width:1.0px;height:21.0px;background:#3a3634;"></div>
<div class="r" style="left:452.0px;top:740.0px;width:26.0px;height:1.0px;background:#3a3634;"></div>
<div class="r" style="left:452.0px;top:760.0px;width:26.0px;height:1.0px;background:#3a3634;"></div>
<div class="r" style="left:452.0px;top:740.0px;width:1.0px;height:20.0px;background:#3a3634;"></div>
<div class="r" style="left:477.0px;top:740.0px;width:1.0px;height:20.0px;background:#3a3634;"></div>
<div class="r" style="left:477.0px;top:641.0px;width:25.0px;height:1.0px;background:#3a3634;"></div>
<div class="r" style="left:477.0px;top:661.0px;width:25.0px;height:1.0px;background:#3a3634;"></div>
<div class="r" style="left:477.0px;top:641.0px;width:1.0px;height:21.0px;background:#3a3634;"></div>
<div class="r" style="left:501.0px;top:641.0px;width:1.0px;height:21.0px;background:#3a3634;"></div>
<div class="r" style="left:477.0px;top:661.0px;width:25.0px;height:1.0px;background:#3a3634;"></div>
<div class="r" style="left:477.0px;top:681.0px;width:25.0px;height:1.0px;background:#3a3634;"></div>
<div class="r" style="left:477.0px;top:661.0px;width:1.0px;height:20.0px;background:#3a3634;"></div>
<div class="r" style="left:501.0px;top:661.0px;width:1.0px;height:20.0px;background:#3a3634;"></div>
<div class="r" style="left:477.0px;top:681.0px;width:25.0px;height:1.0px;background:#3a3634;"></div>
<div class="r" style="left:477.0px;top:700.0px;width:25.0px;height:1.0px;background:#3a3634;"></div>
<div class="r" style="left:477.0px;top:681.0px;width:1.0px;height:20.0px;background:#3a3634;"></div>
<div class="r" style="left:501.0px;top:681.0px;width:1.0px;height:20.0px;background:#3a3634;"></div>
<div class="r" style="left:477.0px;top:700.0px;width:25.0px;height:1.0px;background:#3a3634;"></div>
<div class="r" style="left:477.0px;top:720.0px;width:25.0px;height:1.0px;background:#3a3634;"></div>
<div class="r" style="left:477.0px;top:700.0px;width:1.0px;height:21.0px;background:#3a3634;"></div>
<div class="r" style="left:501.0px;top:700.0px;width:1.0px;height:21.0px;background:#3a3634;"></div>
<div class="r" style="left:477.0px;top:720.0px;width:25.0px;height:1.0px;background:#3a3634;"></div>
<div class="r" style="left:477.0px;top:740.0px;width:25.0px;height:1.0px;background:#3a3634;"></div>
<div class="r" style="left:477.0px;top:720.0px;width:1.0px;height:21.0px;background:#3a3634;"></div>
<div class="r" style="left:501.0px;top:720.0px;width:1.0px;height:21.0px;background:#3a3634;"></div>
<div class="r" style="left:477.0px;top:740.0px;width:25.0px;height:1.0px;background:#3a3634;"></div>
<div class="r" style="left:477.0px;top:760.0px;width:25.0px;height:1.0px;background:#3a3634;"></div>
<div class="r" style="left:477.0px;top:740.0px;width:1.0px;height:20.0px;background:#3a3634;"></div>
<div class="r" style="left:501.0px;top:740.0px;width:1.0px;height:20.0px;background:#3a3634;"></div>
<div class="r" style="left:501.0px;top:641.0px;width:26.0px;height:1.0px;background:#3a3634;"></div>
<div class="r" style="left:501.0px;top:661.0px;width:26.0px;height:1.0px;background:#3a3634;"></div>
<div class="r" style="left:501.0px;top:641.0px;width:1.0px;height:21.0px;background:#3a3634;"></div>
<div class="r" style="left:526.0px;top:641.0px;width:1.0px;height:21.0px;background:#3a3634;"></div>
<div class="r" style="left:501.0px;top:661.0px;width:26.0px;height:1.0px;background:#3a3634;"></div>
<div class="r" style="left:501.0px;top:681.0px;width:26.0px;height:1.0px;background:#3a3634;"></div>
<div class="r" style="left:501.0px;top:661.0px;width:1.0px;height:20.0px;background:#3a3634;"></div>
<div class="r" style="left:526.0px;top:661.0px;width:1.0px;height:20.0px;background:#3a3634;"></div>
<div class="r" style="left:501.0px;top:681.0px;width:26.0px;height:1.0px;background:#3a3634;"></div>
<div class="r" style="left:501.0px;top:700.0px;width:26.0px;height:1.0px;background:#3a3634;"></div>
<div class="r" style="left:501.0px;top:681.0px;width:1.0px;height:20.0px;background:#3a3634;"></div>
<div class="r" style="left:526.0px;top:681.0px;width:1.0px;height:20.0px;background:#3a3634;"></div>
<div class="r" style="left:501.0px;top:700.0px;width:26.0px;height:1.0px;background:#3a3634;"></div>
<div class="r" style="left:501.0px;top:720.0px;width:26.0px;height:1.0px;background:#3a3634;"></div>
<div class="r" style="left:501.0px;top:700.0px;width:1.0px;height:21.0px;background:#3a3634;"></div>
<div class="r" style="left:526.0px;top:700.0px;width:1.0px;height:21.0px;background:#3a3634;"></div>
<div class="r" style="left:501.0px;top:720.0px;width:26.0px;height:1.0px;background:#3a3634;"></div>
<div class="r" style="left:501.0px;top:740.0px;width:26.0px;height:1.0px;background:#3a3634;"></div>
<div class="r" style="left:501.0px;top:720.0px;width:1.0px;height:21.0px;background:#3a3634;"></div>
<div class="r" style="left:526.0px;top:720.0px;width:1.0px;height:21.0px;background:#3a3634;"></div>
<div class="r" style="left:501.0px;top:740.0px;width:26.0px;height:1.0px;background:#3a3634;"></div>
<div class="r" style="left:501.0px;top:760.0px;width:26.0px;height:1.0px;background:#3a3634;"></div>
<div class="r" style="left:501.0px;top:740.0px;width:1.0px;height:20.0px;background:#3a3634;"></div>
<div class="r" style="left:526.0px;top:740.0px;width:1.0px;height:20.0px;background:#3a3634;"></div>
<div class="r" style="left:526.0px;top:641.0px;width:26.0px;height:1.0px;background:#3a3634;"></div>
<div class="r" style="left:526.0px;top:661.0px;width:26.0px;height:1.0px;background:#3a3634;"></div>
<div class="r" style="left:526.0px;top:641.0px;width:1.0px;height:21.0px;background:#3a3634;"></div>
<div class="r" style="left:551.0px;top:641.0px;width:1.0px;height:21.0px;background:#3a3634;"></div>
<div class="r" style="left:526.0px;top:661.0px;width:26.0px;height:1.0px;background:#3a3634;"></div>
<div class="r" style="left:526.0px;top:681.0px;width:26.0px;height:1.0px;background:#3a3634;"></div>
<div class="r" style="left:526.0px;top:661.0px;width:1.0px;height:20.0px;background:#3a3634;"></div>
<div class="r" style="left:551.0px;top:661.0px;width:1.0px;height:20.0px;background:#3a3634;"></div>
<div class="r" style="left:526.0px;top:681.0px;width:26.0px;height:1.0px;background:#3a3634;"></div>
<div class="r" style="left:526.0px;top:700.0px;width:26.0px;height:1.0px;background:#3a3634;"></div>
<div class="r" style="left:526.0px;top:681.0px;width:1.0px;height:20.0px;background:#3a3634;"></div>
<div class="r" style="left:551.0px;top:681.0px;width:1.0px;height:20.0px;background:#3a3634;"></div>
<div class="r" style="left:526.0px;top:700.0px;width:26.0px;height:1.0px;background:#3a3634;"></div>
<div class="r" style="left:526.0px;top:720.0px;width:26.0px;height:1.0px;background:#3a3634;"></div>
<div class="r" style="left:526.0px;top:700.0px;width:1.0px;height:21.0px;background:#3a3634;"></div>
<div class="r" style="left:551.0px;top:700.0px;width:1.0px;height:21.0px;background:#3a3634;"></div>
<div class="r" style="left:526.0px;top:720.0px;width:26.0px;height:1.0px;background:#3a3634;"></div>
<div class="r" style="left:526.0px;top:740.0px;width:26.0px;height:1.0px;background:#3a3634;"></div>
<div class="r" style="left:526.0px;top:720.0px;width:1.0px;height:21.0px;background:#3a3634;"></div>
<div class="r" style="left:551.0px;top:720.0px;width:1.0px;height:21.0px;background:#3a3634;"></div>
<div class="r" style="left:526.0px;top:740.0px;width:26.0px;height:1.0px;background:#3a3634;"></div>
<div class="r" style="left:526.0px;top:760.0px;width:26.0px;height:1.0px;background:#3a3634;"></div>
<div class="r" style="left:526.0px;top:740.0px;width:1.0px;height:20.0px;background:#3a3634;"></div>
<div class="r" style="left:551.0px;top:740.0px;width:1.0px;height:20.0px;background:#3a3634;"></div>
<div class="r" style="left:551.0px;top:641.0px;width:22.0px;height:1.0px;background:#3a3634;"></div>
<div class="r" style="left:551.0px;top:661.0px;width:22.0px;height:1.0px;background:#3a3634;"></div>
<div class="r" style="left:551.0px;top:641.0px;width:1.0px;height:21.0px;background:#3a3634;"></div>
<div class="r" style="left:573.0px;top:641.0px;width:1.0px;height:21.0px;background:#3a3634;"></div>
<div class="r" style="left:551.0px;top:661.0px;width:22.0px;height:1.0px;background:#3a3634;"></div>
<div class="r" style="left:551.0px;top:681.0px;width:22.0px;height:1.0px;background:#3a3634;"></div>
<div class="r" style="left:551.0px;top:661.0px;width:1.0px;height:20.0px;background:#3a3634;"></div>
<div class="r" style="left:573.0px;top:661.0px;width:1.0px;height:20.0px;background:#3a3634;"></div>
<div class="r" style="left:551.0px;top:681.0px;width:22.0px;height:1.0px;background:#3a3634;"></div>
<div class="r" style="left:551.0px;top:700.0px;width:22.0px;height:1.0px;background:#3a3634;"></div>
<div class="r" style="left:551.0px;top:681.0px;width:1.0px;height:20.0px;background:#3a3634;"></div>
<div class="r" style="left:573.0px;top:681.0px;width:1.0px;height:20.0px;background:#3a3634;"></div>
<div class="r" style="left:551.0px;top:700.0px;width:22.0px;height:1.0px;background:#3a3634;"></div>
<div class="r" style="left:551.0px;top:720.0px;width:22.0px;height:1.0px;background:#3a3634;"></div>
<div class="r" style="left:551.0px;top:700.0px;width:1.0px;height:21.0px;background:#3a3634;"></div>
<div class="r" style="left:573.0px;top:700.0px;width:1.0px;height:21.0px;background:#3a3634;"></div>
<div class="r" style="left:551.0px;top:720.0px;width:22.0px;height:1.0px;background:#3a3634;"></div>
<div class="r" style="left:551.0px;top:740.0px;width:22.0px;height:1.0px;background:#3a3634;"></div>
<div class="r" style="left:551.0px;top:720.0px;width:1.0px;height:21.0px;background:#3a3634;"></div>
<div class="r" style="left:573.0px;top:720.0px;width:1.0px;height:21.0px;background:#3a3634;"></div>
<div class="r" style="left:551.0px;top:740.0px;width:22.0px;height:1.0px;background:#3a3634;"></div>
<div class="r" style="left:551.0px;top:760.0px;width:22.0px;height:1.0px;background:#3a3634;"></div>
<div class="r" style="left:551.0px;top:740.0px;width:1.0px;height:20.0px;background:#3a3634;"></div>
<div class="r" style="left:573.0px;top:740.0px;width:1.0px;height:20.0px;background:#3a3634;"></div>
<div class="r" style="left:573.0px;top:641.0px;width:24.0px;height:1.0px;background:#3a3634;"></div>
<div class="r" style="left:573.0px;top:661.0px;width:24.0px;height:1.0px;background:#3a3634;"></div>
<div class="r" style="left:573.0px;top:641.0px;width:1.0px;height:21.0px;background:#3a3634;"></div>
<div class="r" style="left:596.0px;top:641.0px;width:1.0px;height:21.0px;background:#3a3634;"></div>
<div class="r" style="left:573.0px;top:661.0px;width:24.0px;height:1.0px;background:#3a3634;"></div>
<div class="r" style="left:573.0px;top:681.0px;width:24.0px;height:1.0px;background:#3a3634;"></div>
<div class="r" style="left:573.0px;top:661.0px;width:1.0px;height:20.0px;background:#3a3634;"></div>
<div class="r" style="left:596.0px;top:661.0px;width:1.0px;height:20.0px;background:#3a3634;"></div>
<div class="r" style="left:573.0px;top:681.0px;width:24.0px;height:1.0px;background:#3a3634;"></div>
<div class="r" style="left:573.0px;top:700.0px;width:24.0px;height:1.0px;background:#3a3634;"></div>
<div class="r" style="left:573.0px;top:681.0px;width:1.0px;height:20.0px;background:#3a3634;"></div>
<div class="r" style="left:596.0px;top:681.0px;width:1.0px;height:20.0px;background:#3a3634;"></div>
<div class="r" style="left:573.0px;top:700.0px;width:24.0px;height:1.0px;background:#3a3634;"></div>
<div class="r" style="left:573.0px;top:720.0px;width:24.0px;height:1.0px;background:#3a3634;"></div>
<div class="r" style="left:573.0px;top:700.0px;width:1.0px;height:21.0px;background:#3a3634;"></div>
<div class="r" style="left:596.0px;top:700.0px;width:1.0px;height:21.0px;background:#3a3634;"></div>
<div class="r" style="left:573.0px;top:720.0px;width:24.0px;height:1.0px;background:#3a3634;"></div>
<div class="r" style="left:573.0px;top:740.0px;width:24.0px;height:1.0px;background:#3a3634;"></div>
<div class="r" style="left:573.0px;top:720.0px;width:1.0px;height:21.0px;background:#3a3634;"></div>
<div class="r" style="left:596.0px;top:720.0px;width:1.0px;height:21.0px;background:#3a3634;"></div>
<div class="r" style="left:573.0px;top:740.0px;width:24.0px;height:1.0px;background:#3a3634;"></div>
<div class="r" style="left:573.0px;top:760.0px;width:24.0px;height:1.0px;background:#3a3634;"></div>
<div class="r" style="left:573.0px;top:740.0px;width:1.0px;height:20.0px;background:#3a3634;"></div>
<div class="r" style="left:596.0px;top:740.0px;width:1.0px;height:20.0px;background:#3a3634;"></div>
<div class="r" style="left:596.0px;top:641.0px;width:23.0px;height:1.0px;background:#3a3634;"></div>
<div class="r" style="left:596.0px;top:681.0px;width:23.0px;height:1.0px;background:#3a3634;"></div>
<div class="r" style="left:596.0px;top:641.0px;width:1.0px;height:40.0px;background:#3a3634;"></div>
<div class="r" style="left:618.0px;top:641.0px;width:1.0px;height:40.0px;background:#3a3634;"></div>
<div class="r" style="left:596.0px;top:681.0px;width:23.0px;height:1.0px;background:#3a3634;"></div>
<div class="r" style="left:596.0px;top:700.0px;width:23.0px;height:1.0px;background:#3a3634;"></div>
<div class="r" style="left:596.0px;top:681.0px;width:1.0px;height:20.0px;background:#3a3634;"></div>
<div class="r" style="left:618.0px;top:681.0px;width:1.0px;height:20.0px;background:#3a3634;"></div>
<div class="r" style="left:596.0px;top:700.0px;width:23.0px;height:1.0px;background:#3a3634;"></div>
<div class="r" style="left:596.0px;top:720.0px;width:23.0px;height:1.0px;background:#3a3634;"></div>
<div class="r" style="left:596.0px;top:700.0px;width:1.0px;height:21.0px;background:#3a3634;"></div>
<div class="r" style="left:618.0px;top:700.0px;width:1.0px;height:21.0px;background:#3a3634;"></div>
<div class="r" style="left:596.0px;top:720.0px;width:23.0px;height:1.0px;background:#3a3634;"></div>
<div class="r" style="left:596.0px;top:760.0px;width:23.0px;height:1.0px;background:#3a3634;"></div>
<div class="r" style="left:596.0px;top:720.0px;width:1.0px;height:40.0px;background:#3a3634;"></div>
<div class="r" style="left:618.0px;top:720.0px;width:1.0px;height:40.0px;background:#3a3634;"></div>
<div class="r" style="left:618.0px;top:641.0px;width:23.0px;height:1.0px;background:#3a3634;"></div>
<div class="r" style="left:618.0px;top:661.0px;width:23.0px;height:1.0px;background:#3a3634;"></div>
<div class="r" style="left:618.0px;top:641.0px;width:1.0px;height:21.0px;background:#3a3634;"></div>
<div class="r" style="left:640.0px;top:641.0px;width:1.0px;height:21.0px;background:#3a3634;"></div>
<div class="r" style="left:618.0px;top:661.0px;width:23.0px;height:1.0px;background:#3a3634;"></div>
<div class="r" style="left:618.0px;top:681.0px;width:23.0px;height:1.0px;background:#3a3634;"></div>
<div class="r" style="left:618.0px;top:661.0px;width:1.0px;height:20.0px;background:#3a3634;"></div>
<div class="r" style="left:640.0px;top:661.0px;width:1.0px;height:20.0px;background:#3a3634;"></div>
<div class="r" style="left:618.0px;top:681.0px;width:23.0px;height:1.0px;background:#3a3634;"></div>
<div class="r" style="left:618.0px;top:700.0px;width:23.0px;height:1.0px;background:#3a3634;"></div>
<div class="r" style="left:618.0px;top:681.0px;width:1.0px;height:20.0px;background:#3a3634;"></div>
<div class="r" style="left:640.0px;top:681.0px;width:1.0px;height:20.0px;background:#3a3634;"></div>
<div class="r" style="left:618.0px;top:700.0px;width:23.0px;height:1.0px;background:#3a3634;"></div>
<div class="r" style="left:618.0px;top:720.0px;width:23.0px;height:1.0px;background:#3a3634;"></div>
<div class="r" style="left:618.0px;top:700.0px;width:1.0px;height:21.0px;background:#3a3634;"></div>
<div class="r" style="left:640.0px;top:700.0px;width:1.0px;height:21.0px;background:#3a3634;"></div>
<div class="r" style="left:618.0px;top:720.0px;width:23.0px;height:1.0px;background:#3a3634;"></div>
<div class="r" style="left:618.0px;top:740.0px;width:23.0px;height:1.0px;background:#3a3634;"></div>
<div class="r" style="left:618.0px;top:720.0px;width:1.0px;height:21.0px;background:#3a3634;"></div>
<div class="r" style="left:640.0px;top:720.0px;width:1.0px;height:21.0px;background:#3a3634;"></div>
<div class="r" style="left:618.0px;top:740.0px;width:23.0px;height:1.0px;background:#3a3634;"></div>
<div class="r" style="left:618.0px;top:760.0px;width:23.0px;height:1.0px;background:#3a3634;"></div>
<div class="r" style="left:618.0px;top:740.0px;width:1.0px;height:20.0px;background:#3a3634;"></div>
<div class="r" style="left:640.0px;top:740.0px;width:1.0px;height:20.0px;background:#3a3634;"></div>
<div class="r" style="left:640.0px;top:641.0px;width:25.0px;height:1.0px;background:#3a3634;"></div>
<div class="r" style="left:640.0px;top:661.0px;width:25.0px;height:1.0px;background:#3a3634;"></div>
<div class="r" style="left:640.0px;top:641.0px;width:1.0px;height:21.0px;background:#3a3634;"></div>
<div class="r" style="left:664.0px;top:641.0px;width:1.0px;height:21.0px;background:#3a3634;"></div>
<div class="r" style="left:640.0px;top:661.0px;width:25.0px;height:1.0px;background:#3a3634;"></div>
<div class="r" style="left:640.0px;top:681.0px;width:25.0px;height:1.0px;background:#3a3634;"></div>
<div class="r" style="left:640.0px;top:661.0px;width:1.0px;height:20.0px;background:#3a3634;"></div>
<div class="r" style="left:664.0px;top:661.0px;width:1.0px;height:20.0px;background:#3a3634;"></div>
<div class="r" style="left:640.0px;top:681.0px;width:25.0px;height:1.0px;background:#3a3634;"></div>
<div class="r" style="left:640.0px;top:700.0px;width:25.0px;height:1.0px;background:#3a3634;"></div>
<div class="r" style="left:640.0px;top:681.0px;width:1.0px;height:20.0px;background:#3a3634;"></div>
<div class="r" style="left:664.0px;top:681.0px;width:1.0px;height:20.0px;background:#3a3634;"></div>
<div class="r" style="left:640.0px;top:700.0px;width:25.0px;height:1.0px;background:#3a3634;"></div>
<div class="r" style="left:640.0px;top:720.0px;width:25.0px;height:1.0px;background:#3a3634;"></div>
<div class="r" style="left:640.0px;top:700.0px;width:1.0px;height:21.0px;background:#3a3634;"></div>
<div class="r" style="left:664.0px;top:700.0px;width:1.0px;height:21.0px;background:#3a3634;"></div>
<div class="r" style="left:640.0px;top:720.0px;width:25.0px;height:1.0px;background:#3a3634;"></div>
<div class="r" style="left:640.0px;top:740.0px;width:25.0px;height:1.0px;background:#3a3634;"></div>
<div class="r" style="left:640.0px;top:720.0px;width:1.0px;height:21.0px;background:#3a3634;"></div>
<div class="r" style="left:664.0px;top:720.0px;width:1.0px;height:21.0px;background:#3a3634;"></div>
<div class="r" style="left:640.0px;top:740.0px;width:25.0px;height:1.0px;background:#3a3634;"></div>
<div class="r" style="left:640.0px;top:760.0px;width:25.0px;height:1.0px;background:#3a3634;"></div>
<div class="r" style="left:640.0px;top:740.0px;width:1.0px;height:20.0px;background:#3a3634;"></div>
<div class="r" style="left:664.0px;top:740.0px;width:1.0px;height:20.0px;background:#3a3634;"></div>
<div class="r" style="left:664.0px;top:641.0px;width:51.0px;height:1.0px;background:#3a3634;"></div>
<div class="r" style="left:664.0px;top:700.0px;width:51.0px;height:1.0px;background:#3a3634;"></div>
<div class="r" style="left:664.0px;top:641.0px;width:1.0px;height:60.0px;background:#3a3634;"></div>
<div class="r" style="left:714.0px;top:641.0px;width:1.0px;height:60.0px;background:#3a3634;"></div>
<div class="r" style="left:664.0px;top:700.0px;width:51.0px;height:1.0px;background:#3a3634;"></div>
<div class="r" style="left:664.0px;top:760.0px;width:51.0px;height:1.0px;background:#3a3634;"></div>
<div class="r" style="left:664.0px;top:700.0px;width:1.0px;height:60.0px;background:#3a3634;"></div>
<div class="r" style="left:714.0px;top:700.0px;width:1.0px;height:60.0px;background:#3a3634;"></div>
<div class="r" style="left:714.0px;top:641.0px;width:23.0px;height:1.0px;background:#3a3634;"></div>
<div class="r" style="left:714.0px;top:700.0px;width:23.0px;height:1.0px;background:#3a3634;"></div>
<div class="r" style="left:714.0px;top:641.0px;width:1.0px;height:60.0px;background:#3a3634;"></div>
<div class="r" style="left:736.0px;top:641.0px;width:1.0px;height:60.0px;background:#3a3634;"></div>
<div class="r" style="left:714.0px;top:700.0px;width:23.0px;height:1.0px;background:#3a3634;"></div>
<div class="r" style="left:714.0px;top:760.0px;width:23.0px;height:1.0px;background:#3a3634;"></div>
<div class="r" style="left:714.0px;top:700.0px;width:1.0px;height:60.0px;background:#3a3634;"></div>
<div class="r" style="left:736.0px;top:700.0px;width:1.0px;height:60.0px;background:#3a3634;"></div>
<div class="r" style="left:736.0px;top:641.0px;width:23.0px;height:1.0px;background:#3a3634;"></div>
<div class="r" style="left:736.0px;top:661.0px;width:23.0px;height:1.0px;background:#3a3634;"></div>
<div class="r" style="left:736.0px;top:641.0px;width:1.0px;height:21.0px;background:#3a3634;"></div>
<div class="r" style="left:758.0px;top:641.0px;width:1.0px;height:21.0px;background:#3a3634;"></div>
<div class="r" style="left:736.0px;top:661.0px;width:23.0px;height:1.0px;background:#3a3634;"></div>
<div class="r" style="left:736.0px;top:681.0px;width:23.0px;height:1.0px;background:#3a3634;"></div>
<div class="r" style="left:736.0px;top:661.0px;width:1.0px;height:20.0px;background:#3a3634;"></div>
<div class="r" style="left:758.0px;top:661.0px;width:1.0px;height:20.0px;background:#3a3634;"></div>
<div class="r" style="left:736.0px;top:681.0px;width:23.0px;height:1.0px;background:#3a3634;"></div>
<div class="r" style="left:736.0px;top:700.0px;width:23.0px;height:1.0px;background:#3a3634;"></div>
<div class="r" style="left:736.0px;top:681.0px;width:1.0px;height:20.0px;background:#3a3634;"></div>
<div class="r" style="left:758.0px;top:681.0px;width:1.0px;height:20.0px;background:#3a3634;"></div>
<div class="r" style="left:736.0px;top:700.0px;width:23.0px;height:1.0px;background:#3a3634;"></div>
<div class="r" style="left:736.0px;top:720.0px;width:23.0px;height:1.0px;background:#3a3634;"></div>
<div class="r" style="left:736.0px;top:700.0px;width:1.0px;height:21.0px;background:#3a3634;"></div>
<div class="r" style="left:758.0px;top:700.0px;width:1.0px;height:21.0px;background:#3a3634;"></div>
<div class="r" style="left:736.0px;top:720.0px;width:23.0px;height:1.0px;background:#3a3634;"></div>
<div class="r" style="left:736.0px;top:740.0px;width:23.0px;height:1.0px;background:#3a3634;"></div>
<div class="r" style="left:736.0px;top:720.0px;width:1.0px;height:21.0px;background:#3a3634;"></div>
<div class="r" style="left:758.0px;top:720.0px;width:1.0px;height:21.0px;background:#3a3634;"></div>
<div class="r" style="left:736.0px;top:740.0px;width:23.0px;height:1.0px;background:#3a3634;"></div>
<div class="r" style="left:736.0px;top:760.0px;width:23.0px;height:1.0px;background:#3a3634;"></div>
<div class="r" style="left:736.0px;top:740.0px;width:1.0px;height:20.0px;background:#3a3634;"></div>
<div class="r" style="left:758.0px;top:740.0px;width:1.0px;height:20.0px;background:#3a3634;"></div>
<div class="r" style="left:758.0px;top:641.0px;width:24.0px;height:1.0px;background:#3a3634;"></div>
<div class="r" style="left:758.0px;top:661.0px;width:24.0px;height:1.0px;background:#3a3634;"></div>
<div class="r" style="left:758.0px;top:641.0px;width:1.0px;height:21.0px;background:#3a3634;"></div>
<div class="r" style="left:781.0px;top:641.0px;width:1.0px;height:21.0px;background:#3a3634;"></div>
<div class="r" style="left:758.0px;top:661.0px;width:24.0px;height:1.0px;background:#3a3634;"></div>
<div class="r" style="left:758.0px;top:700.0px;width:24.0px;height:1.0px;background:#3a3634;"></div>
<div class="r" style="left:758.0px;top:661.0px;width:1.0px;height:40.0px;background:#3a3634;"></div>
<div class="r" style="left:781.0px;top:661.0px;width:1.0px;height:40.0px;background:#3a3634;"></div>
<div class="r" style="left:758.0px;top:700.0px;width:24.0px;height:1.0px;background:#3a3634;"></div>
<div class="r" style="left:758.0px;top:760.0px;width:24.0px;height:1.0px;background:#3a3634;"></div>
<div class="r" style="left:758.0px;top:700.0px;width:1.0px;height:60.0px;background:#3a3634;"></div>
<div class="r" style="left:781.0px;top:700.0px;width:1.0px;height:60.0px;background:#3a3634;"></div>
<div class="r" style="left:781.0px;top:641.0px;width:23.0px;height:1.0px;background:#3a3634;"></div>
<div class="r" style="left:781.0px;top:661.0px;width:23.0px;height:1.0px;background:#3a3634;"></div>
<div class="r" style="left:781.0px;top:641.0px;width:1.0px;height:21.0px;background:#3a3634;"></div>
<div class="r" style="left:803.0px;top:641.0px;width:1.0px;height:21.0px;background:#3a3634;"></div>
<div class="r" style="left:781.0px;top:661.0px;width:23.0px;height:1.0px;background:#3a3634;"></div>
<div class="r" style="left:781.0px;top:681.0px;width:23.0px;height:1.0px;background:#3a3634;"></div>
<div class="r" style="left:781.0px;top:661.0px;width:1.0px;height:20.0px;background:#3a3634;"></div>
<div class="r" style="left:803.0px;top:661.0px;width:1.0px;height:20.0px;background:#3a3634;"></div>
<div class="r" style="left:781.0px;top:681.0px;width:23.0px;height:1.0px;background:#3a3634;"></div>
<div class="r" style="left:781.0px;top:700.0px;width:23.0px;height:1.0px;background:#3a3634;"></div>
<div class="r" style="left:781.0px;top:681.0px;width:1.0px;height:20.0px;background:#3a3634;"></div>
<div class="r" style="left:803.0px;top:681.0px;width:1.0px;height:20.0px;background:#3a3634;"></div>
<div class="r" style="left:781.0px;top:700.0px;width:23.0px;height:1.0px;background:#3a3634;"></div>
<div class="r" style="left:781.0px;top:720.0px;width:23.0px;height:1.0px;background:#3a3634;"></div>
<div class="r" style="left:781.0px;top:700.0px;width:1.0px;height:21.0px;background:#3a3634;"></div>
<div class="r" style="left:803.0px;top:700.0px;width:1.0px;height:21.0px;background:#3a3634;"></div>
<div class="r" style="left:781.0px;top:720.0px;width:23.0px;height:1.0px;background:#3a3634;"></div>
<div class="r" style="left:781.0px;top:760.0px;width:23.0px;height:1.0px;background:#3a3634;"></div>
<div class="r" style="left:781.0px;top:720.0px;width:1.0px;height:40.0px;background:#3a3634;"></div>
<div class="r" style="left:803.0px;top:720.0px;width:1.0px;height:40.0px;background:#3a3634;"></div>
<div class="r" style="left:803.0px;top:641.0px;width:23.0px;height:1.0px;background:#3a3634;"></div>
<div class="r" style="left:803.0px;top:661.0px;width:23.0px;height:1.0px;background:#3a3634;"></div>
<div class="r" style="left:803.0px;top:641.0px;width:1.0px;height:21.0px;background:#3a3634;"></div>
<div class="r" style="left:803.0px;top:661.0px;width:23.0px;height:1.0px;background:#3a3634;"></div>
<div class="r" style="left:803.0px;top:700.0px;width:23.0px;height:1.0px;background:#3a3634;"></div>
<div class="r" style="left:803.0px;top:661.0px;width:1.0px;height:40.0px;background:#3a3634;"></div>
<div class="r" style="left:803.0px;top:700.0px;width:23.0px;height:1.0px;background:#3a3634;"></div>
<div class="r" style="left:803.0px;top:720.0px;width:23.0px;height:1.0px;background:#3a3634;"></div>
<div class="r" style="left:803.0px;top:700.0px;width:1.0px;height:21.0px;background:#3a3634;"></div>
<div class="r" style="left:803.0px;top:720.0px;width:23.0px;height:1.0px;background:#3a3634;"></div>
<div class="r" style="left:803.0px;top:760.0px;width:23.0px;height:1.0px;background:#3a3634;"></div>
<div class="r" style="left:803.0px;top:720.0px;width:1.0px;height:40.0px;background:#3a3634;"></div>
<div class="r" style="left:74.0px;top:611.0px;width:752.0px;height:2.0px;background:#3a3634;"></div>
<div class="r" style="left:74.0px;top:640.0px;width:752.0px;height:2.0px;background:#3a3634;"></div>
<div class="r" style="left:74.0px;top:759.0px;width:752.0px;height:2.0px;background:#3a3634;"></div>
<div class="r" style="left:112.0px;top:611.0px;width:1.0px;height:149.0px;background:#3a3634;"></div>
<div class="t" style="left:74.5px;top:770.8px;font-size:12px;line-height:12px;font-weight:bold;letter-spacing:-0.3px;-webkit-text-stroke:0.35px #111;transform:scaleX(1.0172);transform-origin:0 0;"><span style="display:inline-block;width:0.92em;height:0.8em;background:#111;vertical-align:-0.02em;margin-right:0.05em"></span>磁石付き</div>
<div class="r" style="left:74.0px;top:786.4px;width:123.6px;height:19.8px;background:#fff;"></div>
<div class="r" style="left:74.6px;top:787.0px;width:122.4px;height:18.6px;background:#e8e8e8;"></div>
<div class="r" style="left:74.0px;top:786.4px;width:123.6px;height:19.8px;display:flex;align-items:center;justify-content:center;text-align:center;font-size:11.5px;line-height:11.5px;color:#231f20;font-weight:bold;letter-spacing:-0.3px;white-space:nowrap;"><span style="display:inline-block;position:relative;top:1.8px;transform:scaleX(1.0);transform-origin:50% 50%">型式</span></div>
<div class="r" style="left:74.0px;top:806.2px;width:49.3px;height:29.3px;background:#fff;"></div>
<div class="r" style="left:74.6px;top:806.8px;width:48.1px;height:28.1px;background:#e8e8e8;"></div>
<div class="r" style="left:74.0px;top:806.2px;width:49.3px;height:29.3px;display:flex;align-items:center;justify-content:center;text-align:center;font-size:11.5px;line-height:11.5px;color:#231f20;font-weight:bold;letter-spacing:-0.3px;white-space:nowrap;"><span style="display:inline-block;position:relative;top:1.8px;transform:scaleX(1.0);transform-origin:50% 50%"><span class="cn" style="width:12px;height:12px;font-size:9.4px;line-height:12px">1</span>Type</span></div>
<div class="r" style="left:123.3px;top:806.2px;width:74.3px;height:29.3px;background:#fff;"></div>
<div class="r" style="left:123.9px;top:806.8px;width:73.1px;height:28.1px;background:#e8e8e8;"></div>
<div class="r" style="left:123.3px;top:806.2px;width:74.3px;height:29.3px;display:flex;align-items:center;justify-content:center;text-align:center;font-size:11.5px;line-height:11.5px;color:#231f20;font-weight:bold;letter-spacing:-0.3px;white-space:nowrap;"><span style="display:inline-block;position:relative;top:1.8px;transform:scaleX(0.84);transform-origin:50% 50%"><div style="line-height:13px"><span class="cn" style="width:12px;height:12px;font-size:9.4px;line-height:12px">2</span>チューブ内径<br>(mm)</div></span></div>
<div class="r" style="left:197.6px;top:786.4px;width:133.6px;height:49.1px;background:#fff;"></div>
<div class="r" style="left:198.2px;top:787.0px;width:132.4px;height:47.9px;background:#e8e8e8;"></div>
<div class="r" style="left:197.6px;top:786.4px;width:133.6px;height:49.1px;display:flex;align-items:center;justify-content:center;text-align:center;font-size:11.5px;line-height:11.5px;color:#231f20;font-weight:bold;letter-spacing:-0.3px;white-space:nowrap;"><span style="display:inline-block;position:relative;top:1.8px;transform:scaleX(1.02);transform-origin:50% 50%"><span class="cn" style="width:12px;height:12px;font-size:9.4px;line-height:12px">3</span>St ストローク(mm)</span></div>
<div class="r" style="left:331.2px;top:786.4px;width:208.1px;height:19.8px;background:#fff;"></div>
<div class="r" style="left:331.8px;top:787.0px;width:206.9px;height:18.6px;background:#e8e8e8;"></div>
<div class="r" style="left:331.2px;top:786.4px;width:208.1px;height:19.8px;display:flex;align-items:center;justify-content:center;text-align:center;font-size:11.5px;line-height:11.5px;color:#231f20;font-weight:bold;letter-spacing:-0.3px;white-space:nowrap;"><span style="display:inline-block;position:relative;top:1.8px;transform:scaleX(1.0);transform-origin:50% 50%">センサと磁石</span></div>
<div class="r" style="left:331.2px;top:806.2px;width:69.4px;height:29.3px;background:#fff;"></div>
<div class="r" style="left:331.8px;top:806.8px;width:68.2px;height:28.1px;background:#e8e8e8;"></div>
<div class="r" style="left:331.2px;top:806.2px;width:69.4px;height:29.3px;display:flex;align-items:center;justify-content:center;text-align:center;font-size:11.5px;line-height:11.5px;color:#231f20;font-weight:bold;letter-spacing:-0.3px;white-space:nowrap;"><span style="display:inline-block;position:relative;top:1.8px;transform:scaleX(1.0);transform-origin:50% 50%"><span class="cn" style="width:12px;height:12px;font-size:9.4px;line-height:12px">4</span>磁石</span></div>
<div class="r" style="left:400.6px;top:806.2px;width:69.3px;height:29.3px;background:#fff;"></div>
<div class="r" style="left:401.2px;top:806.8px;width:68.1px;height:28.1px;background:#e8e8e8;"></div>
<div class="r" style="left:400.6px;top:806.2px;width:69.3px;height:29.3px;display:flex;align-items:center;justify-content:center;text-align:center;font-size:11.5px;line-height:11.5px;color:#231f20;font-weight:bold;letter-spacing:-0.3px;white-space:nowrap;"><span style="display:inline-block;position:relative;top:1.8px;transform:scaleX(1.0);transform-origin:50% 50%"><span class="cn" style="width:12px;height:12px;font-size:9.4px;line-height:12px">5</span>種類</span></div>
<div class="r" style="left:469.9px;top:806.2px;width:69.4px;height:29.3px;background:#fff;"></div>
<div class="r" style="left:470.5px;top:806.8px;width:68.2px;height:28.1px;background:#e8e8e8;"></div>
<div class="r" style="left:469.9px;top:806.2px;width:69.4px;height:29.3px;display:flex;align-items:center;justify-content:center;text-align:center;font-size:11.5px;line-height:11.5px;color:#231f20;font-weight:bold;letter-spacing:-0.3px;white-space:nowrap;"><span style="display:inline-block;position:relative;top:1.8px;transform:scaleX(1.0);transform-origin:50% 50%"><span class="cn" style="width:12px;height:12px;font-size:9.4px;line-height:12px">6</span>数量＊</span></div>
<div class="r" style="left:74.0px;top:835.5px;width:49.3px;height:118.5px;background:#fff;"></div>
<div class="r" style="left:74.6px;top:836.1px;width:48.1px;height:117.3px;background:#fff;"></div>
<div class="r" style="left:74.0px;top:835.5px;width:49.3px;height:118.5px;display:flex;align-items:center;justify-content:center;text-align:center;font-size:14.5px;line-height:14.5px;color:#1a84c6;font-weight:bold;letter-spacing:0.3px;white-space:nowrap;"><span style="display:inline-block;position:relative;top:1.5px;transform:scaleX(1.0);transform-origin:50% 50%">JTD</span></div>
<div class="r" style="left:123.3px;top:835.5px;width:74.3px;height:19.7px;background:#fff;"></div>
<div class="r" style="left:123.9px;top:836.1px;width:73.1px;height:18.5px;background:#fff;"></div>
<div class="r" style="left:123.3px;top:835.5px;width:74.3px;height:19.7px;display:flex;align-items:center;justify-content:center;text-align:center;font-size:12.5px;line-height:12.5px;color:#1a84c6;font-weight:normal;letter-spacing:0.2px;white-space:nowrap;-webkit-text-stroke:0.35px #1a84c6;"><span style="display:inline-block;position:relative;top:1.8px;transform:scaleX(1.0);transform-origin:50% 50%">20</span></div>
<div class="r" style="left:123.3px;top:855.2px;width:74.3px;height:20.0px;background:#fff;"></div>
<div class="r" style="left:123.9px;top:855.8px;width:73.1px;height:18.8px;background:#fff;"></div>
<div class="r" style="left:123.3px;top:855.2px;width:74.3px;height:20.0px;display:flex;align-items:center;justify-content:center;text-align:center;font-size:12.5px;line-height:12.5px;color:#1a84c6;font-weight:normal;letter-spacing:0.2px;white-space:nowrap;-webkit-text-stroke:0.35px #1a84c6;"><span style="display:inline-block;position:relative;top:1.8px;transform:scaleX(1.0);transform-origin:50% 50%">25</span></div>
<div class="r" style="left:123.3px;top:875.2px;width:74.3px;height:19.8px;background:#fff;"></div>
<div class="r" style="left:123.9px;top:875.8px;width:73.1px;height:18.6px;background:#fff;"></div>
<div class="r" style="left:123.3px;top:875.2px;width:74.3px;height:19.8px;display:flex;align-items:center;justify-content:center;text-align:center;font-size:12.5px;line-height:12.5px;color:#1a84c6;font-weight:normal;letter-spacing:0.2px;white-space:nowrap;-webkit-text-stroke:0.35px #1a84c6;"><span style="display:inline-block;position:relative;top:1.8px;transform:scaleX(1.0);transform-origin:50% 50%">32</span></div>
<div class="r" style="left:123.3px;top:895.0px;width:74.3px;height:19.8px;background:#fff;"></div>
<div class="r" style="left:123.9px;top:895.6px;width:73.1px;height:18.6px;background:#fff;"></div>
<div class="r" style="left:123.3px;top:895.0px;width:74.3px;height:19.8px;display:flex;align-items:center;justify-content:center;text-align:center;font-size:12.5px;line-height:12.5px;color:#1a84c6;font-weight:normal;letter-spacing:0.2px;white-space:nowrap;-webkit-text-stroke:0.35px #1a84c6;"><span style="display:inline-block;position:relative;top:1.8px;transform:scaleX(1.0);transform-origin:50% 50%">40</span></div>
<div class="r" style="left:123.3px;top:914.8px;width:74.3px;height:19.8px;background:#fff;"></div>
<div class="r" style="left:123.9px;top:915.4px;width:73.1px;height:18.6px;background:#fff;"></div>
<div class="r" style="left:123.3px;top:914.8px;width:74.3px;height:19.8px;display:flex;align-items:center;justify-content:center;text-align:center;font-size:12.5px;line-height:12.5px;color:#1a84c6;font-weight:normal;letter-spacing:0.2px;white-space:nowrap;-webkit-text-stroke:0.35px #1a84c6;"><span style="display:inline-block;position:relative;top:1.8px;transform:scaleX(1.0);transform-origin:50% 50%">50</span></div>
<div class="r" style="left:123.3px;top:934.6px;width:74.3px;height:19.4px;background:#fff;"></div>
<div class="r" style="left:123.9px;top:935.2px;width:73.1px;height:18.2px;background:#fff;"></div>
<div class="r" style="left:123.3px;top:934.6px;width:74.3px;height:19.4px;display:flex;align-items:center;justify-content:center;text-align:center;font-size:12.5px;line-height:12.5px;color:#1a84c6;font-weight:normal;letter-spacing:0.2px;white-space:nowrap;-webkit-text-stroke:0.35px #1a84c6;"><span style="display:inline-block;position:relative;top:1.8px;transform:scaleX(1.0);transform-origin:50% 50%">63</span></div>
<div class="r" style="left:197.6px;top:835.5px;width:133.6px;height:39.7px;background:#fff;"></div>
<div class="r" style="left:198.2px;top:836.1px;width:132.4px;height:38.5px;background:#fff;"></div>
<div class="r" style="left:197.6px;top:835.5px;width:133.6px;height:39.7px;display:flex;align-items:center;justify-content:flex-start;text-align:center;padding-left:6.5px;font-size:12.5px;line-height:12.5px;color:#1a84c6;font-weight:normal;letter-spacing:-0.6px;white-space:nowrap;-webkit-text-stroke:0.35px #1a84c6;"><span style="display:inline-block;position:relative;top:1.6px;transform:scaleX(1.0);transform-origin:0 50%">10 20 30 40 50</span></div>
<div class="r" style="left:197.6px;top:875.2px;width:133.6px;height:39.6px;background:#fff;"></div>
<div class="r" style="left:198.2px;top:875.8px;width:132.4px;height:38.4px;background:#fff;"></div>
<div class="r" style="left:197.6px;top:875.2px;width:133.6px;height:39.6px;display:flex;align-items:center;justify-content:flex-start;text-align:center;padding-left:6.5px;font-size:12.5px;line-height:12.5px;color:#1a84c6;font-weight:normal;letter-spacing:-0.6px;white-space:nowrap;-webkit-text-stroke:0.35px #1a84c6;"><span style="display:inline-block;position:relative;top:1.6px;transform:scaleX(1.0);transform-origin:0 50%">10 20 30 40 50 65</span></div>
<div class="r" style="left:197.6px;top:914.8px;width:133.6px;height:39.2px;background:#fff;"></div>
<div class="r" style="left:198.2px;top:915.4px;width:132.4px;height:38.0px;background:#fff;"></div>
<div class="r" style="left:197.6px;top:914.8px;width:133.6px;height:39.2px;display:flex;align-items:center;justify-content:flex-start;text-align:center;padding-left:6.5px;font-size:12.5px;line-height:12.5px;color:#1a84c6;font-weight:normal;letter-spacing:-0.6px;white-space:nowrap;-webkit-text-stroke:0.35px #1a84c6;"><span style="display:inline-block;position:relative;top:1.6px;transform:scaleX(1.0);transform-origin:0 50%">10 20 30 40 50 65 75 90</span></div>
<div class="r" style="left:331.2px;top:835.5px;width:69.4px;height:118.5px;background:#fff;"></div>
<div class="r" style="left:331.8px;top:836.1px;width:68.2px;height:117.3px;background:#fff;"></div>
<div class="r" style="left:331.2px;top:835.5px;width:69.4px;height:118.5px;display:flex;align-items:center;justify-content:center;text-align:center;font-size:12px;line-height:12.0px;color:#231f20;font-weight:normal;letter-spacing:0px;white-space:nowrap;-webkit-text-stroke:0.2px #231f20;"><span style="display:inline-block;position:relative;top:2.5px;transform:scaleX(1.0);transform-origin:50% 50%"><div style="line-height:11.5px"><span style="color:#1a84c6;-webkit-text-stroke:0.35px #1a84c6">S</span><br>(磁石付き)</div></span></div>
<div class="r" style="left:400.6px;top:835.5px;width:69.3px;height:118.5px;background:#fff;"></div>
<div class="r" style="left:401.2px;top:836.1px;width:68.1px;height:117.3px;background:#fff;"></div>
<div class="r" style="left:400.6px;top:835.5px;width:69.3px;height:118.5px;display:flex;align-items:center;justify-content:center;text-align:center;font-size:11.8px;line-height:11.8px;color:#231f20;font-weight:normal;letter-spacing:0px;white-space:nowrap;-webkit-text-stroke:0.2px #231f20;"><span style="display:inline-block;position:relative;top:1.5px;transform:scaleX(0.95);transform-origin:50% 50%"><div style="line-height:12.3px"><span style="color:#1a84c6;-webkit-text-stroke:0.3px #1a84c6">無記号</span><br>(センサ無し)<br><span style="color:#1a84c6;-webkit-text-stroke:0.35px #1a84c6">E</span><br>(ACS−30E)<br><span style="color:#1a84c6;-webkit-text-stroke:0.35px #1a84c6">D</span><br>(ACS−9D)<br><span style="color:#1a84c6;-webkit-text-stroke:0.35px #1a84c6">B</span><br>(ACS−9B)</div></span></div>
<div class="r" style="left:469.9px;top:835.5px;width:69.4px;height:118.5px;background:#fff;"></div>
<div class="r" style="left:470.5px;top:836.1px;width:68.2px;height:117.3px;background:#fff;"></div>
<div class="r" style="left:469.9px;top:835.5px;width:69.4px;height:118.5px;display:flex;align-items:center;justify-content:center;text-align:center;font-size:12px;line-height:12.0px;color:#231f20;font-weight:normal;letter-spacing:0px;white-space:nowrap;-webkit-text-stroke:0.2px #231f20;"><span style="display:inline-block;position:relative;top:1.5px;transform:scaleX(1.05);transform-origin:50% 50%"><div style="line-height:11.8px;text-align:left"><span style="color:#1a84c6;-webkit-text-stroke:0.35px #1a84c6">1</span>(1個)<br><span style="color:#1a84c6;-webkit-text-stroke:0.35px #1a84c6">2</span>(2個)</div></span></div>
<div class="r" style="left:74.0px;top:786.0px;width:124.0px;height:1.0px;background:#3a3634;"></div>
<div class="r" style="left:74.0px;top:806.0px;width:124.0px;height:1.0px;background:#3a3634;"></div>
<div class="r" style="left:197.0px;top:786.0px;width:1.0px;height:21.0px;background:#3a3634;"></div>
<div class="r" style="left:74.0px;top:806.0px;width:50.0px;height:1.0px;background:#3a3634;"></div>
<div class="r" style="left:74.0px;top:835.0px;width:50.0px;height:1.0px;background:#3a3634;"></div>
<div class="r" style="left:123.0px;top:806.0px;width:1.0px;height:30.0px;background:#3a3634;"></div>
<div class="r" style="left:123.0px;top:806.0px;width:75.0px;height:1.0px;background:#3a3634;"></div>
<div class="r" style="left:123.0px;top:835.0px;width:75.0px;height:1.0px;background:#3a3634;"></div>
<div class="r" style="left:123.0px;top:806.0px;width:1.0px;height:30.0px;background:#3a3634;"></div>
<div class="r" style="left:197.0px;top:806.0px;width:1.0px;height:30.0px;background:#3a3634;"></div>
<div class="r" style="left:197.0px;top:786.0px;width:135.0px;height:1.0px;background:#3a3634;"></div>
<div class="r" style="left:197.0px;top:835.0px;width:135.0px;height:1.0px;background:#3a3634;"></div>
<div class="r" style="left:197.0px;top:786.0px;width:1.0px;height:50.0px;background:#3a3634;"></div>
<div class="r" style="left:331.0px;top:786.0px;width:1.0px;height:50.0px;background:#3a3634;"></div>
<div class="r" style="left:331.0px;top:786.0px;width:209.0px;height:1.0px;background:#3a3634;"></div>
<div class="r" style="left:331.0px;top:806.0px;width:209.0px;height:1.0px;background:#3a3634;"></div>
<div class="r" style="left:331.0px;top:786.0px;width:1.0px;height:21.0px;background:#3a3634;"></div>
<div class="r" style="left:331.0px;top:806.0px;width:70.0px;height:1.0px;background:#3a3634;"></div>
<div class="r" style="left:331.0px;top:835.0px;width:70.0px;height:1.0px;background:#3a3634;"></div>
<div class="r" style="left:331.0px;top:806.0px;width:1.0px;height:30.0px;background:#3a3634;"></div>
<div class="r" style="left:400.0px;top:806.0px;width:1.0px;height:30.0px;background:#3a3634;"></div>
<div class="r" style="left:400.0px;top:806.0px;width:70.0px;height:1.0px;background:#3a3634;"></div>
<div class="r" style="left:400.0px;top:835.0px;width:70.0px;height:1.0px;background:#3a3634;"></div>
<div class="r" style="left:400.0px;top:806.0px;width:1.0px;height:30.0px;background:#3a3634;"></div>
<div class="r" style="left:469.0px;top:806.0px;width:1.0px;height:30.0px;background:#3a3634;"></div>
<div class="r" style="left:469.0px;top:806.0px;width:71.0px;height:1.0px;background:#3a3634;"></div>
<div class="r" style="left:469.0px;top:835.0px;width:71.0px;height:1.0px;background:#3a3634;"></div>
<div class="r" style="left:469.0px;top:806.0px;width:1.0px;height:30.0px;background:#3a3634;"></div>
<div class="r" style="left:74.0px;top:835.0px;width:50.0px;height:1.0px;background:#3a3634;"></div>
<div class="r" style="left:74.0px;top:954.0px;width:50.0px;height:1.0px;background:#3a3634;"></div>
<div class="r" style="left:123.0px;top:835.0px;width:1.0px;height:119.0px;background:#3a3634;"></div>
<div class="r" style="left:123.0px;top:835.0px;width:75.0px;height:1.0px;background:#3a3634;"></div>
<div class="r" style="left:123.0px;top:855.0px;width:75.0px;height:1.0px;background:#3a3634;"></div>
<div class="r" style="left:123.0px;top:835.0px;width:1.0px;height:21.0px;background:#3a3634;"></div>
<div class="r" style="left:197.0px;top:835.0px;width:1.0px;height:21.0px;background:#3a3634;"></div>
<div class="r" style="left:123.0px;top:855.0px;width:75.0px;height:1.0px;background:#3a3634;"></div>
<div class="r" style="left:123.0px;top:875.0px;width:75.0px;height:1.0px;background:#3a3634;"></div>
<div class="r" style="left:123.0px;top:855.0px;width:1.0px;height:21.0px;background:#3a3634;"></div>
<div class="r" style="left:197.0px;top:855.0px;width:1.0px;height:21.0px;background:#3a3634;"></div>
<div class="r" style="left:123.0px;top:875.0px;width:75.0px;height:1.0px;background:#3a3634;"></div>
<div class="r" style="left:123.0px;top:895.0px;width:75.0px;height:1.0px;background:#3a3634;"></div>
<div class="r" style="left:123.0px;top:875.0px;width:1.0px;height:20.0px;background:#3a3634;"></div>
<div class="r" style="left:197.0px;top:875.0px;width:1.0px;height:20.0px;background:#3a3634;"></div>
<div class="r" style="left:123.0px;top:895.0px;width:75.0px;height:1.0px;background:#3a3634;"></div>
<div class="r" style="left:123.0px;top:914.0px;width:75.0px;height:1.0px;background:#3a3634;"></div>
<div class="r" style="left:123.0px;top:895.0px;width:1.0px;height:20.0px;background:#3a3634;"></div>
<div class="r" style="left:197.0px;top:895.0px;width:1.0px;height:20.0px;background:#3a3634;"></div>
<div class="r" style="left:123.0px;top:914.0px;width:75.0px;height:1.0px;background:#3a3634;"></div>
<div class="r" style="left:123.0px;top:934.0px;width:75.0px;height:1.0px;background:#3a3634;"></div>
<div class="r" style="left:123.0px;top:914.0px;width:1.0px;height:21.0px;background:#3a3634;"></div>
<div class="r" style="left:197.0px;top:914.0px;width:1.0px;height:21.0px;background:#3a3634;"></div>
<div class="r" style="left:123.0px;top:934.0px;width:75.0px;height:1.0px;background:#3a3634;"></div>
<div class="r" style="left:123.0px;top:954.0px;width:75.0px;height:1.0px;background:#3a3634;"></div>
<div class="r" style="left:123.0px;top:934.0px;width:1.0px;height:20.0px;background:#3a3634;"></div>
<div class="r" style="left:197.0px;top:934.0px;width:1.0px;height:20.0px;background:#3a3634;"></div>
<div class="r" style="left:197.0px;top:835.0px;width:135.0px;height:1.0px;background:#3a3634;"></div>
<div class="r" style="left:197.0px;top:875.0px;width:135.0px;height:1.0px;background:#3a3634;"></div>
<div class="r" style="left:197.0px;top:835.0px;width:1.0px;height:41.0px;background:#3a3634;"></div>
<div class="r" style="left:331.0px;top:835.0px;width:1.0px;height:41.0px;background:#3a3634;"></div>
<div class="r" style="left:197.0px;top:875.0px;width:135.0px;height:1.0px;background:#3a3634;"></div>
<div class="r" style="left:197.0px;top:914.0px;width:135.0px;height:1.0px;background:#3a3634;"></div>
<div class="r" style="left:197.0px;top:875.0px;width:1.0px;height:40.0px;background:#3a3634;"></div>
<div class="r" style="left:331.0px;top:875.0px;width:1.0px;height:40.0px;background:#3a3634;"></div>
<div class="r" style="left:197.0px;top:914.0px;width:135.0px;height:1.0px;background:#3a3634;"></div>
<div class="r" style="left:197.0px;top:954.0px;width:135.0px;height:1.0px;background:#3a3634;"></div>
<div class="r" style="left:197.0px;top:914.0px;width:1.0px;height:40.0px;background:#3a3634;"></div>
<div class="r" style="left:331.0px;top:914.0px;width:1.0px;height:40.0px;background:#3a3634;"></div>
<div class="r" style="left:331.0px;top:835.0px;width:70.0px;height:1.0px;background:#3a3634;"></div>
<div class="r" style="left:331.0px;top:954.0px;width:70.0px;height:1.0px;background:#3a3634;"></div>
<div class="r" style="left:331.0px;top:835.0px;width:1.0px;height:119.0px;background:#3a3634;"></div>
<div class="r" style="left:400.0px;top:835.0px;width:1.0px;height:119.0px;background:#3a3634;"></div>
<div class="r" style="left:400.0px;top:835.0px;width:70.0px;height:1.0px;background:#3a3634;"></div>
<div class="r" style="left:400.0px;top:954.0px;width:70.0px;height:1.0px;background:#3a3634;"></div>
<div class="r" style="left:400.0px;top:835.0px;width:1.0px;height:119.0px;background:#3a3634;"></div>
<div class="r" style="left:469.0px;top:835.0px;width:1.0px;height:119.0px;background:#3a3634;"></div>
<div class="r" style="left:469.0px;top:835.0px;width:71.0px;height:1.0px;background:#3a3634;"></div>
<div class="r" style="left:469.0px;top:954.0px;width:71.0px;height:1.0px;background:#3a3634;"></div>
<div class="r" style="left:469.0px;top:835.0px;width:1.0px;height:119.0px;background:#3a3634;"></div>
<div class="r" style="left:74.0px;top:785.0px;width:466.0px;height:2.0px;background:#3a3634;"></div>
<div class="r" style="left:74.0px;top:835.0px;width:466.0px;height:2.0px;background:#3a3634;"></div>
<div class="r" style="left:74.0px;top:953.0px;width:466.0px;height:2.0px;background:#3a3634;"></div>
<div class="r" style="left:197.0px;top:786.0px;width:2.0px;height:168.0px;background:#3a3634;"></div>
<div class="r" style="left:330.0px;top:786.0px;width:2.0px;height:168.0px;background:#3a3634;"></div>
<div class="t" style="left:558.0px;top:770.8px;font-size:12px;line-height:12px;font-weight:bold;letter-spacing:-0.3px;-webkit-text-stroke:0.35px #111;transform:scaleX(1.0345);transform-origin:0 0;"><span style="display:inline-block;width:0.92em;height:0.8em;background:#111;vertical-align:-0.02em;margin-right:0.05em"></span>磁石無し</div>
<div class="r" style="left:558.0px;top:786.4px;width:124.1px;height:19.8px;background:#fff;"></div>
<div class="r" style="left:558.6px;top:787.0px;width:122.9px;height:18.6px;background:#e8e8e8;"></div>
<div class="r" style="left:558.0px;top:786.4px;width:124.1px;height:19.8px;display:flex;align-items:center;justify-content:center;text-align:center;font-size:11.5px;line-height:11.5px;color:#231f20;font-weight:bold;letter-spacing:-0.3px;white-space:nowrap;"><span style="display:inline-block;position:relative;top:1.8px;transform:scaleX(1.0);transform-origin:50% 50%">型式</span></div>
<div class="r" style="left:558.0px;top:806.2px;width:50.0px;height:29.3px;background:#fff;"></div>
<div class="r" style="left:558.6px;top:806.8px;width:48.8px;height:28.1px;background:#e8e8e8;"></div>
<div class="r" style="left:558.0px;top:806.2px;width:50.0px;height:29.3px;display:flex;align-items:center;justify-content:center;text-align:center;font-size:11.5px;line-height:11.5px;color:#231f20;font-weight:bold;letter-spacing:-0.3px;white-space:nowrap;"><span style="display:inline-block;position:relative;top:1.8px;transform:scaleX(1.0);transform-origin:50% 50%"><span class="cn" style="width:12px;height:12px;font-size:9.4px;line-height:12px">1</span>Type</span></div>
<div class="r" style="left:608.0px;top:806.2px;width:74.1px;height:29.3px;background:#fff;"></div>
<div class="r" style="left:608.6px;top:806.8px;width:72.9px;height:28.1px;background:#e8e8e8;"></div>
<div class="r" style="left:608.0px;top:806.2px;width:74.1px;height:29.3px;display:flex;align-items:center;justify-content:center;text-align:center;font-size:11.5px;line-height:11.5px;color:#231f20;font-weight:bold;letter-spacing:-0.3px;white-space:nowrap;"><span style="display:inline-block;position:relative;top:1.8px;transform:scaleX(0.84);transform-origin:50% 50%"><div style="line-height:13px"><span class="cn" style="width:12px;height:12px;font-size:9.4px;line-height:12px">2</span>チューブ内径<br>(mm)</div></span></div>
<div class="r" style="left:682.1px;top:786.4px;width:143.4px;height:49.1px;background:#fff;"></div>
<div class="r" style="left:682.7px;top:787.0px;width:142.2px;height:47.9px;background:#e8e8e8;"></div>
<div class="r" style="left:682.1px;top:786.4px;width:143.4px;height:49.1px;display:flex;align-items:center;justify-content:center;text-align:center;font-size:11.5px;line-height:11.5px;color:#231f20;font-weight:bold;letter-spacing:-0.3px;white-space:nowrap;"><span style="display:inline-block;position:relative;top:1.8px;transform:scaleX(0.895);transform-origin:50% 50%"><span class="cn" style="width:12px;height:12px;font-size:9.4px;line-height:12px">3</span>St ストローク(mm)</span></div>
<div class="r" style="left:558.0px;top:835.5px;width:50.0px;height:118.5px;background:#fff;"></div>
<div class="r" style="left:558.6px;top:836.1px;width:48.8px;height:117.3px;background:#fff;"></div>
<div class="r" style="left:558.0px;top:835.5px;width:50.0px;height:118.5px;display:flex;align-items:center;justify-content:center;text-align:center;font-size:14.5px;line-height:14.5px;color:#1a84c6;font-weight:bold;letter-spacing:0.3px;white-space:nowrap;"><span style="display:inline-block;position:relative;top:1.5px;transform:scaleX(1.0);transform-origin:50% 50%">JTD</span></div>
<div class="r" style="left:608.0px;top:835.5px;width:74.1px;height:19.7px;background:#fff;"></div>
<div class="r" style="left:608.6px;top:836.1px;width:72.9px;height:18.5px;background:#fff;"></div>
<div class="r" style="left:608.0px;top:835.5px;width:74.1px;height:19.7px;display:flex;align-items:center;justify-content:center;text-align:center;font-size:12px;line-height:12.0px;color:#1a84c6;font-weight:normal;letter-spacing:0.2px;white-space:nowrap;-webkit-text-stroke:0.35px #1a84c6;"><span style="display:inline-block;position:relative;top:1.8px;transform:scaleX(1.0);transform-origin:50% 50%">20</span></div>
<div class="r" style="left:608.0px;top:855.2px;width:74.1px;height:20.0px;background:#fff;"></div>
<div class="r" style="left:608.6px;top:855.8px;width:72.9px;height:18.8px;background:#fff;"></div>
<div class="r" style="left:608.0px;top:855.2px;width:74.1px;height:20.0px;display:flex;align-items:center;justify-content:center;text-align:center;font-size:12px;line-height:12.0px;color:#1a84c6;font-weight:normal;letter-spacing:0.2px;white-space:nowrap;-webkit-text-stroke:0.35px #1a84c6;"><span style="display:inline-block;position:relative;top:1.8px;transform:scaleX(1.0);transform-origin:50% 50%">25</span></div>
<div class="r" style="left:608.0px;top:875.2px;width:74.1px;height:19.8px;background:#fff;"></div>
<div class="r" style="left:608.6px;top:875.8px;width:72.9px;height:18.6px;background:#fff;"></div>
<div class="r" style="left:608.0px;top:875.2px;width:74.1px;height:19.8px;display:flex;align-items:center;justify-content:center;text-align:center;font-size:12px;line-height:12.0px;color:#1a84c6;font-weight:normal;letter-spacing:0.2px;white-space:nowrap;-webkit-text-stroke:0.35px #1a84c6;"><span style="display:inline-block;position:relative;top:1.8px;transform:scaleX(1.0);transform-origin:50% 50%">32</span></div>
<div class="r" style="left:608.0px;top:895.0px;width:74.1px;height:19.8px;background:#fff;"></div>
<div class="r" style="left:608.6px;top:895.6px;width:72.9px;height:18.6px;background:#fff;"></div>
<div class="r" style="left:608.0px;top:895.0px;width:74.1px;height:19.8px;display:flex;align-items:center;justify-content:center;text-align:center;font-size:12px;line-height:12.0px;color:#1a84c6;font-weight:normal;letter-spacing:0.2px;white-space:nowrap;-webkit-text-stroke:0.35px #1a84c6;"><span style="display:inline-block;position:relative;top:1.8px;transform:scaleX(1.0);transform-origin:50% 50%">40</span></div>
<div class="r" style="left:608.0px;top:914.8px;width:74.1px;height:19.8px;background:#fff;"></div>
<div class="r" style="left:608.6px;top:915.4px;width:72.9px;height:18.6px;background:#fff;"></div>
<div class="r" style="left:608.0px;top:914.8px;width:74.1px;height:19.8px;display:flex;align-items:center;justify-content:center;text-align:center;font-size:12px;line-height:12.0px;color:#1a84c6;font-weight:normal;letter-spacing:0.2px;white-space:nowrap;-webkit-text-stroke:0.35px #1a84c6;"><span style="display:inline-block;position:relative;top:1.8px;transform:scaleX(1.0);transform-origin:50% 50%">50</span></div>
<div class="r" style="left:608.0px;top:934.6px;width:74.1px;height:19.4px;background:#fff;"></div>
<div class="r" style="left:608.6px;top:935.2px;width:72.9px;height:18.2px;background:#fff;"></div>
<div class="r" style="left:608.0px;top:934.6px;width:74.1px;height:19.4px;display:flex;align-items:center;justify-content:center;text-align:center;font-size:12px;line-height:12.0px;color:#1a84c6;font-weight:normal;letter-spacing:0.2px;white-space:nowrap;-webkit-text-stroke:0.35px #1a84c6;"><span style="display:inline-block;position:relative;top:1.8px;transform:scaleX(1.0);transform-origin:50% 50%">63</span></div>
<div class="r" style="left:682.1px;top:835.5px;width:143.4px;height:39.7px;background:#fff;"></div>
<div class="r" style="left:682.7px;top:836.1px;width:142.2px;height:38.5px;background:#fff;"></div>
<div class="r" style="left:682.1px;top:835.5px;width:143.4px;height:39.7px;display:flex;align-items:center;justify-content:flex-start;text-align:center;padding-left:6.5px;font-size:11.5px;line-height:11.5px;color:#1a84c6;font-weight:normal;letter-spacing:-0.5px;white-space:nowrap;-webkit-text-stroke:0.35px #1a84c6;"><span style="display:inline-block;position:relative;top:1.8px;transform:scaleX(1.0);transform-origin:0 50%">10 20 30 40 50 60</span></div>
<div class="r" style="left:682.1px;top:875.2px;width:143.4px;height:39.6px;background:#fff;"></div>
<div class="r" style="left:682.7px;top:875.8px;width:142.2px;height:38.4px;background:#fff;"></div>
<div class="r" style="left:682.1px;top:875.2px;width:143.4px;height:39.6px;display:flex;align-items:center;justify-content:flex-start;text-align:center;padding-left:6.5px;font-size:11.5px;line-height:11.5px;color:#1a84c6;font-weight:normal;letter-spacing:-0.5px;white-space:nowrap;-webkit-text-stroke:0.35px #1a84c6;"><span style="display:inline-block;position:relative;top:1.8px;transform:scaleX(1.0);transform-origin:0 50%">10 20 30 40 50 60 75</span></div>
<div class="r" style="left:682.1px;top:914.8px;width:143.4px;height:39.2px;background:#fff;"></div>
<div class="r" style="left:682.7px;top:915.4px;width:142.2px;height:38.0px;background:#fff;"></div>
<div class="r" style="left:682.1px;top:914.8px;width:143.4px;height:39.2px;display:flex;align-items:center;justify-content:flex-start;text-align:center;padding-left:6.5px;font-size:11.5px;line-height:11.5px;color:#1a84c6;font-weight:normal;letter-spacing:-0.5px;white-space:nowrap;-webkit-text-stroke:0.35px #1a84c6;"><span style="display:inline-block;position:relative;top:1.8px;transform:scaleX(1.0);transform-origin:0 50%">10 20 30 40 50 60 75 85 100</span></div>
<div class="r" style="left:558.0px;top:786.0px;width:125.0px;height:1.0px;background:#3a3634;"></div>
<div class="r" style="left:558.0px;top:806.0px;width:125.0px;height:1.0px;background:#3a3634;"></div>
<div class="r" style="left:682.0px;top:786.0px;width:1.0px;height:21.0px;background:#3a3634;"></div>
<div class="r" style="left:558.0px;top:806.0px;width:50.0px;height:1.0px;background:#3a3634;"></div>
<div class="r" style="left:558.0px;top:835.0px;width:50.0px;height:1.0px;background:#3a3634;"></div>
<div class="r" style="left:608.0px;top:806.0px;width:1.0px;height:30.0px;background:#3a3634;"></div>
<div class="r" style="left:608.0px;top:806.0px;width:75.0px;height:1.0px;background:#3a3634;"></div>
<div class="r" style="left:608.0px;top:835.0px;width:75.0px;height:1.0px;background:#3a3634;"></div>
<div class="r" style="left:608.0px;top:806.0px;width:1.0px;height:30.0px;background:#3a3634;"></div>
<div class="r" style="left:682.0px;top:806.0px;width:1.0px;height:30.0px;background:#3a3634;"></div>
<div class="r" style="left:682.0px;top:786.0px;width:144.0px;height:1.0px;background:#3a3634;"></div>
<div class="r" style="left:682.0px;top:835.0px;width:144.0px;height:1.0px;background:#3a3634;"></div>
<div class="r" style="left:682.0px;top:786.0px;width:1.0px;height:50.0px;background:#3a3634;"></div>
<div class="r" style="left:558.0px;top:835.0px;width:50.0px;height:1.0px;background:#3a3634;"></div>
<div class="r" style="left:558.0px;top:954.0px;width:50.0px;height:1.0px;background:#3a3634;"></div>
<div class="r" style="left:608.0px;top:835.0px;width:1.0px;height:119.0px;background:#3a3634;"></div>
<div class="r" style="left:608.0px;top:835.0px;width:75.0px;height:1.0px;background:#3a3634;"></div>
<div class="r" style="left:608.0px;top:855.0px;width:75.0px;height:1.0px;background:#3a3634;"></div>
<div class="r" style="left:608.0px;top:835.0px;width:1.0px;height:21.0px;background:#3a3634;"></div>
<div class="r" style="left:682.0px;top:835.0px;width:1.0px;height:21.0px;background:#3a3634;"></div>
<div class="r" style="left:608.0px;top:855.0px;width:75.0px;height:1.0px;background:#3a3634;"></div>
<div class="r" style="left:608.0px;top:875.0px;width:75.0px;height:1.0px;background:#3a3634;"></div>
<div class="r" style="left:608.0px;top:855.0px;width:1.0px;height:21.0px;background:#3a3634;"></div>
<div class="r" style="left:682.0px;top:855.0px;width:1.0px;height:21.0px;background:#3a3634;"></div>
<div class="r" style="left:608.0px;top:875.0px;width:75.0px;height:1.0px;background:#3a3634;"></div>
<div class="r" style="left:608.0px;top:895.0px;width:75.0px;height:1.0px;background:#3a3634;"></div>
<div class="r" style="left:608.0px;top:875.0px;width:1.0px;height:20.0px;background:#3a3634;"></div>
<div class="r" style="left:682.0px;top:875.0px;width:1.0px;height:20.0px;background:#3a3634;"></div>
<div class="r" style="left:608.0px;top:895.0px;width:75.0px;height:1.0px;background:#3a3634;"></div>
<div class="r" style="left:608.0px;top:914.0px;width:75.0px;height:1.0px;background:#3a3634;"></div>
<div class="r" style="left:608.0px;top:895.0px;width:1.0px;height:20.0px;background:#3a3634;"></div>
<div class="r" style="left:682.0px;top:895.0px;width:1.0px;height:20.0px;background:#3a3634;"></div>
<div class="r" style="left:608.0px;top:914.0px;width:75.0px;height:1.0px;background:#3a3634;"></div>
<div class="r" style="left:608.0px;top:934.0px;width:75.0px;height:1.0px;background:#3a3634;"></div>
<div class="r" style="left:608.0px;top:914.0px;width:1.0px;height:21.0px;background:#3a3634;"></div>
<div class="r" style="left:682.0px;top:914.0px;width:1.0px;height:21.0px;background:#3a3634;"></div>
<div class="r" style="left:608.0px;top:934.0px;width:75.0px;height:1.0px;background:#3a3634;"></div>
<div class="r" style="left:608.0px;top:954.0px;width:75.0px;height:1.0px;background:#3a3634;"></div>
<div class="r" style="left:608.0px;top:934.0px;width:1.0px;height:20.0px;background:#3a3634;"></div>
<div class="r" style="left:682.0px;top:934.0px;width:1.0px;height:20.0px;background:#3a3634;"></div>
<div class="r" style="left:682.0px;top:835.0px;width:144.0px;height:1.0px;background:#3a3634;"></div>
<div class="r" style="left:682.0px;top:875.0px;width:144.0px;height:1.0px;background:#3a3634;"></div>
<div class="r" style="left:682.0px;top:835.0px;width:1.0px;height:41.0px;background:#3a3634;"></div>
<div class="r" style="left:682.0px;top:875.0px;width:144.0px;height:1.0px;background:#3a3634;"></div>
<div class="r" style="left:682.0px;top:914.0px;width:144.0px;height:1.0px;background:#3a3634;"></div>
<div class="r" style="left:682.0px;top:875.0px;width:1.0px;height:40.0px;background:#3a3634;"></div>
<div class="r" style="left:682.0px;top:914.0px;width:144.0px;height:1.0px;background:#3a3634;"></div>
<div class="r" style="left:682.0px;top:954.0px;width:144.0px;height:1.0px;background:#3a3634;"></div>
<div class="r" style="left:682.0px;top:914.0px;width:1.0px;height:40.0px;background:#3a3634;"></div>
<div class="r" style="left:558.0px;top:785.0px;width:268.0px;height:2.0px;background:#3a3634;"></div>
<div class="r" style="left:558.0px;top:835.0px;width:268.0px;height:2.0px;background:#3a3634;"></div>
<div class="r" style="left:558.0px;top:953.0px;width:268.0px;height:2.0px;background:#3a3634;"></div>
<div class="r" style="left:681.0px;top:786.0px;width:2.0px;height:168.0px;background:#3a3634;"></div>
<div class="t" style="left:76.5px;top:958.4px;font-size:9px;line-height:9px;letter-spacing:-0.2px;-webkit-text-stroke:0.25px #231f20;transform:scaleX(0.9217);transform-origin:0 0;"><svg width="10" height="10" viewBox="0 0 10 10" style="position:relative;display:inline-block;vertical-align:middle;top:-1px;left:0"><circle cx="5" cy="5" r="4.3" fill="#fff" stroke="#d2007a" stroke-width="1"/><circle cx="5" cy="4" r="2" fill="#d2007a"/><rect x="4.4" y="5" width="1.2" height="3" fill="#d2007a"/></svg> センサは単品購入可能です。 <svg width="10" height="10" viewBox="0 0 10 10" style="position:relative;display:inline-block;vertical-align:middle;top:-1px;left:0"><circle cx="5" cy="5" r="4.3" fill="#fff" stroke="#d2007a" stroke-width="1"/><circle cx="5" cy="4" r="2" fill="#d2007a"/><rect x="4.4" y="5" width="1.2" height="3" fill="#d2007a"/></svg> (＊)センサ無しの場合は、数量選択が不要です。</div>
<div class="t" style="left:75.0px;top:978.0px;font-size:12px;line-height:12px;font-weight:bold;letter-spacing:-0.3px;-webkit-text-stroke:0.35px #111;transform:scaleX(0.9878);transform-origin:0 0;"><span style="display:inline-block;width:0.92em;height:0.8em;background:#111;vertical-align:-0.02em;margin-right:0.05em"></span>センサの仕様</div>
<div class="r" style="left:74.0px;top:993.0px;width:103.6px;height:14.7px;background:#fff;"></div>
<div class="r" style="left:74.6px;top:993.6px;width:102.4px;height:13.5px;background:#e8e8e8;"></div>
<div class="r" style="left:74.0px;top:993.0px;width:103.6px;height:14.7px;display:flex;align-items:center;justify-content:flex-start;text-align:center;padding-left:5.5px;font-size:10.5px;line-height:10.5px;color:#231f20;font-weight:bold;letter-spacing:0px;white-space:nowrap;"><span style="display:inline-block;position:relative;top:0.8px;transform:scaleX(0.88);transform-origin:0 50%">種類</span></div>
<div class="r" style="left:74.0px;top:1007.7px;width:103.6px;height:14.5px;background:#fff;"></div>
<div class="r" style="left:74.6px;top:1008.3px;width:102.4px;height:13.3px;background:#e8e8e8;"></div>
<div class="r" style="left:74.0px;top:1007.7px;width:103.6px;height:14.5px;display:flex;align-items:center;justify-content:flex-start;text-align:center;padding-left:5.5px;font-size:10.5px;line-height:10.5px;color:#231f20;font-weight:bold;letter-spacing:0px;white-space:nowrap;"><span style="display:inline-block;position:relative;top:0.8px;transform:scaleX(0.88);transform-origin:0 50%">配線方式</span></div>
<div class="r" style="left:74.0px;top:1022.2px;width:103.6px;height:14.9px;background:#fff;"></div>
<div class="r" style="left:74.6px;top:1022.8px;width:102.4px;height:13.7px;background:#e8e8e8;"></div>
<div class="r" style="left:74.0px;top:1022.2px;width:103.6px;height:14.9px;display:flex;align-items:center;justify-content:flex-start;text-align:center;padding-left:5.5px;font-size:10.5px;line-height:10.5px;color:#231f20;font-weight:bold;letter-spacing:0px;white-space:nowrap;"><span style="display:inline-block;position:relative;top:0.8px;transform:scaleX(0.86);transform-origin:0 50%">使用電圧</span></div>
<div class="r" style="left:74.0px;top:1037.1px;width:103.6px;height:14.6px;background:#fff;"></div>
<div class="r" style="left:74.6px;top:1037.7px;width:102.4px;height:13.4px;background:#e8e8e8;"></div>
<div class="r" style="left:74.0px;top:1037.1px;width:103.6px;height:14.6px;display:flex;align-items:center;justify-content:flex-start;text-align:center;padding-left:5.5px;font-size:10.5px;line-height:10.5px;color:#231f20;font-weight:bold;letter-spacing:0px;white-space:nowrap;"><span style="display:inline-block;position:relative;top:0.8px;transform:scaleX(0.8);transform-origin:0 50%">ランプ</span></div>
<div class="r" style="left:74.0px;top:1051.7px;width:103.6px;height:14.7px;background:#fff;"></div>
<div class="r" style="left:74.6px;top:1052.3px;width:102.4px;height:13.5px;background:#e8e8e8;"></div>
<div class="r" style="left:74.0px;top:1051.7px;width:103.6px;height:14.7px;display:flex;align-items:center;justify-content:flex-start;text-align:center;padding-left:5.5px;font-size:10.5px;line-height:10.5px;color:#231f20;font-weight:bold;letter-spacing:0px;white-space:nowrap;"><span style="display:inline-block;position:relative;top:0.8px;transform:scaleX(0.85);transform-origin:0 50%">接点</span></div>
<div class="r" style="left:74.0px;top:1066.4px;width:103.6px;height:15.2px;background:#fff;"></div>
<div class="r" style="left:74.6px;top:1067.0px;width:102.4px;height:14.0px;background:#e8e8e8;"></div>
<div class="r" style="left:74.0px;top:1066.4px;width:103.6px;height:15.2px;display:flex;align-items:center;justify-content:flex-start;text-align:center;padding-left:5.5px;font-size:10.5px;line-height:10.5px;color:#231f20;font-weight:bold;letter-spacing:0px;white-space:nowrap;"><span style="display:inline-block;position:relative;top:0.8px;transform:scaleX(0.78);transform-origin:0 50%">引出しタイプ</span></div>
<div class="r" style="left:177.6px;top:993.0px;width:104.4px;height:14.7px;background:#fff;"></div>
<div class="r" style="left:178.2px;top:993.6px;width:103.2px;height:13.5px;background:#d6e8f4;"></div>
<div class="r" style="left:177.6px;top:993.0px;width:104.4px;height:14.7px;display:flex;align-items:center;justify-content:center;text-align:center;font-size:10px;line-height:10.0px;color:#231f20;font-weight:normal;letter-spacing:-0.2px;white-space:nowrap;-webkit-text-stroke:0.15px #231f20;"><span style="display:inline-block;position:relative;top:1.5px;transform:scaleX(0.9);transform-origin:50% 50%">ACS−30E</span></div>
<div class="r" style="left:282.0px;top:993.0px;width:103.5px;height:14.7px;background:#fff;"></div>
<div class="r" style="left:282.6px;top:993.6px;width:102.3px;height:13.5px;background:#d6e8f4;"></div>
<div class="r" style="left:282.0px;top:993.0px;width:103.5px;height:14.7px;display:flex;align-items:center;justify-content:center;text-align:center;font-size:10px;line-height:10.0px;color:#231f20;font-weight:normal;letter-spacing:-0.2px;white-space:nowrap;-webkit-text-stroke:0.15px #231f20;"><span style="display:inline-block;position:relative;top:1.5px;transform:scaleX(0.9);transform-origin:50% 50%">ACS−9D</span></div>
<div class="r" style="left:385.5px;top:993.0px;width:104.5px;height:14.7px;background:#fff;"></div>
<div class="r" style="left:386.1px;top:993.6px;width:103.3px;height:13.5px;background:#d6e8f4;"></div>
<div class="r" style="left:385.5px;top:993.0px;width:104.5px;height:14.7px;display:flex;align-items:center;justify-content:center;text-align:center;font-size:10px;line-height:10.0px;color:#231f20;font-weight:normal;letter-spacing:-0.2px;white-space:nowrap;-webkit-text-stroke:0.15px #231f20;"><span style="display:inline-block;position:relative;top:1.5px;transform:scaleX(0.9);transform-origin:50% 50%">ACS−9B</span></div>
<div class="r" style="left:177.6px;top:1007.7px;width:312.4px;height:14.5px;background:#fff;"></div>
<div class="r" style="left:178.2px;top:1008.3px;width:311.2px;height:13.3px;background:#d6e8f4;"></div>
<div class="r" style="left:177.6px;top:1007.7px;width:312.4px;height:14.5px;display:flex;align-items:center;justify-content:center;text-align:center;font-size:10px;line-height:10.0px;color:#231f20;font-weight:normal;letter-spacing:-0.2px;white-space:nowrap;-webkit-text-stroke:0.15px #231f20;"><span style="display:inline-block;position:relative;top:1.5px;transform:scaleX(0.9);transform-origin:50% 50%">2線式</span></div>
<div class="r" style="left:177.6px;top:1022.2px;width:104.4px;height:14.9px;background:#fff;"></div>
<div class="r" style="left:178.2px;top:1022.8px;width:103.2px;height:13.7px;background:#d6e8f4;"></div>
<div class="r" style="left:177.6px;top:1022.2px;width:104.4px;height:14.9px;display:flex;align-items:center;justify-content:center;text-align:center;font-size:10px;line-height:10.0px;color:#231f20;font-weight:normal;letter-spacing:-0.2px;white-space:nowrap;-webkit-text-stroke:0.15px #231f20;"><span style="display:inline-block;position:relative;top:1.5px;transform:scaleX(0.86);transform-origin:50% 50%">DC/AC：5〜240V</span></div>
<div class="r" style="left:282.0px;top:1022.2px;width:208.0px;height:14.9px;background:#fff;"></div>
<div class="r" style="left:282.6px;top:1022.8px;width:206.8px;height:13.7px;background:#d6e8f4;"></div>
<div class="r" style="left:282.0px;top:1022.2px;width:208.0px;height:14.9px;display:flex;align-items:center;justify-content:center;text-align:center;font-size:10px;line-height:10.0px;color:#231f20;font-weight:normal;letter-spacing:-0.2px;white-space:nowrap;-webkit-text-stroke:0.15px #231f20;"><span style="display:inline-block;position:relative;top:1.5px;transform:scaleX(0.86);transform-origin:50% 50%">DC/AC：5〜120V</span></div>
<div class="r" style="left:177.6px;top:1037.1px;width:312.4px;height:14.6px;background:#fff;"></div>
<div class="r" style="left:178.2px;top:1037.7px;width:311.2px;height:13.4px;background:#d6e8f4;"></div>
<div class="r" style="left:177.6px;top:1037.1px;width:312.4px;height:14.6px;display:flex;align-items:center;justify-content:center;text-align:center;font-size:10px;line-height:10.0px;color:#231f20;font-weight:normal;letter-spacing:-0.2px;white-space:nowrap;-webkit-text-stroke:0.15px #231f20;"><span style="display:inline-block;position:relative;top:1.5px;transform:scaleX(0.9);transform-origin:50% 50%">あり</span></div>
<div class="r" style="left:177.6px;top:1051.7px;width:312.4px;height:14.7px;background:#fff;"></div>
<div class="r" style="left:178.2px;top:1052.3px;width:311.2px;height:13.5px;background:#d6e8f4;"></div>
<div class="r" style="left:177.6px;top:1051.7px;width:312.4px;height:14.7px;display:flex;align-items:center;justify-content:center;text-align:center;font-size:10px;line-height:10.0px;color:#231f20;font-weight:normal;letter-spacing:-0.2px;white-space:nowrap;-webkit-text-stroke:0.15px #231f20;"><span style="display:inline-block;position:relative;top:1.5px;transform:scaleX(0.9);transform-origin:50% 50%">常時開タイプ</span></div>
<div class="r" style="left:177.6px;top:1066.4px;width:104.4px;height:15.2px;background:#fff;"></div>
<div class="r" style="left:178.2px;top:1067.0px;width:103.2px;height:14.0px;background:#d6e8f4;"></div>
<div class="r" style="left:177.6px;top:1066.4px;width:104.4px;height:15.2px;display:flex;align-items:center;justify-content:center;text-align:center;font-size:10px;line-height:10.0px;color:#231f20;font-weight:normal;letter-spacing:-0.2px;white-space:nowrap;-webkit-text-stroke:0.15px #231f20;"><span style="display:inline-block;position:relative;top:1.5px;transform:scaleX(0.9);transform-origin:50% 50%">縦向き</span></div>
<div class="r" style="left:282.0px;top:1066.4px;width:103.5px;height:15.2px;background:#fff;"></div>
<div class="r" style="left:282.6px;top:1067.0px;width:102.3px;height:14.0px;background:#d6e8f4;"></div>
<div class="r" style="left:282.0px;top:1066.4px;width:103.5px;height:15.2px;display:flex;align-items:center;justify-content:center;text-align:center;font-size:10px;line-height:10.0px;color:#231f20;font-weight:normal;letter-spacing:-0.2px;white-space:nowrap;-webkit-text-stroke:0.15px #231f20;"><span style="display:inline-block;position:relative;top:1.5px;transform:scaleX(0.9);transform-origin:50% 50%">横向き</span></div>
<div class="r" style="left:385.5px;top:1066.4px;width:104.5px;height:15.2px;background:#fff;"></div>
<div class="r" style="left:386.1px;top:1067.0px;width:103.3px;height:14.0px;background:#d6e8f4;"></div>
<div class="r" style="left:385.5px;top:1066.4px;width:104.5px;height:15.2px;display:flex;align-items:center;justify-content:center;text-align:center;font-size:10px;line-height:10.0px;color:#231f20;font-weight:normal;letter-spacing:-0.2px;white-space:nowrap;-webkit-text-stroke:0.15px #231f20;"><span style="display:inline-block;position:relative;top:1.5px;transform:scaleX(0.9);transform-origin:50% 50%">縦向き</span></div>
<div class="r" style="left:74.0px;top:993.0px;width:104.0px;height:1.0px;background:#3a3634;"></div>
<div class="r" style="left:74.0px;top:1007.0px;width:104.0px;height:1.0px;background:#3a3634;"></div>
<div class="r" style="left:177.0px;top:993.0px;width:1.0px;height:15.0px;background:#3a3634;"></div>
<div class="r" style="left:74.0px;top:1007.0px;width:104.0px;height:1.0px;background:#3a3634;"></div>
<div class="r" style="left:74.0px;top:1022.0px;width:104.0px;height:1.0px;background:#3a3634;"></div>
<div class="r" style="left:177.0px;top:1007.0px;width:1.0px;height:16.0px;background:#3a3634;"></div>
<div class="r" style="left:74.0px;top:1022.0px;width:104.0px;height:1.0px;background:#3a3634;"></div>
<div class="r" style="left:74.0px;top:1037.0px;width:104.0px;height:1.0px;background:#3a3634;"></div>
<div class="r" style="left:177.0px;top:1022.0px;width:1.0px;height:16.0px;background:#3a3634;"></div>
<div class="r" style="left:74.0px;top:1037.0px;width:104.0px;height:1.0px;background:#3a3634;"></div>
<div class="r" style="left:74.0px;top:1051.0px;width:104.0px;height:1.0px;background:#3a3634;"></div>
<div class="r" style="left:177.0px;top:1037.0px;width:1.0px;height:15.0px;background:#3a3634;"></div>
<div class="r" style="left:74.0px;top:1051.0px;width:104.0px;height:1.0px;background:#3a3634;"></div>
<div class="r" style="left:74.0px;top:1066.0px;width:104.0px;height:1.0px;background:#3a3634;"></div>
<div class="r" style="left:177.0px;top:1051.0px;width:1.0px;height:16.0px;background:#3a3634;"></div>
<div class="r" style="left:74.0px;top:1066.0px;width:104.0px;height:1.0px;background:#3a3634;"></div>
<div class="r" style="left:74.0px;top:1081.0px;width:104.0px;height:1.0px;background:#3a3634;"></div>
<div class="r" style="left:177.0px;top:1066.0px;width:1.0px;height:16.0px;background:#3a3634;"></div>
<div class="r" style="left:177.0px;top:993.0px;width:105.0px;height:1.0px;background:#3a3634;"></div>
<div class="r" style="left:177.0px;top:1007.0px;width:105.0px;height:1.0px;background:#3a3634;"></div>
<div class="r" style="left:177.0px;top:993.0px;width:1.0px;height:15.0px;background:#3a3634;"></div>
<div class="r" style="left:282.0px;top:993.0px;width:1.0px;height:15.0px;background:#3a3634;"></div>
<div class="r" style="left:282.0px;top:993.0px;width:104.0px;height:1.0px;background:#3a3634;"></div>
<div class="r" style="left:282.0px;top:1007.0px;width:104.0px;height:1.0px;background:#3a3634;"></div>
<div class="r" style="left:282.0px;top:993.0px;width:1.0px;height:15.0px;background:#3a3634;"></div>
<div class="r" style="left:385.0px;top:993.0px;width:1.0px;height:15.0px;background:#3a3634;"></div>
<div class="r" style="left:385.0px;top:993.0px;width:105.0px;height:1.0px;background:#3a3634;"></div>
<div class="r" style="left:385.0px;top:1007.0px;width:105.0px;height:1.0px;background:#3a3634;"></div>
<div class="r" style="left:385.0px;top:993.0px;width:1.0px;height:15.0px;background:#3a3634;"></div>
<div class="r" style="left:177.0px;top:1007.0px;width:313.0px;height:1.0px;background:#3a3634;"></div>
<div class="r" style="left:177.0px;top:1022.0px;width:313.0px;height:1.0px;background:#3a3634;"></div>
<div class="r" style="left:177.0px;top:1007.0px;width:1.0px;height:16.0px;background:#3a3634;"></div>
<div class="r" style="left:177.0px;top:1022.0px;width:105.0px;height:1.0px;background:#3a3634;"></div>
<div class="r" style="left:177.0px;top:1037.0px;width:105.0px;height:1.0px;background:#3a3634;"></div>
<div class="r" style="left:177.0px;top:1022.0px;width:1.0px;height:16.0px;background:#3a3634;"></div>
<div class="r" style="left:282.0px;top:1022.0px;width:1.0px;height:16.0px;background:#3a3634;"></div>
<div class="r" style="left:282.0px;top:1022.0px;width:208.0px;height:1.0px;background:#3a3634;"></div>
<div class="r" style="left:282.0px;top:1037.0px;width:208.0px;height:1.0px;background:#3a3634;"></div>
<div class="r" style="left:282.0px;top:1022.0px;width:1.0px;height:16.0px;background:#3a3634;"></div>
<div class="r" style="left:177.0px;top:1037.0px;width:313.0px;height:1.0px;background:#3a3634;"></div>
<div class="r" style="left:177.0px;top:1051.0px;width:313.0px;height:1.0px;background:#3a3634;"></div>
<div class="r" style="left:177.0px;top:1037.0px;width:1.0px;height:15.0px;background:#3a3634;"></div>
<div class="r" style="left:177.0px;top:1051.0px;width:313.0px;height:1.0px;background:#3a3634;"></div>
<div class="r" style="left:177.0px;top:1066.0px;width:313.0px;height:1.0px;background:#3a3634;"></div>
<div class="r" style="left:177.0px;top:1051.0px;width:1.0px;height:16.0px;background:#3a3634;"></div>
<div class="r" style="left:177.0px;top:1066.0px;width:105.0px;height:1.0px;background:#3a3634;"></div>
<div class="r" style="left:177.0px;top:1081.0px;width:105.0px;height:1.0px;background:#3a3634;"></div>
<div class="r" style="left:177.0px;top:1066.0px;width:1.0px;height:16.0px;background:#3a3634;"></div>
<div class="r" style="left:282.0px;top:1066.0px;width:1.0px;height:16.0px;background:#3a3634;"></div>
<div class="r" style="left:282.0px;top:1066.0px;width:104.0px;height:1.0px;background:#3a3634;"></div>
<div class="r" style="left:282.0px;top:1081.0px;width:104.0px;height:1.0px;background:#3a3634;"></div>
<div class="r" style="left:282.0px;top:1066.0px;width:1.0px;height:16.0px;background:#3a3634;"></div>
<div class="r" style="left:385.0px;top:1066.0px;width:1.0px;height:16.0px;background:#3a3634;"></div>
<div class="r" style="left:385.0px;top:1066.0px;width:105.0px;height:1.0px;background:#3a3634;"></div>
<div class="r" style="left:385.0px;top:1081.0px;width:105.0px;height:1.0px;background:#3a3634;"></div>
<div class="r" style="left:385.0px;top:1066.0px;width:1.0px;height:16.0px;background:#3a3634;"></div>
<div class="r" style="left:74.0px;top:992.0px;width:416.0px;height:2.0px;background:#3a3634;"></div>
<div class="r" style="left:74.0px;top:1081.0px;width:416.0px;height:2.0px;background:#3a3634;"></div>
<div class="r" style="left:177.0px;top:993.0px;width:1.0px;height:89.0px;background:#3a3634;"></div>
<div class="t" style="left:45.0px;top:1221.0px;font-size:18px;line-height:18px;font-weight:bold;color:#111;">69</div>
</body></html>
